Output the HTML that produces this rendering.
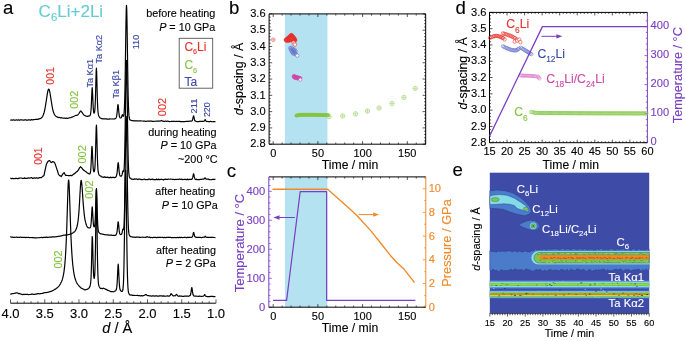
<!DOCTYPE html>
<html><head><meta charset="utf-8"><title>Figure</title>
<style>
html,body{margin:0;padding:0;background:#fff;}
svg{display:block;font-family:"Liberation Sans", sans-serif;will-change:transform;}
</style></head>
<body>
<svg width="685" height="341" viewBox="0 0 685 341">
<rect width="685" height="341" fill="#fff"/>
<text x="3" y="14" font-size="18.6" fill="#000" stroke="#000" stroke-width="0.12" text-anchor="start" style="" >a</text>
<text x="38.6" y="17.4" font-size="17" fill="#66ccd4" stroke="#66ccd4" stroke-width="0.12" text-anchor="start" style="" >C<tspan font-size="11.5" dy="4">6</tspan><tspan dy="-4">Li+2Li</tspan></text>
<path d="M10.2,120.05 L10.45,120.05 L10.7,120.05 L10.95,120.05 L11.2,119.98 L11.45,119.98 L11.7,119.97 L11.95,119.97 L12.2,120.17 L12.45,120.17 L12.7,120.17 L12.95,120.17 L13.2,119.94 L13.45,119.94 L13.7,119.93 L13.95,119.93 L14.2,120.12 L14.45,120.12 L14.7,120.11 L14.95,120.11 L15.2,120.04 L15.45,120.04 L15.7,120.04 L15.95,120.04 L16.2,119.91 L16.45,119.91 L16.7,119.91 L16.95,119.91 L17.2,120.09 L17.45,120.09 L17.7,120.08 L17.95,120.08 L18.2,119.89 L18.45,119.89 L18.7,119.89 L18.95,119.89 L19.2,120.04 L19.45,120.04 L19.7,120.04 L19.95,120.04 L20.2,119.89 L20.45,119.89 L20.7,119.88 L20.95,119.88 L21.2,119.89 L21.45,119.88 L21.7,119.88 L21.95,119.88 L22.2,120.01 L22.45,120.01 L22.7,120 L22.95,120 L23.2,120.16 L23.45,120.15 L23.7,120.15 L23.95,120.15 L24.2,119.86 L24.45,119.86 L24.7,119.86 L24.95,119.85 L25.2,119.89 L25.45,119.88 L25.7,119.88 L25.95,119.87 L26.2,120.03 L26.45,120.03 L26.7,120.02 L26.95,120.02 L27.2,120.14 L27.45,120.13 L27.7,120.13 L27.95,120.12 L28.2,119.97 L28.45,119.96 L28.7,119.96 L28.95,119.95 L29.2,119.87 L29.45,119.86 L29.7,119.86 L29.95,119.85 L30.2,120.07 L30.45,120.06 L30.7,120.05 L30.95,120.05 L31.2,119.66 L31.45,119.65 L31.7,119.64 L31.95,119.63 L32.2,119.95 L32.45,119.94 L32.7,119.92 L32.95,119.91 L33.2,119.67 L33.45,119.66 L33.7,119.64 L33.95,119.63 L34.2,119.55 L34.45,119.54 L34.7,119.52 L34.95,119.5 L35.2,119.46 L35.45,119.43 L35.7,119.4 L35.95,119.36 L36.2,119.4 L36.45,119.37 L36.7,119.33 L36.95,119.29 L37.2,119.45 L37.45,119.41 L37.7,119.36 L37.95,119.31 L38.2,119.01 L38.45,118.95 L38.7,118.89 L38.95,118.83 L39.2,118.92 L39.45,118.85 L39.7,118.77 L39.95,118.68 L40.2,118.61 L40.45,118.5 L40.7,118.38 L40.95,118.23 L41.2,117.96 L41.45,117.78 L41.7,117.56 L41.95,117.3 L42.2,117.08 L42.45,116.73 L42.7,116.33 L42.95,115.87 L43.2,115.14 L43.45,114.52 L43.7,113.82 L43.95,113.02 L44.2,112.1 L44.45,111.08 L44.7,109.95 L44.95,108.71 L45.2,107.42 L45.45,105.98 L45.7,104.45 L45.95,102.84 L46.2,101.37 L46.45,99.68 L46.7,97.98 L46.95,96.31 L47.2,94.61 L47.45,93.13 L47.7,91.82 L47.95,90.72 L48.2,89.85 L48.45,89.32 L48.7,89.11 L48.95,89.25 L49.2,89.83 L49.45,90.6 L49.7,91.63 L49.95,92.88 L50.2,94.24 L50.45,95.78 L50.7,97.38 L50.95,99.02 L51.2,100.59 L51.45,102.19 L51.7,103.73 L51.95,105.2 L52.2,106.77 L52.45,108.06 L52.7,109.23 L52.95,110.3 L53.2,111.22 L53.45,112.08 L53.7,112.83 L53.95,113.5 L54.2,113.89 L54.45,114.38 L54.7,114.8 L54.95,115.16 L55.2,115.59 L55.45,115.85 L55.7,116.06 L55.95,116.23 L56.2,116.39 L56.45,116.56 L56.7,116.7 L56.95,116.82 L57.2,117.08 L57.45,117.17 L57.7,117.26 L57.95,117.34 L58.2,117.36 L58.45,117.42 L58.7,117.49 L58.95,117.55 L59.2,117.42 L59.45,117.48 L59.7,117.52 L59.95,117.57 L60.2,117.89 L60.45,117.93 L60.7,117.97 L60.95,118.01 L61.2,117.71 L61.45,117.74 L61.7,117.78 L61.95,117.81 L62.2,117.96 L62.45,117.99 L62.7,118.01 L62.95,118.04 L63.2,118.2 L63.45,118.23 L63.7,118.25 L63.95,118.27 L64.2,118.05 L64.45,118.08 L64.7,118.1 L64.95,118.12 L65.2,118.27 L65.45,118.29 L65.7,118.31 L65.95,118.33 L66.2,118.17 L66.45,118.18 L66.7,118.2 L66.95,118.22 L67.2,118.43 L67.45,118.37 L67.7,118.31 L67.95,118.25 L68.2,118.22 L68.45,118.16 L68.7,118.1 L68.95,118.04 L69.2,117.9 L69.45,117.84 L69.7,117.78 L69.95,117.71 L70.2,117.77 L70.45,117.71 L70.7,117.64 L70.95,117.58 L71.2,117.29 L71.45,117.22 L71.7,117.15 L71.95,117.09 L72.2,117.14 L72.45,117.03 L72.7,116.92 L72.95,116.81 L73.2,116.65 L73.45,116.54 L73.7,116.43 L73.95,116.31 L74.2,116.19 L74.45,116.07 L74.7,115.95 L74.95,115.83 L75.2,115.65 L75.45,115.52 L75.7,115.39 L75.95,115.25 L76.2,115.36 L76.45,115.34 L76.7,115.31 L76.95,115.26 L77.2,115.22 L77.45,115.11 L77.7,114.97 L77.95,114.78 L78.2,114.36 L78.45,114.09 L78.7,113.76 L78.95,113.39 L79.2,113.06 L79.45,112.64 L79.7,112.22 L79.95,111.84 L80.2,111.28 L80.45,111.09 L80.7,111.04 L80.95,111.11 L81.2,111.51 L81.45,111.72 L81.7,111.99 L81.95,112.29 L82.2,112.6 L82.45,112.94 L82.7,113.29 L82.95,113.63 L83.2,114.09 L83.45,114.41 L83.7,114.7 L83.95,114.97 L84.2,115.14 L84.45,115.36 L84.7,115.56 L84.95,115.74 L85.2,115.68 L85.45,115.81 L85.7,115.92 L85.95,116.02 L86.2,116.14 L86.45,116.2 L86.7,116.24 L86.95,116.28 L87.2,116.41 L87.45,116.43 L87.7,116.43 L87.95,116.42 L88.2,116.14 L88.45,116.1 L88.7,116.05 L88.95,115.97 L89.2,116.05 L89.45,115.91 L89.7,115.72 L89.95,115.46 L90.2,114.94 L90.45,114.26 L90.7,113.05 L90.95,110.91 L91.2,107.39 L91.45,102.32 L91.7,96.11 L91.95,90.29 L92.2,87.7 L92.45,90.16 L92.7,95.85 L92.95,101.93 L93.2,107.12 L93.45,110.41 L93.7,112.29 L93.95,113.14 L94.2,113.01 L94.45,112.51 L94.7,111.21 L94.95,108.68 L95.2,104.37 L95.45,97.7 L95.7,88.76 L95.95,78.68 L96.2,70.44 L96.45,68.17 L96.7,73.5 L96.95,83.18 L97.2,93.44 L97.45,101.76 L97.7,107.7 L97.95,111.53 L98.2,113.52 L98.45,114.88 L98.7,115.72 L98.95,116.3 L99.2,116.87 L99.45,117.2 L99.7,117.47 L99.95,117.7 L100.2,117.91 L100.45,118.05 L100.7,118.16 L100.95,118.26 L101.2,118.48 L101.45,118.55 L101.7,118.62 L101.95,118.68 L102.2,118.7 L102.45,118.75 L102.7,118.79 L102.95,118.83 L103.2,118.88 L103.45,118.91 L103.7,118.94 L103.95,118.96 L104.2,118.75 L104.45,118.78 L104.7,118.8 L104.95,118.81 L105.2,118.89 L105.45,118.9 L105.7,118.92 L105.95,118.93 L106.2,118.93 L106.45,118.94 L106.7,118.95 L106.95,118.96 L107.2,119.18 L107.45,119.19 L107.7,119.2 L107.95,119.21 L108.2,119.25 L108.45,119.25 L108.7,119.26 L108.95,119.27 L109.2,118.95 L109.45,118.95 L109.7,118.96 L109.95,118.96 L110.2,118.97 L110.45,118.98 L110.7,118.98 L110.95,118.98 L111.2,119 L111.45,119 L111.7,118.99 L111.95,118.99 L112.2,118.98 L112.45,118.98 L112.7,118.97 L112.95,118.96 L113.2,119.04 L113.45,119.02 L113.7,119 L113.95,118.97 L114.2,118.98 L114.45,118.94 L114.7,118.89 L114.95,118.83 L115.2,118.6 L115.45,118.48 L115.7,118.31 L115.95,118.06 L116.2,117.56 L116.45,116.89 L116.7,115.78 L116.95,114.05 L117.2,111.8 L117.45,108.88 L117.7,106.07 L117.95,104.52 L118.2,105.16 L118.45,107.56 L118.7,110.48 L118.95,113.08 L119.2,115.1 L119.45,116.37 L119.7,117.12 L119.95,117.53 L120.2,117.89 L120.45,117.98 L120.7,117.98 L120.95,117.88 L121.2,117.56 L121.45,117.16 L121.7,116.52 L121.95,115.71 L122.2,114.89 L122.45,114.62 L122.7,115 L122.95,115.65 L123.2,116.19 L123.45,116.29 L123.7,115.78 L123.95,114.39 L124.2,111.74 L124.45,107.14 L124.7,99.89 L124.95,89.38 L125.2,75.21 L125.45,58.47 L125.7,40.43 L125.95,23.54 L126.2,11.15 L126.45,5.36 L126.7,8 L126.95,18.41 L127.2,34.12 L127.45,52.2 L127.7,69.87 L127.95,85.21 L128.2,97.32 L128.45,106 L128.7,111.78 L128.95,115.38 L129.2,117.47 L129.45,118.69 L129.7,119.39 L129.95,119.83 L130.2,119.91 L130.45,120.07 L130.7,120.19 L130.95,120.28 L131.2,120.37 L131.45,120.44 L131.7,120.5 L131.95,120.55 L132.2,120.48 L132.45,120.53 L132.7,120.56 L132.95,120.6 L133.2,120.84 L133.45,120.87 L133.7,120.89 L133.95,120.92 L134.2,120.71 L134.45,120.73 L134.7,120.74 L134.95,120.76 L135.2,120.78 L135.45,120.79 L135.7,120.8 L135.95,120.82 L136.2,120.88 L136.45,120.89 L136.7,120.9 L136.95,120.91 L137.2,120.9 L137.45,120.91 L137.7,120.92 L137.95,120.93 L138.2,121.01 L138.45,121.01 L138.7,121.02 L138.95,121.03 L139.2,120.92 L139.45,120.92 L139.7,120.93 L139.95,120.93 L140.2,120.92 L140.45,120.92 L140.7,120.93 L140.95,120.93 L141.2,121 L141.45,121 L141.7,121 L141.95,121.01 L142.2,120.99 L142.45,120.99 L142.7,121 L142.95,121 L143.2,121.11 L143.45,121.11 L143.7,121.12 L143.95,121.12 L144.2,120.99 L144.45,120.99 L144.7,120.99 L144.95,121 L145.2,121.34 L145.45,121.34 L145.7,121.34 L145.95,121.35 L146.2,121.24 L146.45,121.25 L146.7,121.25 L146.95,121.25 L147.2,121.07 L147.45,121.07 L147.7,121.07 L147.95,121.07 L148.2,121.12 L148.45,121.12 L148.7,121.12 L148.95,121.12 L149.2,121.16 L149.45,121.17 L149.7,121.17 L149.95,121.17 L150.2,121.18 L150.45,121.18 L150.7,121.18 L150.95,121.19 L151.2,121.09 L151.45,121.09 L151.7,121.09 L151.95,121.1 L152.2,121.39 L152.45,121.39 L152.7,121.39 L152.95,121.39 L153.2,121.45 L153.45,121.45 L153.7,121.45 L153.95,121.46 L154.2,121.25 L154.45,121.25 L154.7,121.25 L154.95,121.25 L155.2,121.26 L155.45,121.26 L155.7,121.26 L155.95,121.26 L156.2,121.1 L156.45,121.1 L156.7,121.1 L156.95,121.1 L157.2,121.11 L157.45,121.11 L157.7,121.1 L157.95,121.1 L158.2,121.19 L158.45,121.19 L158.7,121.18 L158.95,121.16 L159.2,121.1 L159.45,121.06 L159.7,121 L159.95,120.93 L160.2,121.06 L160.45,120.96 L160.7,120.88 L160.95,120.84 L161.2,120.6 L161.45,120.67 L161.7,120.76 L161.95,120.86 L162.2,120.89 L162.45,120.96 L162.7,121.01 L162.95,121.05 L163.2,121.44 L163.45,121.46 L163.7,121.47 L163.95,121.48 L164.2,121.31 L164.45,121.32 L164.7,121.32 L164.95,121.33 L165.2,121.18 L165.45,121.18 L165.7,121.18 L165.95,121.18 L166.2,121.35 L166.45,121.35 L166.7,121.35 L166.95,121.35 L167.2,121.15 L167.45,121.15 L167.7,121.15 L167.95,121.15 L168.2,121.36 L168.45,121.36 L168.7,121.36 L168.95,121.36 L169.2,121.54 L169.45,121.54 L169.7,121.55 L169.95,121.55 L170.2,121.5 L170.45,121.5 L170.7,121.51 L170.95,121.51 L171.2,121.44 L171.45,121.44 L171.7,121.44 L171.95,121.45 L172.2,121.27 L172.45,121.27 L172.7,121.28 L172.95,121.28 L173.2,121.32 L173.45,121.32 L173.7,121.32 L173.95,121.32 L174.2,121.25 L174.45,121.25 L174.7,121.25 L174.95,121.25 L175.2,121.49 L175.45,121.49 L175.7,121.5 L175.95,121.5 L176.2,121.4 L176.45,121.4 L176.7,121.4 L176.95,121.41 L177.2,121.51 L177.45,121.51 L177.7,121.51 L177.95,121.51 L178.2,121.33 L178.45,121.33 L178.7,121.33 L178.95,121.33 L179.2,121.29 L179.45,121.29 L179.7,121.29 L179.95,121.29 L180.2,121.53 L180.45,121.53 L180.7,121.53 L180.95,121.53 L181.2,121.6 L181.45,121.61 L181.7,121.61 L181.95,121.61 L182.2,121.56 L182.45,121.56 L182.7,121.56 L182.95,121.56 L183.2,121.54 L183.45,121.54 L183.7,121.54 L183.95,121.54 L184.2,121.55 L184.45,121.55 L184.7,121.55 L184.95,121.55 L185.2,121.52 L185.45,121.52 L185.7,121.52 L185.95,121.52 L186.2,121.31 L186.45,121.31 L186.7,121.31 L186.95,121.31 L187.2,121.42 L187.45,121.42 L187.7,121.42 L187.95,121.42 L188.2,121.35 L188.45,121.35 L188.7,121.34 L188.95,121.34 L189.2,121.2 L189.45,121.19 L189.7,121.18 L189.95,121.17 L190.2,121.16 L190.45,121.14 L190.7,121.12 L190.95,121.09 L191.2,121.15 L191.45,121.1 L191.7,121.02 L191.95,120.88 L192.2,120.62 L192.45,120.15 L192.7,119.36 L192.95,118.23 L193.2,117.06 L193.45,115.98 L193.7,115.86 L193.95,116.8 L194.2,118.25 L194.45,119.45 L194.7,120.31 L194.95,120.83 L195.2,120.92 L195.45,121.08 L195.7,121.17 L195.95,121.23 L196.2,121.47 L196.45,121.5 L196.7,121.53 L196.95,121.55 L197.2,121.59 L197.45,121.6 L197.7,121.61 L197.95,121.62 L198.2,121.62 L198.45,121.62 L198.7,121.63 L198.95,121.63 L199.2,121.4 L199.45,121.41 L199.7,121.41 L199.95,121.41 L200.2,121.36 L200.45,121.36 L200.7,121.36 L200.95,121.36 L201.2,121.37 L201.45,121.36 L201.7,121.36 L201.95,121.36 L202.2,121.35 L202.45,121.34 L202.7,121.34 L202.95,121.33 L203.2,121.31 L203.45,121.29 L203.7,121.25 L203.95,121.17 L204.2,121.16 L204.45,120.85 L204.7,120.37 L204.95,119.84 L205.2,119.69 L205.45,119.95 L205.7,120.49 L205.95,120.97 L206.2,121.26 L206.45,121.44 L206.7,121.52 L206.95,121.57 L207.2,121.45 L207.45,121.47 L207.7,121.48 L207.95,121.49 L208.2,121.57 L208.45,121.58 L208.7,121.58 L208.95,121.59 L209.2,121.65 L209.45,121.66 L209.7,121.66 L209.95,121.66 L210.2,121.38 L210.45,121.38 L210.7,121.38 L210.95,121.39 L211.2,121.62 L211.45,121.62 L211.7,121.62 L211.95,121.63 L212.2,121.73 L212.45,121.73 L212.7,121.73 L212.95,121.73 L213.2,121.68 L213.45,121.68 L213.7,121.69 L213.95,121.69 L214.2,121.68 L214.45,121.68 L214.7,121.68 L214.95,121.68 L215.2,121.57 L215.45,121.57" stroke="#000" stroke-width="1.2" fill="none" stroke-linejoin="round" />
<path d="M10.2,178.27 L10.45,178.26 L10.7,178.26 L10.95,178.25 L11.2,178.67 L11.45,178.67 L11.7,178.66 L11.95,178.66 L12.2,178.33 L12.45,178.33 L12.7,178.32 L12.95,178.32 L13.2,178.64 L13.45,178.63 L13.7,178.63 L13.95,178.62 L14.2,178.73 L14.45,178.73 L14.7,178.72 L14.95,178.72 L15.2,178.31 L15.45,178.3 L15.7,178.3 L15.95,178.29 L16.2,178.29 L16.45,178.28 L16.7,178.28 L16.95,178.27 L17.2,178.65 L17.45,178.64 L17.7,178.64 L17.95,178.63 L18.2,178.47 L18.45,178.47 L18.7,178.46 L18.95,178.45 L19.2,178.06 L19.45,178.05 L19.7,178.05 L19.95,178.04 L20.2,178.01 L20.45,178 L20.7,178 L20.95,177.99 L21.2,178 L21.45,178 L21.7,177.99 L21.95,177.98 L22.2,178.51 L22.45,178.5 L22.7,178.5 L22.95,178.49 L23.2,178.41 L23.45,178.41 L23.7,178.4 L23.95,178.4 L24.2,177.93 L24.45,177.92 L24.7,177.92 L24.95,177.91 L25.2,178.38 L25.45,178.38 L25.7,178.37 L25.95,178.37 L26.2,178.47 L26.45,178.46 L26.7,178.46 L26.95,178.45 L27.2,178.22 L27.45,178.21 L27.7,178.21 L27.95,178.2 L28.2,177.98 L28.45,177.98 L28.7,177.97 L28.95,177.96 L29.2,178.1 L29.45,178.09 L29.7,178.09 L29.95,178.08 L30.2,177.78 L30.45,177.78 L30.7,177.77 L30.95,177.77 L31.2,177.68 L31.45,177.67 L31.7,177.67 L31.95,177.66 L32.2,178.33 L32.45,178.32 L32.7,178.31 L32.95,178.31 L33.2,178.08 L33.45,178.07 L33.7,178.07 L33.95,178.06 L34.2,177.97 L34.45,177.96 L34.7,177.96 L34.95,177.95 L35.2,178.23 L35.45,178.23 L35.7,178.22 L35.95,178.21 L36.2,177.86 L36.45,177.85 L36.7,177.85 L36.95,177.84 L37.2,178.14 L37.45,178.14 L37.7,178.13 L37.95,178.12 L38.2,178.09 L38.45,178.08 L38.7,178.08 L38.95,178.07 L39.2,177.63 L39.45,177.63 L39.7,177.62 L39.95,177.62 L40.2,177.64 L40.45,177.63 L40.7,177.63 L40.95,177.62 L41.2,177.65 L41.45,177.52 L41.7,177.3 L41.95,177.09 L42.2,176.84 L42.45,176.63 L42.7,176.41 L42.95,176.2 L43.2,176.23 L43.45,176.02 L43.7,175.8 L43.95,175.59 L44.2,174.37 L44.45,173.18 L44.7,171.99 L44.95,170.81 L45.2,169.73 L45.45,168.54 L45.7,167.35 L45.95,166.17 L46.2,165.14 L46.45,164.41 L46.7,163.67 L46.95,162.94 L47.2,162.75 L47.45,162.02 L47.7,161.78 L47.95,161.66 L48.2,161.15 L48.45,161.03 L48.7,160.91 L48.95,160.79 L49.2,160.75 L49.45,160.63 L49.7,160.68 L49.95,161 L50.2,161.41 L50.45,161.73 L50.7,162.06 L50.95,162.38 L51.2,162.59 L51.45,162.49 L51.7,162.4 L51.95,162.3 L52.2,161.86 L52.45,161.77 L52.7,161.67 L52.95,161.58 L53.2,161.83 L53.45,161.73 L53.7,161.82 L53.95,162.2 L54.2,162.28 L54.45,162.66 L54.7,163.03 L54.95,163.41 L55.2,164.1 L55.45,164.85 L55.7,165.6 L55.95,166.35 L56.2,167.09 L56.45,167.84 L56.7,168.64 L56.95,169.46 L57.2,169.92 L57.45,170.73 L57.7,171.54 L57.95,172.35 L58.2,173.46 L58.45,174.27 L58.7,174.66 L58.95,174.95 L59.2,175.06 L59.45,175.35 L59.7,175.64 L59.95,175.8 L60.2,175.74 L60.45,175.81 L60.7,175.88 L60.95,175.95 L61.2,176.58 L61.45,176.25 L61.7,175.91 L61.95,175.58 L62.2,174.81 L62.45,174.47 L62.7,174.14 L62.95,173.81 L63.2,173.7 L63.45,173.39 L63.7,173.07 L63.95,172.76 L64.2,172.62 L64.45,173.16 L64.7,173.7 L64.95,174.23 L65.2,174.65 L65.45,175.18 L65.7,175.51 L65.95,175.51 L66.2,175.35 L66.45,175.35 L66.7,175.36 L66.95,175.36 L67.2,175.5 L67.45,175.5 L67.7,175.5 L67.95,175.51 L68.2,175.54 L68.45,175.54 L68.7,175.54 L68.95,175.55 L69.2,175.71 L69.45,175.71 L69.7,175.71 L69.95,175.72 L70.2,175.25 L70.45,175.25 L70.7,175.25 L70.95,175.25 L71.2,175.58 L71.45,175.58 L71.7,175.58 L71.95,175.58 L72.2,175.28 L72.45,175.07 L72.7,174.87 L72.95,174.66 L73.2,174.47 L73.45,174.26 L73.7,174.05 L73.95,173.84 L74.2,173.98 L74.45,173.77 L74.7,173.56 L74.95,173.35 L75.2,172.96 L75.45,172.75 L75.7,172.54 L75.95,172.33 L76.2,172.16 L76.45,171.95 L76.7,171.74 L76.95,171.53 L77.2,171.46 L77.45,171.21 L77.7,170.85 L77.95,170.48 L78.2,170.22 L78.45,169.86 L78.7,169.49 L78.95,169.13 L79.2,168.43 L79.45,168.06 L79.7,167.7 L79.95,167.33 L80.2,167.08 L80.45,166.71 L80.7,166.87 L80.95,167.16 L81.2,167.37 L81.45,167.65 L81.7,167.94 L81.95,168.22 L82.2,168.51 L82.45,168.8 L82.7,169.08 L82.95,169.36 L83.2,169.77 L83.45,170.05 L83.7,170.26 L83.95,170.45 L84.2,170.47 L84.45,170.65 L84.7,170.84 L84.95,171.02 L85.2,171.26 L85.45,171.44 L85.7,171.61 L85.95,171.79 L86.2,171.92 L86.45,172.09 L86.7,172.26 L86.95,172.42 L87.2,172.9 L87.45,173.05 L87.7,173.19 L87.95,173.33 L88.2,173.34 L88.45,173.5 L88.7,173.64 L88.95,173.75 L89.2,173.96 L89.45,174 L89.7,173.97 L89.95,173.7 L90.2,173.23 L90.45,172.24 L90.7,170.41 L90.95,167.3 L91.2,162.03 L91.45,155.91 L91.7,149.77 L91.95,146.26 L92.2,147.91 L92.45,153.16 L92.7,159.29 L92.95,164.45 L93.2,168.31 L93.45,170.43 L93.7,171.47 L93.95,171.8 L94.2,171.58 L94.45,170.97 L94.7,169.61 L94.95,167.01 L95.2,162.08 L95.45,155.28 L95.7,146.17 L95.95,135.91 L96.2,127.46 L96.45,125.17 L96.7,130.62 L96.95,140.53 L97.2,151.04 L97.45,159.55 L97.7,165.65 L97.95,169.58 L98.2,171.7 L98.45,173.12 L98.7,173.95 L98.95,174.5 L99.2,175.02 L99.45,175.32 L99.7,175.56 L99.95,175.76 L100.2,175.81 L100.45,175.95 L100.7,176.06 L100.95,176.16 L101.2,176.67 L101.45,176.75 L101.7,176.81 L101.95,176.87 L102.2,177.01 L102.45,177.05 L102.7,177.1 L102.95,177.14 L103.2,177.25 L103.45,177.28 L103.7,177.31 L103.95,177.34 L104.2,176.85 L104.45,176.87 L104.7,176.89 L104.95,176.92 L105.2,177.33 L105.45,177.35 L105.7,177.36 L105.95,177.38 L106.2,177.36 L106.45,177.37 L106.7,177.38 L106.95,177.4 L107.2,177.05 L107.45,177.06 L107.7,177.07 L107.95,177.08 L108.2,177.61 L108.45,177.62 L108.7,177.63 L108.95,177.63 L109.2,177.7 L109.45,177.71 L109.7,177.71 L109.95,177.72 L110.2,177.2 L110.45,177.2 L110.7,177.21 L110.95,177.21 L111.2,177.72 L111.45,177.73 L111.7,177.72 L111.95,177.72 L112.2,177.33 L112.45,177.33 L112.7,177.32 L112.95,177.31 L113.2,177.36 L113.45,177.35 L113.7,177.33 L113.95,177.31 L114.2,177.63 L114.45,177.6 L114.7,177.55 L114.95,177.5 L115.2,177.32 L115.45,177.23 L115.7,177.11 L115.95,176.94 L116.2,176.21 L116.45,175.77 L116.7,175.02 L116.95,173.77 L117.2,172.04 L117.45,169.43 L117.7,166.38 L117.95,163.64 L118.2,162.53 L118.45,163.67 L118.7,166.38 L118.95,169.4 L119.2,171.85 L119.45,173.73 L119.7,174.94 L119.95,175.64 L120.2,175.92 L120.45,176.12 L120.7,176.21 L120.95,176.21 L121.2,176.22 L121.45,176.03 L121.7,175.62 L121.95,174.91 L122.2,174.13 L122.45,172.79 L122.7,171.53 L122.95,171 L123.2,170.89 L123.45,171.52 L123.7,171.55 L123.95,170.35 L124.2,167.73 L124.45,162.26 L124.7,153.66 L124.95,141.53 L125.2,125.92 L125.45,107.97 L125.7,89.6 L125.95,73.6 L126.2,62.8 L126.45,60.25 L126.7,66.35 L126.95,79.58 L127.2,97.29 L127.45,115.97 L127.7,133.32 L127.95,147.77 L128.2,158.93 L128.45,166.57 L128.7,171.5 L128.95,174.5 L129.2,176.16 L129.45,177.15 L129.7,177.73 L129.95,178.1 L130.2,178 L130.45,178.14 L130.7,178.25 L130.95,178.34 L131.2,179.07 L131.45,179.13 L131.7,179.19 L131.95,179.24 L132.2,179.15 L132.45,179.19 L132.7,179.23 L132.95,179.26 L133.2,179.42 L133.45,179.44 L133.7,179.47 L133.95,179.49 L134.2,178.9 L134.45,178.92 L134.7,178.94 L134.95,178.95 L135.2,179.08 L135.45,179.09 L135.7,179.1 L135.95,179.11 L136.2,178.96 L136.45,178.97 L136.7,178.98 L136.95,178.99 L137.2,179.52 L137.45,179.52 L137.7,179.53 L137.95,179.54 L138.2,179.19 L138.45,179.19 L138.7,179.2 L138.95,179.2 L139.2,179.11 L139.45,179.11 L139.7,179.12 L139.95,179.12 L140.2,179.33 L140.45,179.33 L140.7,179.34 L140.95,179.34 L141.2,179.69 L141.45,179.69 L141.7,179.69 L141.95,179.69 L142.2,179.63 L142.45,179.63 L142.7,179.64 L142.95,179.64 L143.2,179.25 L143.45,179.25 L143.7,179.25 L143.95,179.25 L144.2,179.18 L144.45,179.18 L144.7,179.18 L144.95,179.18 L145.2,179.73 L145.45,179.73 L145.7,179.73 L145.95,179.73 L146.2,179.49 L146.45,179.49 L146.7,179.49 L146.95,179.49 L147.2,179.58 L147.45,179.58 L147.7,179.59 L147.95,179.59 L148.2,179.16 L148.45,179.16 L148.7,179.16 L148.95,179.16 L149.2,179.14 L149.45,179.14 L149.7,179.14 L149.95,179.14 L150.2,179.59 L150.45,179.59 L150.7,179.59 L150.95,179.59 L151.2,179.41 L151.45,179.41 L151.7,179.41 L151.95,179.41 L152.2,179.16 L152.45,179.16 L152.7,179.16 L152.95,179.16 L153.2,179.77 L153.45,179.77 L153.7,179.77 L153.95,179.77 L154.2,179.56 L154.45,179.56 L154.7,179.56 L154.95,179.56 L155.2,179.68 L155.45,179.68 L155.7,179.68 L155.95,179.68 L156.2,179.18 L156.45,179.18 L156.7,179.18 L156.95,179.18 L157.2,179.72 L157.45,179.72 L157.7,179.72 L157.95,179.72 L158.2,179.17 L158.45,179.17 L158.7,179.17 L158.95,179.17 L159.2,179.73 L159.45,179.73 L159.7,179.73 L159.95,179.73 L160.2,179.44 L160.45,179.44 L160.7,179.44 L160.95,179.44 L161.2,179.36 L161.45,179.36 L161.7,179.36 L161.95,179.36 L162.2,179.51 L162.45,179.51 L162.7,179.51 L162.95,179.51 L163.2,179.78 L163.45,179.78 L163.7,179.78 L163.95,179.78 L164.2,179.32 L164.45,179.32 L164.7,179.32 L164.95,179.32 L165.2,179.22 L165.45,179.22 L165.7,179.22 L165.95,179.22 L166.2,179.5 L166.45,179.5 L166.7,179.5 L166.95,179.5 L167.2,179.3 L167.45,179.3 L167.7,179.3 L167.95,179.3 L168.2,179.21 L168.45,179.21 L168.7,179.21 L168.95,179.21 L169.2,179.24 L169.45,179.24 L169.7,179.24 L169.95,179.24 L170.2,179.17 L170.45,179.17 L170.7,179.17 L170.95,179.17 L171.2,179.27 L171.45,179.27 L171.7,179.27 L171.95,179.27 L172.2,179.35 L172.45,179.35 L172.7,179.35 L172.95,179.35 L173.2,179.35 L173.45,179.35 L173.7,179.35 L173.95,179.35 L174.2,179.66 L174.45,179.66 L174.7,179.66 L174.95,179.66 L175.2,179.34 L175.45,179.34 L175.7,179.34 L175.95,179.34 L176.2,179.48 L176.45,179.48 L176.7,179.48 L176.95,179.48 L177.2,179.26 L177.45,179.26 L177.7,179.26 L177.95,179.26 L178.2,179.37 L178.45,179.37 L178.7,179.37 L178.95,179.37 L179.2,179.14 L179.45,179.14 L179.7,179.14 L179.95,179.14 L180.2,179.31 L180.45,179.31 L180.7,179.31 L180.95,179.31 L181.2,179.14 L181.45,179.14 L181.7,179.14 L181.95,179.14 L182.2,179.64 L182.45,179.64 L182.7,179.64 L182.95,179.64 L183.2,179.51 L183.45,179.51 L183.7,179.51 L183.95,179.51 L184.2,179.26 L184.45,179.26 L184.7,179.25 L184.95,179.25 L185.2,179.45 L185.45,179.45 L185.7,179.45 L185.95,179.45 L186.2,179.77 L186.45,179.77 L186.7,179.76 L186.95,179.76 L187.2,179.18 L187.45,179.18 L187.7,179.17 L187.95,179.17 L188.2,179.67 L188.45,179.66 L188.7,179.66 L188.95,179.65 L189.2,179.37 L189.45,179.36 L189.7,179.35 L189.95,179.34 L190.2,179.37 L190.45,179.35 L190.7,179.33 L190.95,179.3 L191.2,179.5 L191.45,179.44 L191.7,179.36 L191.95,179.22 L192.2,178.65 L192.45,178.18 L192.7,177.4 L192.95,176.26 L193.2,175 L193.45,173.91 L193.7,173.79 L193.95,174.74 L194.2,176.21 L194.45,177.41 L194.7,178.26 L194.95,178.79 L195.2,179.28 L195.45,179.44 L195.7,179.53 L195.95,179.59 L196.2,179.18 L196.45,179.21 L196.7,179.24 L196.95,179.26 L197.2,179.62 L197.45,179.63 L197.7,179.64 L197.95,179.65 L198.2,179.57 L198.45,179.57 L198.7,179.58 L198.95,179.58 L199.2,179.54 L199.45,179.54 L199.7,179.54 L199.95,179.54 L200.2,179.38 L200.45,179.38 L200.7,179.38 L200.95,179.38 L201.2,179.34 L201.45,179.34 L201.7,179.34 L201.95,179.34 L202.2,179.13 L202.45,179.13 L202.7,179.12 L202.95,179.11 L203.2,179.15 L203.45,179.13 L203.7,179.09 L203.95,179.02 L204.2,178.83 L204.45,178.56 L204.7,178.16 L204.95,177.7 L205.2,177.95 L205.45,178.18 L205.7,178.63 L205.95,179.03 L206.2,178.97 L206.45,179.11 L206.7,179.19 L206.95,179.22 L207.2,179.18 L207.45,179.2 L207.7,179.21 L207.95,179.21 L208.2,179.16 L208.45,179.17 L208.7,179.17 L208.95,179.18 L209.2,179.71 L209.45,179.71 L209.7,179.71 L209.95,179.72 L210.2,179.74 L210.45,179.74 L210.7,179.74 L210.95,179.74 L211.2,179.6 L211.45,179.6 L211.7,179.6 L211.95,179.6 L212.2,179.33 L212.45,179.33 L212.7,179.33 L212.95,179.33 L213.2,179.31 L213.45,179.31 L213.7,179.31 L213.95,179.31 L214.2,179.34 L214.45,179.34 L214.7,179.34 L214.95,179.34 L215.2,179.46 L215.45,179.46" stroke="#000" stroke-width="1.2" fill="none" stroke-linejoin="round" />
<path d="M10.2,236.93 L10.45,236.93 L10.7,236.94 L10.95,236.95 L11.2,237.07 L11.45,237.08 L11.7,237.09 L11.95,237.1 L12.2,237.03 L12.45,237.04 L12.7,237.05 L12.95,237.05 L13.2,237.34 L13.45,237.35 L13.7,237.36 L13.95,237.36 L14.2,237.38 L14.45,237.38 L14.7,237.39 L14.95,237.4 L15.2,237.24 L15.45,237.24 L15.7,237.25 L15.95,237.26 L16.2,237.15 L16.45,237.15 L16.7,237.16 L16.95,237.17 L17.2,237.47 L17.45,237.47 L17.7,237.48 L17.95,237.49 L18.2,237.23 L18.45,237.24 L18.7,237.25 L18.95,237.26 L19.2,237.28 L19.45,237.29 L19.7,237.3 L19.95,237.31 L20.2,237.17 L20.45,237.18 L20.7,237.19 L20.95,237.2 L21.2,237.36 L21.45,237.36 L21.7,237.37 L21.95,237.38 L22.2,237.42 L22.45,237.43 L22.7,237.44 L22.95,237.45 L23.2,237.46 L23.45,237.47 L23.7,237.48 L23.95,237.49 L24.2,237.37 L24.45,237.38 L24.7,237.39 L24.95,237.4 L25.2,237.53 L25.45,237.53 L25.7,237.54 L25.95,237.55 L26.2,237.36 L26.45,237.36 L26.7,237.37 L26.95,237.38 L27.2,237.49 L27.45,237.5 L27.7,237.51 L27.95,237.51 L28.2,237.45 L28.45,237.46 L28.7,237.47 L28.95,237.47 L29.2,237.6 L29.45,237.61 L29.7,237.62 L29.95,237.63 L30.2,237.49 L30.45,237.5 L30.7,237.51 L30.95,237.51 L31.2,237.51 L31.45,237.52 L31.7,237.53 L31.95,237.53 L32.2,237.65 L32.45,237.66 L32.7,237.67 L32.95,237.68 L33.2,237.65 L33.45,237.66 L33.7,237.67 L33.95,237.68 L34.2,237.82 L34.45,237.83 L34.7,237.84 L34.95,237.85 L35.2,237.82 L35.45,237.8 L35.7,237.79 L35.95,237.78 L36.2,237.86 L36.45,237.84 L36.7,237.83 L36.95,237.82 L37.2,237.77 L37.45,237.76 L37.7,237.74 L37.95,237.73 L38.2,237.74 L38.45,237.73 L38.7,237.72 L38.95,237.71 L39.2,237.76 L39.45,237.75 L39.7,237.73 L39.95,237.72 L40.2,237.51 L40.45,237.5 L40.7,237.49 L40.95,237.48 L41.2,237.44 L41.45,237.42 L41.7,237.41 L41.95,237.4 L42.2,237.65 L42.45,237.64 L42.7,237.62 L42.95,237.61 L43.2,237.26 L43.45,237.25 L43.7,237.24 L43.95,237.23 L44.2,237.44 L44.45,237.43 L44.7,237.42 L44.95,237.4 L45.2,237.36 L45.45,237.34 L45.7,237.33 L45.95,237.32 L46.2,237.07 L46.45,237.05 L46.7,237.04 L46.95,237.03 L47.2,237.33 L47.45,237.31 L47.7,237.3 L47.95,237.29 L48.2,237.3 L48.45,237.28 L48.7,237.27 L48.95,237.26 L49.2,237.14 L49.45,237.12 L49.7,237.11 L49.95,237.09 L50.2,237.12 L50.45,237.11 L50.7,237.09 L50.95,237.08 L51.2,237.1 L51.45,237.08 L51.7,237.07 L51.95,237.05 L52.2,236.77 L52.45,236.75 L52.7,236.74 L52.95,236.72 L53.2,236.86 L53.45,236.85 L53.7,236.83 L53.95,236.82 L54.2,236.79 L54.45,236.78 L54.7,236.76 L54.95,236.75 L55.2,236.85 L55.45,236.81 L55.7,236.78 L55.95,236.74 L56.2,236.69 L56.45,236.66 L56.7,236.62 L56.95,236.59 L57.2,236.56 L57.45,236.52 L57.7,236.48 L57.95,236.45 L58.2,236.31 L58.45,236.28 L58.7,236.24 L58.95,236.2 L59.2,236.29 L59.45,236.25 L59.7,236.21 L59.95,236.17 L60.2,236.05 L60.45,236.01 L60.7,235.97 L60.95,235.93 L61.2,235.89 L61.45,235.85 L61.7,235.81 L61.95,235.77 L62.2,235.54 L62.45,235.5 L62.7,235.45 L62.95,235.41 L63.2,235.29 L63.45,235.25 L63.7,235.21 L63.95,235.18 L64.2,235.18 L64.45,235.15 L64.7,235.11 L64.95,235.07 L65.2,235.13 L65.45,235.09 L65.7,235.05 L65.95,235 L66.2,234.86 L66.45,234.82 L66.7,234.77 L66.95,234.72 L67.2,234.97 L67.45,234.92 L67.7,234.87 L67.95,234.81 L68.2,234.65 L68.45,234.59 L68.7,234.53 L68.95,234.47 L69.2,234.43 L69.45,234.36 L69.7,234.29 L69.95,234.22 L70.2,234.14 L70.45,234.06 L70.7,233.98 L70.95,233.89 L71.2,233.82 L71.45,233.72 L71.7,233.62 L71.95,233.51 L72.2,233.31 L72.45,233.18 L72.7,233.04 L72.95,232.89 L73.2,232.54 L73.45,232.36 L73.7,232.18 L73.95,231.97 L74.2,232.06 L74.45,231.82 L74.7,231.54 L74.95,231.24 L75.2,230.89 L75.45,230.51 L75.7,230.09 L75.95,229.61 L76.2,228.96 L76.45,228.33 L76.7,227.6 L76.95,226.74 L77.2,225.75 L77.45,224.56 L77.7,223.15 L77.95,221.48 L78.2,219.55 L78.45,217.21 L78.7,214.49 L78.95,211.35 L79.2,207.53 L79.45,203.52 L79.7,199.13 L79.95,194.52 L80.2,190.2 L80.45,186.01 L80.7,182.72 L80.95,180.8 L81.2,180.33 L81.45,181.27 L81.7,183.19 L81.95,185.89 L82.2,189.05 L82.45,192.56 L82.7,196.16 L82.95,199.68 L83.2,203.1 L83.45,206.22 L83.7,209.06 L83.95,211.62 L84.2,214.08 L84.45,216.09 L84.7,217.86 L84.95,219.41 L85.2,220.54 L85.45,221.71 L85.7,222.72 L85.95,223.59 L86.2,224.55 L86.45,225.2 L86.7,225.75 L86.95,226.22 L87.2,226.72 L87.45,227.07 L87.7,227.37 L87.95,227.61 L88.2,227.62 L88.45,227.79 L88.7,227.91 L88.95,228 L89.2,228 L89.45,228.01 L89.7,227.95 L89.95,227.87 L90.2,227.7 L90.45,227.26 L90.7,226.38 L90.95,224.76 L91.2,222.13 L91.45,218.17 L91.7,213.29 L91.95,208.72 L92.2,206.75 L92.45,208.73 L92.7,213.27 L92.95,218.1 L93.2,221.94 L93.45,224.55 L93.7,226.03 L93.95,226.68 L94.2,226.82 L94.45,226.53 L94.7,225.55 L94.95,223.48 L95.2,219.59 L95.45,213.88 L95.7,206.18 L95.95,197.47 L96.2,190.37 L96.45,188.53 L96.7,193.38 L96.95,202.07 L97.2,211.13 L97.45,218.61 L97.7,224 L97.95,227.53 L98.2,229.91 L98.45,231.26 L98.7,232.03 L98.95,232.51 L99.2,232.69 L99.45,232.97 L99.7,233.19 L99.95,233.38 L100.2,233.64 L100.45,233.77 L100.7,233.88 L100.95,233.98 L101.2,233.84 L101.45,233.91 L101.7,233.98 L101.95,234.04 L102.2,234.11 L102.45,234.16 L102.7,234.2 L102.95,234.24 L103.2,234.36 L103.45,234.4 L103.7,234.43 L103.95,234.45 L104.2,234.64 L104.45,234.67 L104.7,234.69 L104.95,234.71 L105.2,234.74 L105.45,234.76 L105.7,234.79 L105.95,234.82 L106.2,234.85 L106.45,234.88 L106.7,234.91 L106.95,234.94 L107.2,234.82 L107.45,234.85 L107.7,234.87 L107.95,234.9 L108.2,235.02 L108.45,235.04 L108.7,235.07 L108.95,235.09 L109.2,235.1 L109.45,235.12 L109.7,235.14 L109.95,235.16 L110.2,235.18 L110.45,235.2 L110.7,235.22 L110.95,235.24 L111.2,235.12 L111.45,235.13 L111.7,235.15 L111.95,235.16 L112.2,235.49 L112.45,235.5 L112.7,235.5 L112.95,235.51 L113.2,235.24 L113.45,235.24 L113.7,235.24 L113.95,235.23 L114.2,235.53 L114.45,235.51 L114.7,235.48 L114.95,235.45 L115.2,235.37 L115.45,235.29 L115.7,235.18 L115.95,235.03 L116.2,234.42 L116.45,234.01 L116.7,233.31 L116.95,232.14 L117.2,230.54 L117.45,228.1 L117.7,225.25 L117.95,222.69 L118.2,221.75 L118.45,222.81 L118.7,225.34 L118.95,228.16 L119.2,230.63 L119.45,232.38 L119.7,233.5 L119.95,234.16 L120.2,234.31 L120.45,234.49 L120.7,234.56 L120.95,234.56 L121.2,234.42 L121.45,234.22 L121.7,233.85 L121.95,233.18 L122.2,232.17 L122.45,230.91 L122.7,229.7 L122.95,229.08 L123.2,229.48 L123.45,229.58 L123.7,228.78 L123.95,226.29 L124.2,221.12 L124.45,213.13 L124.7,201.56 L124.95,186.41 L125.2,168.67 L125.45,149.86 L125.7,132.84 L125.95,120.79 L126.2,116.27 L126.45,120.76 L126.7,132.96 L126.95,150.12 L127.2,169.24 L127.45,187.31 L127.7,202.66 L127.95,214.51 L128.2,223.07 L128.45,228.56 L128.7,231.93 L128.95,233.89 L129.2,234.68 L129.45,235.32 L129.7,235.71 L129.95,235.98 L130.2,236.42 L130.45,236.54 L130.7,236.64 L130.95,236.72 L131.2,236.67 L131.45,236.73 L131.7,236.79 L131.95,236.84 L132.2,237.03 L132.45,237.07 L132.7,237.1 L132.95,237.14 L133.2,237.09 L133.45,237.11 L133.7,237.14 L133.95,237.16 L134.2,236.99 L134.45,237.01 L134.7,237.02 L134.95,237.04 L135.2,237.32 L135.45,237.33 L135.7,237.34 L135.95,237.35 L136.2,237.2 L136.45,237.21 L136.7,237.22 L136.95,237.23 L137.2,237.05 L137.45,237.06 L137.7,237.06 L137.95,237.07 L138.2,237.07 L138.45,237.07 L138.7,237.08 L138.95,237.09 L139.2,237.29 L139.45,237.29 L139.7,237.3 L139.95,237.3 L140.2,237.29 L140.45,237.29 L140.7,237.29 L140.95,237.3 L141.2,237.24 L141.45,237.24 L141.7,237.25 L141.95,237.25 L142.2,237.19 L142.45,237.19 L142.7,237.19 L142.95,237.19 L143.2,237.27 L143.45,237.27 L143.7,237.28 L143.95,237.27 L144.2,237.26 L144.45,237.26 L144.7,237.26 L144.95,237.25 L145.2,237.45 L145.45,237.43 L145.7,237.41 L145.95,237.37 L146.2,236.97 L146.45,236.9 L146.7,236.81 L146.95,236.71 L147.2,236.93 L147.45,236.89 L147.7,236.91 L147.95,236.98 L148.2,237.11 L148.45,237.21 L148.7,237.3 L148.95,237.36 L149.2,237.13 L149.45,237.16 L149.7,237.18 L149.95,237.2 L150.2,237.53 L150.45,237.54 L150.7,237.55 L150.95,237.55 L151.2,237.47 L151.45,237.47 L151.7,237.48 L151.95,237.48 L152.2,237.56 L152.45,237.56 L152.7,237.56 L152.95,237.56 L153.2,237.32 L153.45,237.32 L153.7,237.32 L153.95,237.32 L154.2,237.36 L154.45,237.36 L154.7,237.36 L154.95,237.36 L155.2,237.37 L155.45,237.37 L155.7,237.37 L155.95,237.38 L156.2,237.62 L156.45,237.62 L156.7,237.62 L156.95,237.62 L157.2,237.46 L157.45,237.46 L157.7,237.46 L157.95,237.46 L158.2,237.37 L158.45,237.37 L158.7,237.37 L158.95,237.37 L159.2,237.4 L159.45,237.4 L159.7,237.4 L159.95,237.4 L160.2,237.34 L160.45,237.34 L160.7,237.34 L160.95,237.34 L161.2,237.25 L161.45,237.25 L161.7,237.25 L161.95,237.25 L162.2,237.28 L162.45,237.28 L162.7,237.28 L162.95,237.28 L163.2,237.57 L163.45,237.57 L163.7,237.57 L163.95,237.57 L164.2,237.35 L164.45,237.35 L164.7,237.36 L164.95,237.36 L165.2,237.62 L165.45,237.62 L165.7,237.62 L165.95,237.62 L166.2,237.34 L166.45,237.34 L166.7,237.34 L166.95,237.34 L167.2,237.35 L167.45,237.35 L167.7,237.35 L167.95,237.35 L168.2,237.45 L168.45,237.45 L168.7,237.45 L168.95,237.45 L169.2,237.32 L169.45,237.32 L169.7,237.32 L169.95,237.32 L170.2,237.4 L170.45,237.4 L170.7,237.4 L170.95,237.4 L171.2,237.63 L171.45,237.63 L171.7,237.63 L171.95,237.63 L172.2,237.6 L172.45,237.6 L172.7,237.61 L172.95,237.61 L173.2,237.58 L173.45,237.58 L173.7,237.58 L173.95,237.58 L174.2,237.51 L174.45,237.51 L174.7,237.51 L174.95,237.51 L175.2,237.62 L175.45,237.62 L175.7,237.62 L175.95,237.62 L176.2,237.63 L176.45,237.63 L176.7,237.63 L176.95,237.63 L177.2,237.47 L177.45,237.47 L177.7,237.47 L177.95,237.47 L178.2,237.54 L178.45,237.54 L178.7,237.54 L178.95,237.54 L179.2,237.28 L179.45,237.28 L179.7,237.28 L179.95,237.28 L180.2,237.55 L180.45,237.55 L180.7,237.55 L180.95,237.55 L181.2,237.44 L181.45,237.44 L181.7,237.44 L181.95,237.43 L182.2,237.56 L182.45,237.56 L182.7,237.55 L182.95,237.55 L183.2,237.51 L183.45,237.51 L183.7,237.51 L183.95,237.51 L184.2,237.37 L184.45,237.37 L184.7,237.36 L184.95,237.36 L185.2,237.27 L185.45,237.27 L185.7,237.27 L185.95,237.27 L186.2,237.62 L186.45,237.61 L186.7,237.61 L186.95,237.61 L187.2,237.29 L187.45,237.29 L187.7,237.28 L187.95,237.28 L188.2,237.42 L188.45,237.41 L188.7,237.41 L188.95,237.4 L189.2,237.34 L189.45,237.34 L189.7,237.33 L189.95,237.32 L190.2,237.29 L190.45,237.27 L190.7,237.25 L190.95,237.23 L191.2,237.37 L191.45,237.32 L191.7,237.25 L191.95,237.13 L192.2,237 L192.45,236.6 L192.7,235.92 L192.95,234.94 L193.2,233.5 L193.45,232.56 L193.7,232.46 L193.95,233.27 L194.2,234.59 L194.45,235.62 L194.7,236.36 L194.95,236.81 L195.2,236.92 L195.45,237.06 L195.7,237.14 L195.95,237.19 L196.2,237.32 L196.45,237.35 L196.7,237.37 L196.95,237.39 L197.2,237.34 L197.45,237.35 L197.7,237.36 L197.95,237.36 L198.2,237.28 L198.45,237.28 L198.7,237.29 L198.95,237.29 L199.2,237.29 L199.45,237.3 L199.7,237.3 L199.95,237.3 L200.2,237.32 L200.45,237.32 L200.7,237.32 L200.95,237.32 L201.2,237.6 L201.45,237.6 L201.7,237.6 L201.95,237.6 L202.2,237.43 L202.45,237.43 L202.7,237.42 L202.95,237.41 L203.2,237.29 L203.45,237.27 L203.7,237.24 L203.95,237.18 L204.2,237.32 L204.45,237.08 L204.7,236.72 L204.95,236.33 L205.2,236.17 L205.45,236.36 L205.7,236.76 L205.95,237.12 L206.2,237.14 L206.45,237.27 L206.7,237.34 L206.95,237.37 L207.2,237.27 L207.45,237.28 L207.7,237.29 L207.95,237.29 L208.2,237.32 L208.45,237.33 L208.7,237.33 L208.95,237.33 L209.2,237.29 L209.45,237.3 L209.7,237.3 L209.95,237.3 L210.2,237.4 L210.45,237.4 L210.7,237.4 L210.95,237.4 L211.2,237.3 L211.45,237.31 L211.7,237.31 L211.95,237.31 L212.2,237.37 L212.45,237.37 L212.7,237.37 L212.95,237.37 L213.2,237.38 L213.45,237.38 L213.7,237.38 L213.95,237.38 L214.2,237.5 L214.45,237.5 L214.7,237.5 L214.95,237.5 L215.2,237.63 L215.45,237.63" stroke="#000" stroke-width="1.2" fill="none" stroke-linejoin="round" />
<path d="M10.2,294.25 L10.45,294.21 L10.7,294.16 L10.95,294.11 L11.2,293.93 L11.45,293.88 L11.7,293.83 L11.95,293.79 L12.2,293.74 L12.45,293.69 L12.7,293.64 L12.95,293.6 L13.2,293.59 L13.45,293.55 L13.7,293.5 L13.95,293.45 L14.2,293.34 L14.45,293.3 L14.7,293.25 L14.95,293.2 L15.2,293.14 L15.45,293.09 L15.7,293.04 L15.95,292.99 L16.2,292.84 L16.45,292.79 L16.7,292.74 L16.95,292.81 L17.2,292.96 L17.45,293.03 L17.7,293.09 L17.95,293.16 L18.2,293.5 L18.45,293.57 L18.7,293.64 L18.95,293.7 L19.2,293.43 L19.45,293.5 L19.7,293.57 L19.95,293.63 L20.2,293.85 L20.45,293.92 L20.7,293.98 L20.95,294.05 L21.2,294.17 L21.45,294.23 L21.7,294.3 L21.95,294.36 L22.2,294.52 L22.45,294.59 L22.7,294.66 L22.95,294.71 L23.2,294.44 L23.45,294.44 L23.7,294.43 L23.95,294.42 L24.2,294.44 L24.45,294.43 L24.7,294.42 L24.95,294.42 L25.2,294.4 L25.45,294.39 L25.7,294.39 L25.95,294.38 L26.2,294.43 L26.45,294.43 L26.7,294.42 L26.95,294.41 L27.2,294.42 L27.45,294.41 L27.7,294.41 L27.95,294.4 L28.2,294.59 L28.45,294.59 L28.7,294.58 L28.95,294.57 L29.2,294.52 L29.45,294.51 L29.7,294.5 L29.95,294.5 L30.2,294.5 L30.45,294.49 L30.7,294.48 L30.95,294.47 L31.2,294.12 L31.45,294.11 L31.7,294.11 L31.95,294.1 L32.2,294.09 L32.45,294.08 L32.7,294.07 L32.95,294.06 L33.2,294.33 L33.45,294.32 L33.7,294.31 L33.95,294.3 L34.2,294.36 L34.45,294.35 L34.7,294.34 L34.95,294.33 L35.2,294.15 L35.45,294.12 L35.7,294.09 L35.95,294.06 L36.2,294.08 L36.45,294.05 L36.7,294.01 L36.95,293.98 L37.2,293.72 L37.45,293.69 L37.7,293.65 L37.95,293.62 L38.2,293.75 L38.45,293.71 L38.7,293.68 L38.95,293.65 L39.2,293.83 L39.45,293.8 L39.7,293.76 L39.95,293.73 L40.2,293.65 L40.45,293.62 L40.7,293.59 L40.95,293.55 L41.2,293.53 L41.45,293.49 L41.7,293.46 L41.95,293.42 L42.2,293.43 L42.45,293.39 L42.7,293.36 L42.95,293.32 L43.2,292.99 L43.45,292.95 L43.7,292.91 L43.95,292.87 L44.2,292.78 L44.45,292.74 L44.7,292.7 L44.95,292.66 L45.2,292.63 L45.45,292.59 L45.7,292.55 L45.95,292.49 L46.2,292.58 L46.45,292.52 L46.7,292.46 L46.95,292.4 L47.2,292.4 L47.45,292.33 L47.7,292.27 L47.95,292.21 L48.2,292.24 L48.45,292.18 L48.7,292.11 L48.95,292.04 L49.2,291.88 L49.45,291.81 L49.7,291.74 L49.95,291.67 L50.2,291.56 L50.45,291.48 L50.7,291.41 L50.95,291.33 L51.2,291.29 L51.45,291.21 L51.7,291.12 L51.95,291.04 L52.2,290.82 L52.45,290.73 L52.7,290.64 L52.95,290.52 L53.2,290.42 L53.45,290.29 L53.7,290.15 L53.95,290.01 L54.2,289.66 L54.45,289.51 L54.7,289.35 L54.95,289.19 L55.2,289.33 L55.45,289.16 L55.7,288.99 L55.95,288.81 L56.2,288.4 L56.45,288.21 L56.7,288.01 L56.95,287.8 L57.2,287.86 L57.45,287.63 L57.7,287.4 L57.95,287.15 L58.2,286.8 L58.45,286.56 L58.7,286.31 L58.95,286.03 L59.2,285.61 L59.45,285.3 L59.7,284.97 L59.95,284.61 L60.2,284.16 L60.45,283.75 L60.7,283.31 L60.95,282.83 L61.2,282.37 L61.45,281.8 L61.7,281.19 L61.95,280.51 L62.2,279.93 L62.45,279.11 L62.7,278.21 L62.95,277.2 L63.2,276.11 L63.45,274.85 L63.7,273.44 L63.95,271.85 L64.2,269.83 L64.45,267.81 L64.7,265.5 L64.95,262.84 L65.2,259.77 L65.45,256.24 L65.7,252.18 L65.95,247.51 L66.2,242.34 L66.45,236.25 L66.7,229.4 L66.95,221.82 L67.2,213.67 L67.45,205.2 L67.7,196.91 L67.95,189.5 L68.2,183.7 L68.45,180.43 L68.7,180.08 L68.95,182.34 L69.2,186.76 L69.45,192.93 L69.7,200.15 L69.95,207.85 L70.2,215.69 L70.45,223.06 L70.7,229.91 L70.95,236.15 L71.2,241.51 L71.45,246.49 L71.7,250.89 L71.95,254.76 L72.2,258.29 L72.45,261.28 L72.7,263.91 L72.95,266.22 L73.2,268.36 L73.45,270.21 L73.7,271.86 L73.95,273.32 L74.2,274.83 L74.45,276.01 L74.7,277.07 L74.95,278.02 L75.2,278.77 L75.45,279.56 L75.7,280.28 L75.95,280.94 L76.2,281.65 L76.45,282.21 L76.7,282.72 L76.95,283.2 L77.2,283.48 L77.45,283.9 L77.7,284.28 L77.95,284.64 L78.2,284.88 L78.45,285.2 L78.7,285.5 L78.95,285.78 L79.2,286.05 L79.45,286.3 L79.7,286.53 L79.95,286.75 L80.2,287.27 L80.45,287.49 L80.7,287.7 L80.95,287.91 L81.2,288 L81.45,288.18 L81.7,288.36 L81.95,288.53 L82.2,288.54 L82.45,288.7 L82.7,288.85 L82.95,289 L83.2,289.02 L83.45,289.16 L83.7,289.29 L83.95,289.41 L84.2,289.72 L84.45,289.81 L84.7,289.8 L84.95,289.78 L85.2,289.82 L85.45,289.79 L85.7,289.75 L85.95,289.71 L86.2,289.56 L86.45,289.5 L86.7,289.44 L86.95,289.37 L87.2,289.22 L87.45,289.13 L87.7,289.02 L87.95,288.88 L88.2,288.83 L88.45,288.58 L88.7,288.31 L88.95,288.01 L89.2,287.77 L89.45,287.37 L89.7,286.89 L89.95,286.31 L90.2,285.28 L90.45,284.17 L90.7,282.32 L90.95,279.13 L91.2,273.76 L91.45,265.78 L91.7,255.29 L91.95,244.11 L92.2,236.6 L92.45,237.23 L92.7,245.43 L92.95,256.11 L93.2,265.55 L93.45,272.23 L93.7,276.17 L93.95,277.97 L94.2,278.4 L94.45,277.54 L94.7,275.04 L94.95,270.06 L95.2,261.23 L95.45,247.96 L95.7,230.14 L95.95,210.06 L96.2,193.78 L96.45,189.32 L96.7,200.05 L96.95,219.49 L97.2,239.68 L97.45,256.39 L97.7,268.36 L97.95,276.09 L98.2,280.68 L98.45,283.48 L98.7,285.04 L98.95,286.01 L99.2,286.55 L99.45,287.04 L99.7,287.4 L99.95,287.68 L100.2,288.2 L100.45,288.36 L100.7,288.48 L100.95,288.56 L101.2,288.36 L101.45,288.4 L101.7,288.42 L101.95,288.42 L102.2,288.62 L102.45,288.6 L102.7,288.57 L102.95,288.53 L103.2,288.25 L103.45,288.21 L103.7,288.15 L103.95,288.29 L104.2,288.42 L104.45,288.55 L104.7,288.67 L104.95,288.8 L105.2,289.13 L105.45,289.25 L105.7,289.37 L105.95,289.48 L106.2,289.41 L106.45,289.52 L106.7,289.63 L106.95,289.73 L107.2,290.1 L107.45,290.22 L107.7,290.36 L107.95,290.49 L108.2,290.44 L108.45,290.57 L108.7,290.7 L108.95,290.83 L109.2,290.83 L109.45,290.96 L109.7,291.08 L109.95,291.21 L110.2,291.34 L110.45,291.47 L110.7,291.58 L110.95,291.63 L111.2,291.7 L111.45,291.69 L111.7,291.69 L111.95,291.67 L112.2,291.76 L112.45,291.74 L112.7,291.72 L112.95,291.7 L113.2,291.78 L113.45,291.75 L113.7,291.71 L113.95,291.66 L114.2,291.28 L114.45,291.21 L114.7,291.12 L114.95,291.02 L115.2,291 L115.45,290.86 L115.7,290.66 L115.95,290.37 L116.2,289.83 L116.45,289.04 L116.7,287.66 L116.95,285.35 L117.2,282.12 L117.45,277.27 L117.7,271.6 L117.95,266.52 L118.2,264.03 L118.45,266.2 L118.7,271.3 L118.95,276.98 L119.2,281.8 L119.45,285.35 L119.7,287.67 L119.95,289.05 L120.2,289.88 L120.45,290.39 L120.7,290.71 L120.95,290.93 L121.2,291.22 L121.45,291.32 L121.7,291.36 L121.95,291.35 L122.2,291.43 L122.45,291.13 L122.7,290.48 L122.95,289.2 L123.2,286.82 L123.45,282.68 L123.7,276.01 L123.95,266.04 L124.2,252.3 L124.45,235.18 L124.7,215.86 L124.95,196.63 L125.2,180.68 L125.45,171.06 L125.7,170.22 L125.95,178.39 L126.2,193.54 L126.45,212.58 L126.7,232.27 L126.95,250.14 L127.2,264.49 L127.45,275.37 L127.7,282.83 L127.95,287.59 L128.2,290.39 L128.45,292.04 L128.7,292.99 L128.95,293.56 L129.2,294.22 L129.45,294.49 L129.7,294.71 L129.95,294.9 L130.2,294.94 L130.45,295.02 L130.7,295.09 L130.95,295.16 L131.2,294.93 L131.45,294.98 L131.7,295.02 L131.95,295.06 L132.2,295.35 L132.45,295.39 L132.7,295.42 L132.95,295.45 L133.2,295.36 L133.45,295.38 L133.7,295.4 L133.95,295.42 L134.2,295.44 L134.45,295.46 L134.7,295.47 L134.95,295.49 L135.2,295.49 L135.45,295.5 L135.7,295.51 L135.95,295.52 L136.2,295.47 L136.45,295.48 L136.7,295.49 L136.95,295.5 L137.2,295.44 L137.45,295.45 L137.7,295.46 L137.95,295.47 L138.2,295.59 L138.45,295.59 L138.7,295.6 L138.95,295.61 L139.2,295.64 L139.45,295.65 L139.7,295.65 L139.95,295.66 L140.2,295.9 L140.45,295.91 L140.7,295.91 L140.95,295.91 L141.2,295.58 L141.45,295.59 L141.7,295.59 L141.95,295.59 L142.2,295.92 L142.45,295.92 L142.7,295.92 L142.95,295.91 L143.2,295.59 L143.45,295.57 L143.7,295.53 L143.95,295.47 L144.2,295.43 L144.45,295.3 L144.7,295.12 L144.95,294.9 L145.2,294.84 L145.45,294.62 L145.7,294.5 L145.95,294.52 L146.2,294.67 L146.45,294.91 L146.7,295.16 L146.95,295.38 L147.2,295.41 L147.45,295.54 L147.7,295.64 L147.95,295.7 L148.2,295.59 L148.45,295.62 L148.7,295.64 L148.95,295.66 L149.2,295.84 L149.45,295.85 L149.7,295.86 L149.95,295.87 L150.2,295.83 L150.45,295.84 L150.7,295.85 L150.95,295.85 L151.2,296.08 L151.45,296.08 L151.7,296.09 L151.95,296.09 L152.2,295.81 L152.45,295.81 L152.7,295.82 L152.95,295.82 L153.2,295.89 L153.45,295.9 L153.7,295.9 L153.95,295.9 L154.2,296.12 L154.45,296.12 L154.7,296.13 L154.95,296.13 L155.2,295.79 L155.45,295.79 L155.7,295.79 L155.95,295.8 L156.2,295.95 L156.45,295.96 L156.7,295.96 L156.95,295.96 L157.2,296.13 L157.45,296.13 L157.7,296.13 L157.95,296.13 L158.2,296.12 L158.45,296.12 L158.7,296.12 L158.95,296.13 L159.2,295.84 L159.45,295.84 L159.7,295.84 L159.95,295.85 L160.2,295.85 L160.45,295.85 L160.7,295.85 L160.95,295.85 L161.2,295.87 L161.45,295.87 L161.7,295.87 L161.95,295.87 L162.2,296.22 L162.45,296.22 L162.7,296.22 L162.95,296.23 L163.2,295.96 L163.45,295.96 L163.7,295.97 L163.95,295.97 L164.2,296.17 L164.45,296.17 L164.7,296.17 L164.95,296.17 L165.2,296.23 L165.45,296.23 L165.7,296.23 L165.95,296.23 L166.2,296.01 L166.45,296.01 L166.7,296 L166.95,296 L167.2,295.97 L167.45,295.97 L167.7,295.96 L167.95,295.96 L168.2,296.22 L168.45,296.21 L168.7,296.2 L168.95,296.17 L169.2,296 L169.45,295.95 L169.7,295.85 L169.95,295.68 L170.2,295.27 L170.45,294.88 L170.7,294.39 L170.95,293.89 L171.2,293.75 L171.45,293.79 L171.7,294.17 L171.95,294.68 L172.2,294.99 L172.45,295.35 L172.7,295.6 L172.95,295.75 L173.2,295.82 L173.45,295.86 L173.7,295.89 L173.95,295.9 L174.2,295.79 L174.45,295.77 L174.7,295.73 L174.95,295.65 L175.2,295.81 L175.45,295.58 L175.7,295.26 L175.95,294.87 L176.2,294.55 L176.45,294.35 L176.7,294.45 L176.95,294.79 L177.2,295.09 L177.45,295.45 L177.7,295.73 L177.95,295.91 L178.2,296.15 L178.45,296.22 L178.7,296.26 L178.95,296.29 L179.2,295.94 L179.45,295.95 L179.7,295.97 L179.95,295.98 L180.2,296.07 L180.45,296.08 L180.7,296.08 L180.95,296.09 L181.2,296.19 L181.45,296.19 L181.7,296.2 L181.95,296.2 L182.2,296.4 L182.45,296.4 L182.7,296.4 L182.95,296.4 L183.2,296.41 L183.45,296.41 L183.7,296.41 L183.95,296.41 L184.2,296.18 L184.45,296.18 L184.7,296.18 L184.95,296.18 L185.2,296.13 L185.45,296.12 L185.7,296.12 L185.95,296.12 L186.2,296.19 L186.45,296.18 L186.7,296.18 L186.95,296.17 L187.2,296.19 L187.45,296.18 L187.7,296.16 L187.95,296.15 L188.2,296.3 L188.45,296.27 L188.7,296.24 L188.95,296.2 L189.2,295.85 L189.45,295.78 L189.7,295.68 L189.95,295.5 L190.2,295.45 L190.45,294.92 L190.7,294.02 L190.95,292.65 L191.2,290.81 L191.45,288.88 L191.7,287.58 L191.95,287.74 L192.2,289.29 L192.45,291.24 L192.7,292.98 L192.95,294.27 L193.2,295.07 L193.45,295.55 L193.7,295.82 L193.95,295.98 L194.2,296.01 L194.45,296.08 L194.7,296.14 L194.95,296.18 L195.2,296.1 L195.45,296.13 L195.7,296.16 L195.95,296.18 L196.2,296.19 L196.45,296.21 L196.7,296.22 L196.95,296.23 L197.2,296.26 L197.45,296.27 L197.7,296.27 L197.95,296.28 L198.2,296.46 L198.45,296.46 L198.7,296.47 L198.95,296.47 L199.2,296.2 L199.45,296.2 L199.7,296.21 L199.95,296.21 L200.2,296.26 L200.45,296.26 L200.7,296.26 L200.95,296.26 L201.2,296.49 L201.45,296.49 L201.7,296.49 L201.95,296.48 L202.2,296.28 L202.45,296.27 L202.7,296.26 L202.95,296.24 L203.2,296.14 L203.45,296.07 L203.7,295.92 L203.95,295.65 L204.2,295.24 L204.45,294.79 L204.7,294.57 L204.95,294.79 L205.2,295.46 L205.45,295.87 L205.7,296.14 L205.95,296.29 L206.2,296.27 L206.45,296.31 L206.7,296.34 L206.95,296.35 L207.2,296.63 L207.45,296.64 L207.7,296.65 L207.95,296.65 L208.2,296.62 L208.45,296.63 L208.7,296.63 L208.95,296.64 L209.2,296.68 L209.45,296.69 L209.7,296.69 L209.95,296.69 L210.2,296.41 L210.45,296.41 L210.7,296.41 L210.95,296.42 L211.2,296.35 L211.45,296.35 L211.7,296.35 L211.95,296.36 L212.2,296.36 L212.45,296.37 L212.7,296.37 L212.95,296.37 L213.2,296.54 L213.45,296.54 L213.7,296.54 L213.95,296.54 L214.2,296.63 L214.45,296.63 L214.7,296.63 L214.95,296.64 L215.2,296.53 L215.45,296.54" stroke="#000" stroke-width="1.2" fill="none" stroke-linejoin="round" />
<line x1="10.5" y1="303.2" x2="215.9" y2="303.2" stroke="#000" stroke-width="1" />
<line x1="10.5" y1="303.2" x2="10.5" y2="299.3" stroke="#333" stroke-width="0.8" />
<line x1="17.35" y1="303.2" x2="17.35" y2="301.2" stroke="#333" stroke-width="0.8" />
<line x1="24.2" y1="303.2" x2="24.2" y2="301.2" stroke="#333" stroke-width="0.8" />
<line x1="31.05" y1="303.2" x2="31.05" y2="301.2" stroke="#333" stroke-width="0.8" />
<line x1="37.9" y1="303.2" x2="37.9" y2="301.2" stroke="#333" stroke-width="0.8" />
<line x1="44.75" y1="303.2" x2="44.75" y2="299.3" stroke="#333" stroke-width="0.8" />
<line x1="51.6" y1="303.2" x2="51.6" y2="301.2" stroke="#333" stroke-width="0.8" />
<line x1="58.45" y1="303.2" x2="58.45" y2="301.2" stroke="#333" stroke-width="0.8" />
<line x1="65.3" y1="303.2" x2="65.3" y2="301.2" stroke="#333" stroke-width="0.8" />
<line x1="72.15" y1="303.2" x2="72.15" y2="301.2" stroke="#333" stroke-width="0.8" />
<line x1="79" y1="303.2" x2="79" y2="299.3" stroke="#333" stroke-width="0.8" />
<line x1="85.85" y1="303.2" x2="85.85" y2="301.2" stroke="#333" stroke-width="0.8" />
<line x1="92.7" y1="303.2" x2="92.7" y2="301.2" stroke="#333" stroke-width="0.8" />
<line x1="99.55" y1="303.2" x2="99.55" y2="301.2" stroke="#333" stroke-width="0.8" />
<line x1="106.4" y1="303.2" x2="106.4" y2="301.2" stroke="#333" stroke-width="0.8" />
<line x1="113.25" y1="303.2" x2="113.25" y2="299.3" stroke="#333" stroke-width="0.8" />
<line x1="120.1" y1="303.2" x2="120.1" y2="301.2" stroke="#333" stroke-width="0.8" />
<line x1="126.95" y1="303.2" x2="126.95" y2="301.2" stroke="#333" stroke-width="0.8" />
<line x1="133.8" y1="303.2" x2="133.8" y2="301.2" stroke="#333" stroke-width="0.8" />
<line x1="140.65" y1="303.2" x2="140.65" y2="301.2" stroke="#333" stroke-width="0.8" />
<line x1="147.5" y1="303.2" x2="147.5" y2="299.3" stroke="#333" stroke-width="0.8" />
<line x1="154.35" y1="303.2" x2="154.35" y2="301.2" stroke="#333" stroke-width="0.8" />
<line x1="161.2" y1="303.2" x2="161.2" y2="301.2" stroke="#333" stroke-width="0.8" />
<line x1="168.05" y1="303.2" x2="168.05" y2="301.2" stroke="#333" stroke-width="0.8" />
<line x1="174.9" y1="303.2" x2="174.9" y2="301.2" stroke="#333" stroke-width="0.8" />
<line x1="181.75" y1="303.2" x2="181.75" y2="299.3" stroke="#333" stroke-width="0.8" />
<line x1="188.6" y1="303.2" x2="188.6" y2="301.2" stroke="#333" stroke-width="0.8" />
<line x1="195.45" y1="303.2" x2="195.45" y2="301.2" stroke="#333" stroke-width="0.8" />
<line x1="202.3" y1="303.2" x2="202.3" y2="301.2" stroke="#333" stroke-width="0.8" />
<line x1="209.15" y1="303.2" x2="209.15" y2="301.2" stroke="#333" stroke-width="0.8" />
<line x1="216" y1="303.2" x2="216" y2="299.3" stroke="#333" stroke-width="0.8" />
<text x="10.5" y="317.8" font-size="13" fill="#000" stroke="#000" stroke-width="0.12" text-anchor="middle" style="" >4.0</text>
<text x="44.75" y="317.8" font-size="13" fill="#000" stroke="#000" stroke-width="0.12" text-anchor="middle" style="" >3.5</text>
<text x="79" y="317.8" font-size="13" fill="#000" stroke="#000" stroke-width="0.12" text-anchor="middle" style="" >3.0</text>
<text x="113.25" y="317.8" font-size="13" fill="#000" stroke="#000" stroke-width="0.12" text-anchor="middle" style="" >2.5</text>
<text x="147.5" y="317.8" font-size="13" fill="#000" stroke="#000" stroke-width="0.12" text-anchor="middle" style="" >2.0</text>
<text x="181.75" y="317.8" font-size="13" fill="#000" stroke="#000" stroke-width="0.12" text-anchor="middle" style="" >1.5</text>
<text x="216" y="317.8" font-size="13" fill="#000" stroke="#000" stroke-width="0.12" text-anchor="middle" style="" >1.0</text>
<text x="117.3" y="333" font-size="14.6" fill="#000" stroke="#000" stroke-width="0.12" text-anchor="middle" style="" ><tspan style="font-style:italic">d</tspan> / &#197;</text>
<text transform="translate(54.2,75.9) rotate(-90)" font-size="10.5" fill="#e5322d" stroke="#e5322d" stroke-width="0.12" text-anchor="middle" style="" >001</text>
<text transform="translate(78.3,99.7) rotate(-90)" font-size="10.9" fill="#84c441" stroke="#84c441" stroke-width="0.12" text-anchor="middle" style="" >002</text>
<text transform="translate(92.6,73.3) rotate(-90)" font-size="9.1" fill="#3a48a6" stroke="#3a48a6" stroke-width="0.12" text-anchor="middle" style="" >Ta K&#945;1</text>
<text transform="translate(101.9,49.2) rotate(-90)" font-size="9.1" fill="#3a48a6" stroke="#3a48a6" stroke-width="0.12" text-anchor="middle" style="" >Ta K&#945;2</text>
<text transform="translate(119.3,84.3) rotate(-90)" font-size="9.1" fill="#3a48a6" stroke="#3a48a6" stroke-width="0.12" text-anchor="middle" style="" >Ta K&#946;1</text>
<text transform="translate(138.6,42) rotate(-90)" font-size="9.2" fill="#3a48a6" stroke="#3a48a6" stroke-width="0.12" text-anchor="middle" style="" >110</text>
<text transform="translate(165.8,107) rotate(-90)" font-size="11" fill="#e5322d" stroke="#e5322d" stroke-width="0.12" text-anchor="middle" style="" >002</text>
<text transform="translate(197.1,106) rotate(-90)" font-size="9.3" fill="#3a48a6" stroke="#3a48a6" stroke-width="0.12" text-anchor="middle" style="" >211</text>
<text transform="translate(209.8,109.7) rotate(-90)" font-size="8.9" fill="#3a48a6" stroke="#3a48a6" stroke-width="0.12" text-anchor="middle" style="" >220</text>
<text transform="translate(42,156.1) rotate(-90)" font-size="10.5" fill="#e5322d" stroke="#e5322d" stroke-width="0.12" text-anchor="middle" style="" >001</text>
<text transform="translate(86,154.4) rotate(-90)" font-size="10.9" fill="#84c441" stroke="#84c441" stroke-width="0.12" text-anchor="middle" style="" >002</text>
<text transform="translate(93,189.6) rotate(-90)" font-size="10.9" fill="#84c441" stroke="#84c441" stroke-width="0.12" text-anchor="middle" style="" >002</text>
<text transform="translate(62.2,259.5) rotate(-90)" font-size="10.9" fill="#84c441" stroke="#84c441" stroke-width="0.12" text-anchor="middle" style="" >002</text>
<text x="215.3" y="17" font-size="10.8" fill="#000" stroke="#000" stroke-width="0.12" text-anchor="end" style="" >before heating</text>
<text x="215.3" y="30.8" font-size="10.8" fill="#000" stroke="#000" stroke-width="0.12" text-anchor="end" style="" ><tspan style="font-style:italic">P</tspan> = 10 GPa</text>
<text x="216.6" y="135.8" font-size="10.8" fill="#000" stroke="#000" stroke-width="0.12" text-anchor="end" style="" >during heating</text>
<text x="216.6" y="149.3" font-size="10.8" fill="#000" stroke="#000" stroke-width="0.12" text-anchor="end" style="" ><tspan style="font-style:italic">P</tspan> = 10 GPa</text>
<text x="217.5" y="162.6" font-size="10.8" fill="#000" stroke="#000" stroke-width="0.12" text-anchor="end" style="" >~200 &#176;C</text>
<text x="215.2" y="195.3" font-size="10.8" fill="#000" stroke="#000" stroke-width="0.12" text-anchor="end" style="" >after heating</text>
<text x="217.8" y="208.6" font-size="10.8" fill="#000" stroke="#000" stroke-width="0.12" text-anchor="end" style="" ><tspan style="font-style:italic">P</tspan> = 10 GPa</text>
<text x="216.1" y="254" font-size="10.8" fill="#000" stroke="#000" stroke-width="0.12" text-anchor="end" style="" >after heating</text>
<text x="215.8" y="266.8" font-size="10.8" fill="#000" stroke="#000" stroke-width="0.12" text-anchor="end" style="" ><tspan style="font-style:italic">P</tspan> = 2 GPa</text>
<rect x="179.2" y="38.3" width="33.5" height="49.9" fill="#fff" stroke="#555" stroke-width="0.9"/>
<text x="184.4" y="50.6" font-size="12" fill="#e5322d" stroke="#e5322d" stroke-width="0.12" text-anchor="start" style="" >C<tspan font-size="7.2" dy="3.6">6</tspan><tspan dy="-3.6">Li</tspan></text>
<text x="184.4" y="69.2" font-size="12" fill="#84c441" stroke="#84c441" stroke-width="0.12" text-anchor="start" style="" >C<tspan font-size="7.2" dy="3.6">6</tspan></text>
<text x="184.6" y="86.4" font-size="12" fill="#3a48a6" stroke="#3a48a6" stroke-width="0.12" text-anchor="start" style="" >Ta</text>
<text x="229" y="14" font-size="18.6" fill="#000" stroke="#000" stroke-width="0.12" text-anchor="start" style="" >b</text>
<text x="226.7" y="176.8" font-size="18.6" fill="#000" stroke="#000" stroke-width="0.12" text-anchor="start" style="" >c</text>
<text x="455.4" y="14" font-size="18.6" fill="#000" stroke="#000" stroke-width="0.12" text-anchor="start" style="" >d</text>
<text x="452.4" y="175.7" font-size="18.6" fill="#000" stroke="#000" stroke-width="0.12" text-anchor="start" style="" >e</text>
<rect x="284.9" y="13.9" width="42.5" height="130.3" fill="#b5e2f0"/>
<line x1="273.2" y1="144.2" x2="273.2" y2="141.1" stroke="#222" stroke-width="0.75" />
<line x1="273.2" y1="13.9" x2="273.2" y2="17" stroke="#222" stroke-width="0.75" />
<line x1="282.14" y1="144.2" x2="282.14" y2="142.5" stroke="#222" stroke-width="0.75" />
<line x1="282.14" y1="13.9" x2="282.14" y2="15.6" stroke="#222" stroke-width="0.75" />
<line x1="291.08" y1="144.2" x2="291.08" y2="142.5" stroke="#222" stroke-width="0.75" />
<line x1="291.08" y1="13.9" x2="291.08" y2="15.6" stroke="#222" stroke-width="0.75" />
<line x1="300.02" y1="144.2" x2="300.02" y2="142.5" stroke="#222" stroke-width="0.75" />
<line x1="300.02" y1="13.9" x2="300.02" y2="15.6" stroke="#222" stroke-width="0.75" />
<line x1="308.96" y1="144.2" x2="308.96" y2="142.5" stroke="#222" stroke-width="0.75" />
<line x1="308.96" y1="13.9" x2="308.96" y2="15.6" stroke="#222" stroke-width="0.75" />
<line x1="317.9" y1="144.2" x2="317.9" y2="141.1" stroke="#222" stroke-width="0.75" />
<line x1="317.9" y1="13.9" x2="317.9" y2="17" stroke="#222" stroke-width="0.75" />
<line x1="326.84" y1="144.2" x2="326.84" y2="142.5" stroke="#222" stroke-width="0.75" />
<line x1="326.84" y1="13.9" x2="326.84" y2="15.6" stroke="#222" stroke-width="0.75" />
<line x1="335.78" y1="144.2" x2="335.78" y2="142.5" stroke="#222" stroke-width="0.75" />
<line x1="335.78" y1="13.9" x2="335.78" y2="15.6" stroke="#222" stroke-width="0.75" />
<line x1="344.72" y1="144.2" x2="344.72" y2="142.5" stroke="#222" stroke-width="0.75" />
<line x1="344.72" y1="13.9" x2="344.72" y2="15.6" stroke="#222" stroke-width="0.75" />
<line x1="353.66" y1="144.2" x2="353.66" y2="142.5" stroke="#222" stroke-width="0.75" />
<line x1="353.66" y1="13.9" x2="353.66" y2="15.6" stroke="#222" stroke-width="0.75" />
<line x1="362.6" y1="144.2" x2="362.6" y2="141.1" stroke="#222" stroke-width="0.75" />
<line x1="362.6" y1="13.9" x2="362.6" y2="17" stroke="#222" stroke-width="0.75" />
<line x1="371.54" y1="144.2" x2="371.54" y2="142.5" stroke="#222" stroke-width="0.75" />
<line x1="371.54" y1="13.9" x2="371.54" y2="15.6" stroke="#222" stroke-width="0.75" />
<line x1="380.48" y1="144.2" x2="380.48" y2="142.5" stroke="#222" stroke-width="0.75" />
<line x1="380.48" y1="13.9" x2="380.48" y2="15.6" stroke="#222" stroke-width="0.75" />
<line x1="389.42" y1="144.2" x2="389.42" y2="142.5" stroke="#222" stroke-width="0.75" />
<line x1="389.42" y1="13.9" x2="389.42" y2="15.6" stroke="#222" stroke-width="0.75" />
<line x1="398.36" y1="144.2" x2="398.36" y2="142.5" stroke="#222" stroke-width="0.75" />
<line x1="398.36" y1="13.9" x2="398.36" y2="15.6" stroke="#222" stroke-width="0.75" />
<line x1="407.3" y1="144.2" x2="407.3" y2="141.1" stroke="#222" stroke-width="0.75" />
<line x1="407.3" y1="13.9" x2="407.3" y2="17" stroke="#222" stroke-width="0.75" />
<line x1="416.24" y1="144.2" x2="416.24" y2="142.5" stroke="#222" stroke-width="0.75" />
<line x1="416.24" y1="13.9" x2="416.24" y2="15.6" stroke="#222" stroke-width="0.75" />
<line x1="425.18" y1="144.2" x2="425.18" y2="142.5" stroke="#222" stroke-width="0.75" />
<line x1="425.18" y1="13.9" x2="425.18" y2="15.6" stroke="#222" stroke-width="0.75" />
<line x1="269.1" y1="144.2" x2="272.2" y2="144.2" stroke="#222" stroke-width="0.75" />
<line x1="425.7" y1="144.2" x2="422.6" y2="144.2" stroke="#222" stroke-width="0.75" />
<line x1="269.1" y1="140.94" x2="270.7" y2="140.94" stroke="#222" stroke-width="0.75" />
<line x1="425.7" y1="140.94" x2="424.1" y2="140.94" stroke="#222" stroke-width="0.75" />
<line x1="269.1" y1="137.69" x2="270.7" y2="137.69" stroke="#222" stroke-width="0.75" />
<line x1="425.7" y1="137.69" x2="424.1" y2="137.69" stroke="#222" stroke-width="0.75" />
<line x1="269.1" y1="134.43" x2="270.7" y2="134.43" stroke="#222" stroke-width="0.75" />
<line x1="425.7" y1="134.43" x2="424.1" y2="134.43" stroke="#222" stroke-width="0.75" />
<line x1="269.1" y1="131.17" x2="270.7" y2="131.17" stroke="#222" stroke-width="0.75" />
<line x1="425.7" y1="131.17" x2="424.1" y2="131.17" stroke="#222" stroke-width="0.75" />
<line x1="269.1" y1="127.91" x2="272.2" y2="127.91" stroke="#222" stroke-width="0.75" />
<line x1="425.7" y1="127.91" x2="422.6" y2="127.91" stroke="#222" stroke-width="0.75" />
<line x1="269.1" y1="124.66" x2="270.7" y2="124.66" stroke="#222" stroke-width="0.75" />
<line x1="425.7" y1="124.66" x2="424.1" y2="124.66" stroke="#222" stroke-width="0.75" />
<line x1="269.1" y1="121.4" x2="270.7" y2="121.4" stroke="#222" stroke-width="0.75" />
<line x1="425.7" y1="121.4" x2="424.1" y2="121.4" stroke="#222" stroke-width="0.75" />
<line x1="269.1" y1="118.14" x2="270.7" y2="118.14" stroke="#222" stroke-width="0.75" />
<line x1="425.7" y1="118.14" x2="424.1" y2="118.14" stroke="#222" stroke-width="0.75" />
<line x1="269.1" y1="114.88" x2="270.7" y2="114.88" stroke="#222" stroke-width="0.75" />
<line x1="425.7" y1="114.88" x2="424.1" y2="114.88" stroke="#222" stroke-width="0.75" />
<line x1="269.1" y1="111.63" x2="272.2" y2="111.63" stroke="#222" stroke-width="0.75" />
<line x1="425.7" y1="111.63" x2="422.6" y2="111.63" stroke="#222" stroke-width="0.75" />
<line x1="269.1" y1="108.37" x2="270.7" y2="108.37" stroke="#222" stroke-width="0.75" />
<line x1="425.7" y1="108.37" x2="424.1" y2="108.37" stroke="#222" stroke-width="0.75" />
<line x1="269.1" y1="105.11" x2="270.7" y2="105.11" stroke="#222" stroke-width="0.75" />
<line x1="425.7" y1="105.11" x2="424.1" y2="105.11" stroke="#222" stroke-width="0.75" />
<line x1="269.1" y1="101.85" x2="270.7" y2="101.85" stroke="#222" stroke-width="0.75" />
<line x1="425.7" y1="101.85" x2="424.1" y2="101.85" stroke="#222" stroke-width="0.75" />
<line x1="269.1" y1="98.59" x2="270.7" y2="98.59" stroke="#222" stroke-width="0.75" />
<line x1="425.7" y1="98.59" x2="424.1" y2="98.59" stroke="#222" stroke-width="0.75" />
<line x1="269.1" y1="95.34" x2="272.2" y2="95.34" stroke="#222" stroke-width="0.75" />
<line x1="425.7" y1="95.34" x2="422.6" y2="95.34" stroke="#222" stroke-width="0.75" />
<line x1="269.1" y1="92.08" x2="270.7" y2="92.08" stroke="#222" stroke-width="0.75" />
<line x1="425.7" y1="92.08" x2="424.1" y2="92.08" stroke="#222" stroke-width="0.75" />
<line x1="269.1" y1="88.82" x2="270.7" y2="88.82" stroke="#222" stroke-width="0.75" />
<line x1="425.7" y1="88.82" x2="424.1" y2="88.82" stroke="#222" stroke-width="0.75" />
<line x1="269.1" y1="85.57" x2="270.7" y2="85.57" stroke="#222" stroke-width="0.75" />
<line x1="425.7" y1="85.57" x2="424.1" y2="85.57" stroke="#222" stroke-width="0.75" />
<line x1="269.1" y1="82.31" x2="270.7" y2="82.31" stroke="#222" stroke-width="0.75" />
<line x1="425.7" y1="82.31" x2="424.1" y2="82.31" stroke="#222" stroke-width="0.75" />
<line x1="269.1" y1="79.05" x2="272.2" y2="79.05" stroke="#222" stroke-width="0.75" />
<line x1="425.7" y1="79.05" x2="422.6" y2="79.05" stroke="#222" stroke-width="0.75" />
<line x1="269.1" y1="75.79" x2="270.7" y2="75.79" stroke="#222" stroke-width="0.75" />
<line x1="425.7" y1="75.79" x2="424.1" y2="75.79" stroke="#222" stroke-width="0.75" />
<line x1="269.1" y1="72.54" x2="270.7" y2="72.54" stroke="#222" stroke-width="0.75" />
<line x1="425.7" y1="72.54" x2="424.1" y2="72.54" stroke="#222" stroke-width="0.75" />
<line x1="269.1" y1="69.28" x2="270.7" y2="69.28" stroke="#222" stroke-width="0.75" />
<line x1="425.7" y1="69.28" x2="424.1" y2="69.28" stroke="#222" stroke-width="0.75" />
<line x1="269.1" y1="66.02" x2="270.7" y2="66.02" stroke="#222" stroke-width="0.75" />
<line x1="425.7" y1="66.02" x2="424.1" y2="66.02" stroke="#222" stroke-width="0.75" />
<line x1="269.1" y1="62.76" x2="272.2" y2="62.76" stroke="#222" stroke-width="0.75" />
<line x1="425.7" y1="62.76" x2="422.6" y2="62.76" stroke="#222" stroke-width="0.75" />
<line x1="269.1" y1="59.51" x2="270.7" y2="59.51" stroke="#222" stroke-width="0.75" />
<line x1="425.7" y1="59.51" x2="424.1" y2="59.51" stroke="#222" stroke-width="0.75" />
<line x1="269.1" y1="56.25" x2="270.7" y2="56.25" stroke="#222" stroke-width="0.75" />
<line x1="425.7" y1="56.25" x2="424.1" y2="56.25" stroke="#222" stroke-width="0.75" />
<line x1="269.1" y1="52.99" x2="270.7" y2="52.99" stroke="#222" stroke-width="0.75" />
<line x1="425.7" y1="52.99" x2="424.1" y2="52.99" stroke="#222" stroke-width="0.75" />
<line x1="269.1" y1="49.73" x2="270.7" y2="49.73" stroke="#222" stroke-width="0.75" />
<line x1="425.7" y1="49.73" x2="424.1" y2="49.73" stroke="#222" stroke-width="0.75" />
<line x1="269.1" y1="46.48" x2="272.2" y2="46.48" stroke="#222" stroke-width="0.75" />
<line x1="425.7" y1="46.48" x2="422.6" y2="46.48" stroke="#222" stroke-width="0.75" />
<line x1="269.1" y1="43.22" x2="270.7" y2="43.22" stroke="#222" stroke-width="0.75" />
<line x1="425.7" y1="43.22" x2="424.1" y2="43.22" stroke="#222" stroke-width="0.75" />
<line x1="269.1" y1="39.96" x2="270.7" y2="39.96" stroke="#222" stroke-width="0.75" />
<line x1="425.7" y1="39.96" x2="424.1" y2="39.96" stroke="#222" stroke-width="0.75" />
<line x1="269.1" y1="36.7" x2="270.7" y2="36.7" stroke="#222" stroke-width="0.75" />
<line x1="425.7" y1="36.7" x2="424.1" y2="36.7" stroke="#222" stroke-width="0.75" />
<line x1="269.1" y1="33.45" x2="270.7" y2="33.45" stroke="#222" stroke-width="0.75" />
<line x1="425.7" y1="33.45" x2="424.1" y2="33.45" stroke="#222" stroke-width="0.75" />
<line x1="269.1" y1="30.19" x2="272.2" y2="30.19" stroke="#222" stroke-width="0.75" />
<line x1="425.7" y1="30.19" x2="422.6" y2="30.19" stroke="#222" stroke-width="0.75" />
<line x1="269.1" y1="26.93" x2="270.7" y2="26.93" stroke="#222" stroke-width="0.75" />
<line x1="425.7" y1="26.93" x2="424.1" y2="26.93" stroke="#222" stroke-width="0.75" />
<line x1="269.1" y1="23.67" x2="270.7" y2="23.67" stroke="#222" stroke-width="0.75" />
<line x1="425.7" y1="23.67" x2="424.1" y2="23.67" stroke="#222" stroke-width="0.75" />
<line x1="269.1" y1="20.42" x2="270.7" y2="20.42" stroke="#222" stroke-width="0.75" />
<line x1="425.7" y1="20.42" x2="424.1" y2="20.42" stroke="#222" stroke-width="0.75" />
<line x1="269.1" y1="17.16" x2="270.7" y2="17.16" stroke="#222" stroke-width="0.75" />
<line x1="425.7" y1="17.16" x2="424.1" y2="17.16" stroke="#222" stroke-width="0.75" />
<line x1="269.1" y1="13.9" x2="272.2" y2="13.9" stroke="#222" stroke-width="0.75" />
<line x1="425.7" y1="13.9" x2="422.6" y2="13.9" stroke="#222" stroke-width="0.75" />
<line x1="269.1" y1="144.2" x2="425.7" y2="144.2" stroke="#000" stroke-width="1" />
<line x1="269.1" y1="13.9" x2="425.7" y2="13.9" stroke="#000" stroke-width="1" />
<line x1="269.1" y1="13.9" x2="269.1" y2="144.2" stroke="#000" stroke-width="1" />
<line x1="425.7" y1="13.9" x2="425.7" y2="144.2" stroke="#000" stroke-width="1" />
<text x="265.6" y="147.4" font-size="11.1" fill="#000" stroke="#000" stroke-width="0.12" text-anchor="end" style="" >2.8</text>
<text x="265.6" y="131.11" font-size="11.1" fill="#000" stroke="#000" stroke-width="0.12" text-anchor="end" style="" >2.9</text>
<text x="265.6" y="114.83" font-size="11.1" fill="#000" stroke="#000" stroke-width="0.12" text-anchor="end" style="" >3.0</text>
<text x="265.6" y="98.54" font-size="11.1" fill="#000" stroke="#000" stroke-width="0.12" text-anchor="end" style="" >3.1</text>
<text x="265.6" y="82.25" font-size="11.1" fill="#000" stroke="#000" stroke-width="0.12" text-anchor="end" style="" >3.2</text>
<text x="265.6" y="65.96" font-size="11.1" fill="#000" stroke="#000" stroke-width="0.12" text-anchor="end" style="" >3.3</text>
<text x="265.6" y="49.68" font-size="11.1" fill="#000" stroke="#000" stroke-width="0.12" text-anchor="end" style="" >3.4</text>
<text x="265.6" y="33.39" font-size="11.1" fill="#000" stroke="#000" stroke-width="0.12" text-anchor="end" style="" >3.5</text>
<text x="265.6" y="17.1" font-size="11.1" fill="#000" stroke="#000" stroke-width="0.12" text-anchor="end" style="" >3.6</text>
<text x="273.2" y="156.6" font-size="11" fill="#000" stroke="#000" stroke-width="0.12" text-anchor="middle" style="" >0</text>
<text x="317.9" y="156.6" font-size="11" fill="#000" stroke="#000" stroke-width="0.12" text-anchor="middle" style="" >50</text>
<text x="362.6" y="156.6" font-size="11" fill="#000" stroke="#000" stroke-width="0.12" text-anchor="middle" style="" >100</text>
<text x="407.3" y="156.6" font-size="11" fill="#000" stroke="#000" stroke-width="0.12" text-anchor="middle" style="" >150</text>
<text x="350" y="169.2" font-size="12.2" fill="#000" stroke="#000" stroke-width="0.12" text-anchor="middle" style="" >Time / min</text>
<text transform="translate(243,79) rotate(-90)" font-size="12.4" fill="#000" stroke="#000" stroke-width="0.12" text-anchor="middle" style="" ><tspan style="font-style:italic">d</tspan>-spacing / &#197;</text>
<circle cx="273.2" cy="39.7" r="1.9" stroke="#e8605a" fill="none" stroke-width="0.55"/>
<line x1="271.3" y1="39.7" x2="275.1" y2="39.7" stroke="#e8605a" stroke-width="0.5" />
<line x1="273.2" y1="37.8" x2="273.2" y2="41.6" stroke="#e8605a" stroke-width="0.5" />
<circle cx="285.8" cy="39.9" r="1.7" stroke="#e5322d" fill="#e5322d" stroke-width="0.6"/>
<circle cx="286.6" cy="39.3" r="1.7" stroke="#e5322d" fill="#e5322d" stroke-width="0.6"/>
<circle cx="287.4" cy="38.6" r="1.7" stroke="#e5322d" fill="#e5322d" stroke-width="0.6"/>
<circle cx="288.2" cy="37.9" r="1.7" stroke="#e5322d" fill="#e5322d" stroke-width="0.6"/>
<circle cx="289" cy="37.2" r="1.7" stroke="#e5322d" fill="#e5322d" stroke-width="0.6"/>
<circle cx="289.8" cy="36.4" r="1.7" stroke="#e5322d" fill="#e5322d" stroke-width="0.6"/>
<circle cx="290.6" cy="35.6" r="1.7" stroke="#e5322d" fill="#e5322d" stroke-width="0.6"/>
<circle cx="291.3" cy="35" r="1.7" stroke="#e5322d" fill="#e5322d" stroke-width="0.6"/>
<circle cx="292" cy="35.6" r="1.7" stroke="#e5322d" fill="#e5322d" stroke-width="0.6"/>
<circle cx="292.8" cy="36.5" r="1.7" stroke="#e5322d" fill="#e5322d" stroke-width="0.6"/>
<circle cx="293.5" cy="37.3" r="1.7" stroke="#e5322d" fill="#e5322d" stroke-width="0.6"/>
<circle cx="294.2" cy="38.2" r="1.7" stroke="#e5322d" fill="#e5322d" stroke-width="0.6"/>
<circle cx="294.8" cy="39.2" r="1.7" stroke="#e5322d" fill="#e5322d" stroke-width="0.6"/>
<circle cx="295.2" cy="40.2" r="1.7" stroke="#e5322d" fill="#e5322d" stroke-width="0.6"/>
<circle cx="286.5" cy="40.7" r="1.7" stroke="#e5322d" fill="#e5322d" stroke-width="0.6"/>
<circle cx="288" cy="40.8" r="1.7" stroke="#e5322d" fill="#e5322d" stroke-width="0.6"/>
<circle cx="289.5" cy="40.5" r="1.7" stroke="#e5322d" fill="#e5322d" stroke-width="0.6"/>
<circle cx="291" cy="40" r="1.7" stroke="#e5322d" fill="#e5322d" stroke-width="0.6"/>
<circle cx="292.5" cy="40.4" r="1.7" stroke="#e5322d" fill="#e5322d" stroke-width="0.6"/>
<circle cx="293.5" cy="41.2" r="1.7" stroke="#e5322d" fill="#e5322d" stroke-width="0.6"/>
<circle cx="293.6" cy="42.4" r="1.7" stroke="#e5322d" fill="#fff" stroke-width="0.6"/>
<circle cx="294.4" cy="43.5" r="1.7" stroke="#e5322d" fill="#fff" stroke-width="0.6"/>
<circle cx="295" cy="44.6" r="1.7" stroke="#e5322d" fill="#fff" stroke-width="0.6"/>
<circle cx="290.3" cy="48" r="1.7" stroke="#6470c8" fill="none" stroke-width="0.6"/>
<circle cx="290.8" cy="49.4" r="1.7" stroke="#6470c8" fill="none" stroke-width="0.6"/>
<circle cx="291.4" cy="50.7" r="1.7" stroke="#6470c8" fill="none" stroke-width="0.6"/>
<circle cx="292.1" cy="51.9" r="1.7" stroke="#6470c8" fill="none" stroke-width="0.6"/>
<circle cx="292.9" cy="53" r="1.7" stroke="#6470c8" fill="none" stroke-width="0.6"/>
<circle cx="293.6" cy="53.9" r="1.7" stroke="#6470c8" fill="none" stroke-width="0.6"/>
<circle cx="292.6" cy="48.9" r="1.7" stroke="#6470c8" fill="none" stroke-width="0.6"/>
<circle cx="293.3" cy="50.1" r="1.7" stroke="#6470c8" fill="none" stroke-width="0.6"/>
<circle cx="294" cy="51.3" r="1.7" stroke="#6470c8" fill="none" stroke-width="0.6"/>
<circle cx="294.7" cy="52.4" r="1.7" stroke="#6470c8" fill="none" stroke-width="0.6"/>
<circle cx="295.4" cy="53.5" r="1.7" stroke="#6470c8" fill="none" stroke-width="0.6"/>
<circle cx="296.1" cy="54.6" r="1.7" stroke="#6470c8" fill="none" stroke-width="0.6"/>
<circle cx="291.6" cy="47.6" r="1.7" stroke="#6470c8" fill="none" stroke-width="0.6"/>
<circle cx="294.6" cy="49.6" r="1.7" stroke="#6470c8" fill="none" stroke-width="0.6"/>
<circle cx="295.6" cy="51.2" r="1.7" stroke="#6470c8" fill="none" stroke-width="0.6"/>
<circle cx="297.3" cy="55.6" r="1.7" stroke="#6470c8" fill="#fff" stroke-width="0.6"/>
<circle cx="293.8" cy="76.2" r="1.7" stroke="#cc4aa8" fill="#cc4aa8" stroke-width="0.6"/>
<circle cx="294.6" cy="76.5" r="1.7" stroke="#cc4aa8" fill="#cc4aa8" stroke-width="0.6"/>
<circle cx="295.4" cy="76.8" r="1.7" stroke="#cc4aa8" fill="#cc4aa8" stroke-width="0.6"/>
<circle cx="296.2" cy="77.1" r="1.7" stroke="#cc4aa8" fill="#cc4aa8" stroke-width="0.6"/>
<circle cx="297" cy="77.4" r="1.7" stroke="#cc4aa8" fill="#cc4aa8" stroke-width="0.6"/>
<circle cx="297.8" cy="77.6" r="1.7" stroke="#cc4aa8" fill="#cc4aa8" stroke-width="0.6"/>
<circle cx="298.6" cy="77.8" r="1.7" stroke="#cc4aa8" fill="#cc4aa8" stroke-width="0.6"/>
<circle cx="299.4" cy="78" r="1.7" stroke="#cc4aa8" fill="#cc4aa8" stroke-width="0.6"/>
<circle cx="300.2" cy="78.3" r="1.7" stroke="#cc4aa8" fill="#cc4aa8" stroke-width="0.6"/>
<circle cx="294.5" cy="77.6" r="1.7" stroke="#cc4aa8" fill="#cc4aa8" stroke-width="0.6"/>
<circle cx="296" cy="78.1" r="1.7" stroke="#cc4aa8" fill="#cc4aa8" stroke-width="0.6"/>
<circle cx="297.5" cy="78.4" r="1.7" stroke="#cc4aa8" fill="#cc4aa8" stroke-width="0.6"/>
<circle cx="300.3" cy="79.6" r="1.6" stroke="#cc4aa8" fill="#fff" stroke-width="0.6"/>
<circle cx="296.3" cy="115.6" r="1.6" stroke="#84c441" fill="#84c441" stroke-width="0.5"/>
<circle cx="297.12" cy="115.37" r="1.6" stroke="#84c441" fill="#84c441" stroke-width="0.5"/>
<circle cx="297.94" cy="115.2" r="1.6" stroke="#84c441" fill="#84c441" stroke-width="0.5"/>
<circle cx="298.76" cy="115.08" r="1.6" stroke="#84c441" fill="#84c441" stroke-width="0.5"/>
<circle cx="299.58" cy="114.99" r="1.6" stroke="#84c441" fill="#84c441" stroke-width="0.5"/>
<circle cx="300.4" cy="114.92" r="1.6" stroke="#84c441" fill="#84c441" stroke-width="0.5"/>
<circle cx="301.22" cy="114.87" r="1.6" stroke="#84c441" fill="#84c441" stroke-width="0.5"/>
<circle cx="302.04" cy="114.84" r="1.6" stroke="#84c441" fill="#84c441" stroke-width="0.5"/>
<circle cx="302.86" cy="114.81" r="1.6" stroke="#84c441" fill="#84c441" stroke-width="0.5"/>
<circle cx="303.68" cy="114.8" r="1.6" stroke="#84c441" fill="#84c441" stroke-width="0.5"/>
<circle cx="304.5" cy="114.79" r="1.6" stroke="#84c441" fill="#84c441" stroke-width="0.5"/>
<circle cx="305.32" cy="114.79" r="1.6" stroke="#84c441" fill="#84c441" stroke-width="0.5"/>
<circle cx="306.14" cy="114.79" r="1.6" stroke="#84c441" fill="#84c441" stroke-width="0.5"/>
<circle cx="306.96" cy="114.79" r="1.6" stroke="#84c441" fill="#84c441" stroke-width="0.5"/>
<circle cx="307.78" cy="114.8" r="1.6" stroke="#84c441" fill="#84c441" stroke-width="0.5"/>
<circle cx="308.6" cy="114.8" r="1.6" stroke="#84c441" fill="#84c441" stroke-width="0.5"/>
<circle cx="309.42" cy="114.81" r="1.6" stroke="#84c441" fill="#84c441" stroke-width="0.5"/>
<circle cx="310.24" cy="114.82" r="1.6" stroke="#84c441" fill="#84c441" stroke-width="0.5"/>
<circle cx="311.06" cy="114.83" r="1.6" stroke="#84c441" fill="#84c441" stroke-width="0.5"/>
<circle cx="311.88" cy="114.84" r="1.6" stroke="#84c441" fill="#84c441" stroke-width="0.5"/>
<circle cx="312.7" cy="114.85" r="1.6" stroke="#84c441" fill="#84c441" stroke-width="0.5"/>
<circle cx="313.52" cy="114.87" r="1.6" stroke="#84c441" fill="#84c441" stroke-width="0.5"/>
<circle cx="314.34" cy="114.88" r="1.6" stroke="#84c441" fill="#84c441" stroke-width="0.5"/>
<circle cx="315.16" cy="114.89" r="1.6" stroke="#84c441" fill="#84c441" stroke-width="0.5"/>
<circle cx="315.98" cy="114.9" r="1.6" stroke="#84c441" fill="#84c441" stroke-width="0.5"/>
<circle cx="316.8" cy="114.91" r="1.6" stroke="#84c441" fill="#84c441" stroke-width="0.5"/>
<circle cx="317.62" cy="114.93" r="1.6" stroke="#84c441" fill="#84c441" stroke-width="0.5"/>
<circle cx="318.44" cy="114.94" r="1.6" stroke="#84c441" fill="#84c441" stroke-width="0.5"/>
<circle cx="319.26" cy="114.95" r="1.6" stroke="#84c441" fill="#84c441" stroke-width="0.5"/>
<circle cx="320.08" cy="114.96" r="1.6" stroke="#84c441" fill="#84c441" stroke-width="0.5"/>
<circle cx="320.9" cy="114.98" r="1.6" stroke="#84c441" fill="#84c441" stroke-width="0.5"/>
<circle cx="321.72" cy="114.99" r="1.6" stroke="#84c441" fill="#84c441" stroke-width="0.5"/>
<circle cx="322.54" cy="115" r="1.6" stroke="#84c441" fill="#84c441" stroke-width="0.5"/>
<circle cx="323.36" cy="115.01" r="1.6" stroke="#84c441" fill="#84c441" stroke-width="0.5"/>
<circle cx="324.18" cy="115.03" r="1.6" stroke="#84c441" fill="#84c441" stroke-width="0.5"/>
<circle cx="325" cy="115.04" r="1.6" stroke="#84c441" fill="#84c441" stroke-width="0.5"/>
<circle cx="325.82" cy="115.05" r="1.6" stroke="#84c441" fill="#84c441" stroke-width="0.5"/>
<circle cx="326.64" cy="115.06" r="1.6" stroke="#84c441" fill="#84c441" stroke-width="0.5"/>
<circle cx="327.46" cy="115.08" r="1.6" stroke="#84c441" fill="#84c441" stroke-width="0.5"/>
<circle cx="328.28" cy="115.09" r="1.6" stroke="#84c441" fill="#84c441" stroke-width="0.5"/>
<circle cx="329" cy="116.6" r="2.2" stroke="#9ad06a" fill="none" stroke-width="0.6"/>
<line x1="326.8" y1="116.6" x2="331.2" y2="116.6" stroke="#9ad06a" stroke-width="0.54" />
<line x1="329" y1="114.4" x2="329" y2="118.8" stroke="#9ad06a" stroke-width="0.54" />
<circle cx="342.7" cy="115.9" r="2.2" stroke="#9ad06a" fill="none" stroke-width="0.6"/>
<line x1="340.5" y1="115.9" x2="344.9" y2="115.9" stroke="#9ad06a" stroke-width="0.54" />
<line x1="342.7" y1="113.7" x2="342.7" y2="118.1" stroke="#9ad06a" stroke-width="0.54" />
<circle cx="355.6" cy="113.8" r="2.2" stroke="#9ad06a" fill="none" stroke-width="0.6"/>
<line x1="353.4" y1="113.8" x2="357.8" y2="113.8" stroke="#9ad06a" stroke-width="0.54" />
<line x1="355.6" y1="111.6" x2="355.6" y2="116" stroke="#9ad06a" stroke-width="0.54" />
<circle cx="367.5" cy="111.1" r="2.2" stroke="#9ad06a" fill="none" stroke-width="0.6"/>
<line x1="365.3" y1="111.1" x2="369.7" y2="111.1" stroke="#9ad06a" stroke-width="0.54" />
<line x1="367.5" y1="108.9" x2="367.5" y2="113.3" stroke="#9ad06a" stroke-width="0.54" />
<circle cx="379.1" cy="108" r="2.2" stroke="#9ad06a" fill="none" stroke-width="0.6"/>
<line x1="376.9" y1="108" x2="381.3" y2="108" stroke="#9ad06a" stroke-width="0.54" />
<line x1="379.1" y1="105.8" x2="379.1" y2="110.2" stroke="#9ad06a" stroke-width="0.54" />
<circle cx="392" cy="103.5" r="2.2" stroke="#9ad06a" fill="none" stroke-width="0.6"/>
<line x1="389.8" y1="103.5" x2="394.2" y2="103.5" stroke="#9ad06a" stroke-width="0.54" />
<line x1="392" y1="101.3" x2="392" y2="105.7" stroke="#9ad06a" stroke-width="0.54" />
<circle cx="403.9" cy="97.4" r="2.2" stroke="#9ad06a" fill="none" stroke-width="0.6"/>
<line x1="401.7" y1="97.4" x2="406.1" y2="97.4" stroke="#9ad06a" stroke-width="0.54" />
<line x1="403.9" y1="95.2" x2="403.9" y2="99.6" stroke="#9ad06a" stroke-width="0.54" />
<circle cx="415.2" cy="88.4" r="2.2" stroke="#9ad06a" fill="none" stroke-width="0.6"/>
<line x1="413" y1="88.4" x2="417.4" y2="88.4" stroke="#9ad06a" stroke-width="0.54" />
<line x1="415.2" y1="86.2" x2="415.2" y2="90.6" stroke="#9ad06a" stroke-width="0.54" />
<rect x="284.9" y="176.9" width="42.5" height="130.3" fill="#b5e2f0"/>
<line x1="273.2" y1="307.2" x2="273.2" y2="304.1" stroke="#222" stroke-width="0.75" />
<line x1="273.2" y1="176.9" x2="273.2" y2="180" stroke="#222" stroke-width="0.75" />
<line x1="282.14" y1="307.2" x2="282.14" y2="305.5" stroke="#222" stroke-width="0.75" />
<line x1="282.14" y1="176.9" x2="282.14" y2="178.6" stroke="#222" stroke-width="0.75" />
<line x1="291.08" y1="307.2" x2="291.08" y2="305.5" stroke="#222" stroke-width="0.75" />
<line x1="291.08" y1="176.9" x2="291.08" y2="178.6" stroke="#222" stroke-width="0.75" />
<line x1="300.02" y1="307.2" x2="300.02" y2="305.5" stroke="#222" stroke-width="0.75" />
<line x1="300.02" y1="176.9" x2="300.02" y2="178.6" stroke="#222" stroke-width="0.75" />
<line x1="308.96" y1="307.2" x2="308.96" y2="305.5" stroke="#222" stroke-width="0.75" />
<line x1="308.96" y1="176.9" x2="308.96" y2="178.6" stroke="#222" stroke-width="0.75" />
<line x1="317.9" y1="307.2" x2="317.9" y2="304.1" stroke="#222" stroke-width="0.75" />
<line x1="317.9" y1="176.9" x2="317.9" y2="180" stroke="#222" stroke-width="0.75" />
<line x1="326.84" y1="307.2" x2="326.84" y2="305.5" stroke="#222" stroke-width="0.75" />
<line x1="326.84" y1="176.9" x2="326.84" y2="178.6" stroke="#222" stroke-width="0.75" />
<line x1="335.78" y1="307.2" x2="335.78" y2="305.5" stroke="#222" stroke-width="0.75" />
<line x1="335.78" y1="176.9" x2="335.78" y2="178.6" stroke="#222" stroke-width="0.75" />
<line x1="344.72" y1="307.2" x2="344.72" y2="305.5" stroke="#222" stroke-width="0.75" />
<line x1="344.72" y1="176.9" x2="344.72" y2="178.6" stroke="#222" stroke-width="0.75" />
<line x1="353.66" y1="307.2" x2="353.66" y2="305.5" stroke="#222" stroke-width="0.75" />
<line x1="353.66" y1="176.9" x2="353.66" y2="178.6" stroke="#222" stroke-width="0.75" />
<line x1="362.6" y1="307.2" x2="362.6" y2="304.1" stroke="#222" stroke-width="0.75" />
<line x1="362.6" y1="176.9" x2="362.6" y2="180" stroke="#222" stroke-width="0.75" />
<line x1="371.54" y1="307.2" x2="371.54" y2="305.5" stroke="#222" stroke-width="0.75" />
<line x1="371.54" y1="176.9" x2="371.54" y2="178.6" stroke="#222" stroke-width="0.75" />
<line x1="380.48" y1="307.2" x2="380.48" y2="305.5" stroke="#222" stroke-width="0.75" />
<line x1="380.48" y1="176.9" x2="380.48" y2="178.6" stroke="#222" stroke-width="0.75" />
<line x1="389.42" y1="307.2" x2="389.42" y2="305.5" stroke="#222" stroke-width="0.75" />
<line x1="389.42" y1="176.9" x2="389.42" y2="178.6" stroke="#222" stroke-width="0.75" />
<line x1="398.36" y1="307.2" x2="398.36" y2="305.5" stroke="#222" stroke-width="0.75" />
<line x1="398.36" y1="176.9" x2="398.36" y2="178.6" stroke="#222" stroke-width="0.75" />
<line x1="407.3" y1="307.2" x2="407.3" y2="304.1" stroke="#222" stroke-width="0.75" />
<line x1="407.3" y1="176.9" x2="407.3" y2="180" stroke="#222" stroke-width="0.75" />
<line x1="416.24" y1="307.2" x2="416.24" y2="305.5" stroke="#222" stroke-width="0.75" />
<line x1="416.24" y1="176.9" x2="416.24" y2="178.6" stroke="#222" stroke-width="0.75" />
<line x1="425.18" y1="307.2" x2="425.18" y2="305.5" stroke="#222" stroke-width="0.75" />
<line x1="425.18" y1="176.9" x2="425.18" y2="178.6" stroke="#222" stroke-width="0.75" />
<line x1="268.8" y1="307.2" x2="271.9" y2="307.2" stroke="#7a3fc2" stroke-width="0.75" />
<line x1="268.8" y1="301.4" x2="270.5" y2="301.4" stroke="#7a3fc2" stroke-width="0.75" />
<line x1="268.8" y1="295.61" x2="270.5" y2="295.61" stroke="#7a3fc2" stroke-width="0.75" />
<line x1="268.8" y1="289.81" x2="270.5" y2="289.81" stroke="#7a3fc2" stroke-width="0.75" />
<line x1="268.8" y1="284.02" x2="270.5" y2="284.02" stroke="#7a3fc2" stroke-width="0.75" />
<line x1="268.8" y1="278.22" x2="271.9" y2="278.22" stroke="#7a3fc2" stroke-width="0.75" />
<line x1="268.8" y1="272.43" x2="270.5" y2="272.43" stroke="#7a3fc2" stroke-width="0.75" />
<line x1="268.8" y1="266.63" x2="270.5" y2="266.63" stroke="#7a3fc2" stroke-width="0.75" />
<line x1="268.8" y1="260.84" x2="270.5" y2="260.84" stroke="#7a3fc2" stroke-width="0.75" />
<line x1="268.8" y1="255.04" x2="270.5" y2="255.04" stroke="#7a3fc2" stroke-width="0.75" />
<line x1="268.8" y1="249.25" x2="271.9" y2="249.25" stroke="#7a3fc2" stroke-width="0.75" />
<line x1="268.8" y1="243.45" x2="270.5" y2="243.45" stroke="#7a3fc2" stroke-width="0.75" />
<line x1="268.8" y1="237.66" x2="270.5" y2="237.66" stroke="#7a3fc2" stroke-width="0.75" />
<line x1="268.8" y1="231.86" x2="270.5" y2="231.86" stroke="#7a3fc2" stroke-width="0.75" />
<line x1="268.8" y1="226.07" x2="270.5" y2="226.07" stroke="#7a3fc2" stroke-width="0.75" />
<line x1="268.8" y1="220.27" x2="271.9" y2="220.27" stroke="#7a3fc2" stroke-width="0.75" />
<line x1="268.8" y1="214.48" x2="270.5" y2="214.48" stroke="#7a3fc2" stroke-width="0.75" />
<line x1="268.8" y1="208.69" x2="270.5" y2="208.69" stroke="#7a3fc2" stroke-width="0.75" />
<line x1="268.8" y1="202.89" x2="270.5" y2="202.89" stroke="#7a3fc2" stroke-width="0.75" />
<line x1="268.8" y1="197.09" x2="270.5" y2="197.09" stroke="#7a3fc2" stroke-width="0.75" />
<line x1="268.8" y1="191.3" x2="271.9" y2="191.3" stroke="#7a3fc2" stroke-width="0.75" />
<line x1="268.8" y1="185.5" x2="270.5" y2="185.5" stroke="#7a3fc2" stroke-width="0.75" />
<line x1="268.8" y1="179.71" x2="270.5" y2="179.71" stroke="#7a3fc2" stroke-width="0.75" />
<line x1="425.8" y1="307.2" x2="422.7" y2="307.2" stroke="#f0892a" stroke-width="0.75" />
<line x1="425.8" y1="295.35" x2="424.1" y2="295.35" stroke="#f0892a" stroke-width="0.75" />
<line x1="425.8" y1="283.5" x2="422.7" y2="283.5" stroke="#f0892a" stroke-width="0.75" />
<line x1="425.8" y1="271.65" x2="424.1" y2="271.65" stroke="#f0892a" stroke-width="0.75" />
<line x1="425.8" y1="259.8" x2="422.7" y2="259.8" stroke="#f0892a" stroke-width="0.75" />
<line x1="425.8" y1="247.95" x2="424.1" y2="247.95" stroke="#f0892a" stroke-width="0.75" />
<line x1="425.8" y1="236.1" x2="422.7" y2="236.1" stroke="#f0892a" stroke-width="0.75" />
<line x1="425.8" y1="224.25" x2="424.1" y2="224.25" stroke="#f0892a" stroke-width="0.75" />
<line x1="425.8" y1="212.4" x2="422.7" y2="212.4" stroke="#f0892a" stroke-width="0.75" />
<line x1="425.8" y1="200.55" x2="424.1" y2="200.55" stroke="#f0892a" stroke-width="0.75" />
<line x1="425.8" y1="188.7" x2="422.7" y2="188.7" stroke="#f0892a" stroke-width="0.75" />
<line x1="268.8" y1="176.9" x2="425.8" y2="176.9" stroke="#000" stroke-width="1" />
<line x1="268.8" y1="307.2" x2="425.8" y2="307.2" stroke="#000" stroke-width="1" />
<line x1="268.8" y1="176.9" x2="268.8" y2="307.2" stroke="#7a3fc2" stroke-width="1" />
<line x1="425.8" y1="176.9" x2="425.8" y2="307.2" stroke="#f0892a" stroke-width="1" />
<path d="M272.6,189.2 L327.6,189.2 L340.4,200.4 L355.7,214.2 L371.1,231.1 L381,243.5 L391.1,256.3 L396,261.8 L403.4,268.4 L408.5,274.8 L414.5,282.6" stroke="#f0892a" stroke-width="1.35" fill="none" stroke-linejoin="round" />
<path d="M273,300.4 L286.6,300.4 L300.2,191.6 L326.6,191.6 L326.6,300.4 L415.4,300.4" stroke="#7a3fc2" stroke-width="1.2" fill="none" stroke-linejoin="round" />
<line x1="277" y1="217.5" x2="294.9" y2="217.5" stroke="#7a3fc2" stroke-width="1" />
<path d="M273.3,217.5 L279.5,215.3 L279.5,219.7 Z" fill="#7a3fc2"/>
<line x1="358.6" y1="214.6" x2="375.5" y2="214.6" stroke="#f0892a" stroke-width="1" />
<path d="M379.2,214.6 L373.2,212.5 L373.2,216.7 Z" fill="#f0892a"/>
<text x="265.2" y="310.5" font-size="11.2" fill="#7a3fc2" stroke="#7a3fc2" stroke-width="0.12" text-anchor="end" style="" >0</text>
<text x="265.2" y="281.52" font-size="11.2" fill="#7a3fc2" stroke="#7a3fc2" stroke-width="0.12" text-anchor="end" style="" >100</text>
<text x="265.2" y="252.55" font-size="11.2" fill="#7a3fc2" stroke="#7a3fc2" stroke-width="0.12" text-anchor="end" style="" >200</text>
<text x="265.2" y="223.57" font-size="11.2" fill="#7a3fc2" stroke="#7a3fc2" stroke-width="0.12" text-anchor="end" style="" >300</text>
<text x="265.2" y="194.6" font-size="11.2" fill="#7a3fc2" stroke="#7a3fc2" stroke-width="0.12" text-anchor="end" style="" >400</text>
<text x="428.7" y="310.6" font-size="11.1" fill="#f0892a" stroke="#f0892a" stroke-width="0.12" text-anchor="start" style="" >0</text>
<text x="428.7" y="286.9" font-size="11.1" fill="#f0892a" stroke="#f0892a" stroke-width="0.12" text-anchor="start" style="" >2</text>
<text x="428.7" y="263.2" font-size="11.1" fill="#f0892a" stroke="#f0892a" stroke-width="0.12" text-anchor="start" style="" >4</text>
<text x="428.7" y="239.5" font-size="11.1" fill="#f0892a" stroke="#f0892a" stroke-width="0.12" text-anchor="start" style="" >6</text>
<text x="428.7" y="215.8" font-size="11.1" fill="#f0892a" stroke="#f0892a" stroke-width="0.12" text-anchor="start" style="" >8</text>
<text x="428.7" y="192.1" font-size="11.1" fill="#f0892a" stroke="#f0892a" stroke-width="0.12" text-anchor="start" style="" >10</text>
<text x="273.2" y="319.6" font-size="11" fill="#000" stroke="#000" stroke-width="0.12" text-anchor="middle" style="" >0</text>
<text x="317.9" y="319.6" font-size="11" fill="#000" stroke="#000" stroke-width="0.12" text-anchor="middle" style="" >50</text>
<text x="362.6" y="319.6" font-size="11" fill="#000" stroke="#000" stroke-width="0.12" text-anchor="middle" style="" >100</text>
<text x="407.3" y="319.6" font-size="11" fill="#000" stroke="#000" stroke-width="0.12" text-anchor="middle" style="" >150</text>
<text x="350" y="331.6" font-size="12.2" fill="#000" stroke="#000" stroke-width="0.12" text-anchor="middle" style="" >Time / min</text>
<text transform="translate(243.8,243) rotate(-90)" font-size="13" fill="#7a3fc2" stroke="#7a3fc2" stroke-width="0.12" text-anchor="middle" style="" >Temperature / &#176;C</text>
<text transform="translate(451,243) rotate(-90)" font-size="12.8" fill="#f0892a" stroke="#f0892a" stroke-width="0.12" text-anchor="middle" style="" >Pressure / GPa</text>
<line x1="489.5" y1="142.7" x2="489.5" y2="139.7" stroke="#222" stroke-width="0.75" />
<line x1="489.5" y1="12.4" x2="489.5" y2="15.4" stroke="#222" stroke-width="0.75" />
<line x1="493.01" y1="142.7" x2="493.01" y2="141.2" stroke="#222" stroke-width="0.75" />
<line x1="493.01" y1="12.4" x2="493.01" y2="13.9" stroke="#222" stroke-width="0.75" />
<line x1="496.52" y1="142.7" x2="496.52" y2="141.2" stroke="#222" stroke-width="0.75" />
<line x1="496.52" y1="12.4" x2="496.52" y2="13.9" stroke="#222" stroke-width="0.75" />
<line x1="500.03" y1="142.7" x2="500.03" y2="141.2" stroke="#222" stroke-width="0.75" />
<line x1="500.03" y1="12.4" x2="500.03" y2="13.9" stroke="#222" stroke-width="0.75" />
<line x1="503.54" y1="142.7" x2="503.54" y2="141.2" stroke="#222" stroke-width="0.75" />
<line x1="503.54" y1="12.4" x2="503.54" y2="13.9" stroke="#222" stroke-width="0.75" />
<line x1="507.04" y1="142.7" x2="507.04" y2="139.7" stroke="#222" stroke-width="0.75" />
<line x1="507.04" y1="12.4" x2="507.04" y2="15.4" stroke="#222" stroke-width="0.75" />
<line x1="510.55" y1="142.7" x2="510.55" y2="141.2" stroke="#222" stroke-width="0.75" />
<line x1="510.55" y1="12.4" x2="510.55" y2="13.9" stroke="#222" stroke-width="0.75" />
<line x1="514.06" y1="142.7" x2="514.06" y2="141.2" stroke="#222" stroke-width="0.75" />
<line x1="514.06" y1="12.4" x2="514.06" y2="13.9" stroke="#222" stroke-width="0.75" />
<line x1="517.57" y1="142.7" x2="517.57" y2="141.2" stroke="#222" stroke-width="0.75" />
<line x1="517.57" y1="12.4" x2="517.57" y2="13.9" stroke="#222" stroke-width="0.75" />
<line x1="521.08" y1="142.7" x2="521.08" y2="141.2" stroke="#222" stroke-width="0.75" />
<line x1="521.08" y1="12.4" x2="521.08" y2="13.9" stroke="#222" stroke-width="0.75" />
<line x1="524.59" y1="142.7" x2="524.59" y2="139.7" stroke="#222" stroke-width="0.75" />
<line x1="524.59" y1="12.4" x2="524.59" y2="15.4" stroke="#222" stroke-width="0.75" />
<line x1="528.1" y1="142.7" x2="528.1" y2="141.2" stroke="#222" stroke-width="0.75" />
<line x1="528.1" y1="12.4" x2="528.1" y2="13.9" stroke="#222" stroke-width="0.75" />
<line x1="531.61" y1="142.7" x2="531.61" y2="141.2" stroke="#222" stroke-width="0.75" />
<line x1="531.61" y1="12.4" x2="531.61" y2="13.9" stroke="#222" stroke-width="0.75" />
<line x1="535.12" y1="142.7" x2="535.12" y2="141.2" stroke="#222" stroke-width="0.75" />
<line x1="535.12" y1="12.4" x2="535.12" y2="13.9" stroke="#222" stroke-width="0.75" />
<line x1="538.62" y1="142.7" x2="538.62" y2="141.2" stroke="#222" stroke-width="0.75" />
<line x1="538.62" y1="12.4" x2="538.62" y2="13.9" stroke="#222" stroke-width="0.75" />
<line x1="542.13" y1="142.7" x2="542.13" y2="139.7" stroke="#222" stroke-width="0.75" />
<line x1="542.13" y1="12.4" x2="542.13" y2="15.4" stroke="#222" stroke-width="0.75" />
<line x1="545.64" y1="142.7" x2="545.64" y2="141.2" stroke="#222" stroke-width="0.75" />
<line x1="545.64" y1="12.4" x2="545.64" y2="13.9" stroke="#222" stroke-width="0.75" />
<line x1="549.15" y1="142.7" x2="549.15" y2="141.2" stroke="#222" stroke-width="0.75" />
<line x1="549.15" y1="12.4" x2="549.15" y2="13.9" stroke="#222" stroke-width="0.75" />
<line x1="552.66" y1="142.7" x2="552.66" y2="141.2" stroke="#222" stroke-width="0.75" />
<line x1="552.66" y1="12.4" x2="552.66" y2="13.9" stroke="#222" stroke-width="0.75" />
<line x1="556.17" y1="142.7" x2="556.17" y2="141.2" stroke="#222" stroke-width="0.75" />
<line x1="556.17" y1="12.4" x2="556.17" y2="13.9" stroke="#222" stroke-width="0.75" />
<line x1="559.68" y1="142.7" x2="559.68" y2="139.7" stroke="#222" stroke-width="0.75" />
<line x1="559.68" y1="12.4" x2="559.68" y2="15.4" stroke="#222" stroke-width="0.75" />
<line x1="563.19" y1="142.7" x2="563.19" y2="141.2" stroke="#222" stroke-width="0.75" />
<line x1="563.19" y1="12.4" x2="563.19" y2="13.9" stroke="#222" stroke-width="0.75" />
<line x1="566.7" y1="142.7" x2="566.7" y2="141.2" stroke="#222" stroke-width="0.75" />
<line x1="566.7" y1="12.4" x2="566.7" y2="13.9" stroke="#222" stroke-width="0.75" />
<line x1="570.2" y1="142.7" x2="570.2" y2="141.2" stroke="#222" stroke-width="0.75" />
<line x1="570.2" y1="12.4" x2="570.2" y2="13.9" stroke="#222" stroke-width="0.75" />
<line x1="573.71" y1="142.7" x2="573.71" y2="141.2" stroke="#222" stroke-width="0.75" />
<line x1="573.71" y1="12.4" x2="573.71" y2="13.9" stroke="#222" stroke-width="0.75" />
<line x1="577.22" y1="142.7" x2="577.22" y2="139.7" stroke="#222" stroke-width="0.75" />
<line x1="577.22" y1="12.4" x2="577.22" y2="15.4" stroke="#222" stroke-width="0.75" />
<line x1="580.73" y1="142.7" x2="580.73" y2="141.2" stroke="#222" stroke-width="0.75" />
<line x1="580.73" y1="12.4" x2="580.73" y2="13.9" stroke="#222" stroke-width="0.75" />
<line x1="584.24" y1="142.7" x2="584.24" y2="141.2" stroke="#222" stroke-width="0.75" />
<line x1="584.24" y1="12.4" x2="584.24" y2="13.9" stroke="#222" stroke-width="0.75" />
<line x1="587.75" y1="142.7" x2="587.75" y2="141.2" stroke="#222" stroke-width="0.75" />
<line x1="587.75" y1="12.4" x2="587.75" y2="13.9" stroke="#222" stroke-width="0.75" />
<line x1="591.26" y1="142.7" x2="591.26" y2="141.2" stroke="#222" stroke-width="0.75" />
<line x1="591.26" y1="12.4" x2="591.26" y2="13.9" stroke="#222" stroke-width="0.75" />
<line x1="594.77" y1="142.7" x2="594.77" y2="139.7" stroke="#222" stroke-width="0.75" />
<line x1="594.77" y1="12.4" x2="594.77" y2="15.4" stroke="#222" stroke-width="0.75" />
<line x1="598.28" y1="142.7" x2="598.28" y2="141.2" stroke="#222" stroke-width="0.75" />
<line x1="598.28" y1="12.4" x2="598.28" y2="13.9" stroke="#222" stroke-width="0.75" />
<line x1="601.78" y1="142.7" x2="601.78" y2="141.2" stroke="#222" stroke-width="0.75" />
<line x1="601.78" y1="12.4" x2="601.78" y2="13.9" stroke="#222" stroke-width="0.75" />
<line x1="605.29" y1="142.7" x2="605.29" y2="141.2" stroke="#222" stroke-width="0.75" />
<line x1="605.29" y1="12.4" x2="605.29" y2="13.9" stroke="#222" stroke-width="0.75" />
<line x1="608.8" y1="142.7" x2="608.8" y2="141.2" stroke="#222" stroke-width="0.75" />
<line x1="608.8" y1="12.4" x2="608.8" y2="13.9" stroke="#222" stroke-width="0.75" />
<line x1="612.31" y1="142.7" x2="612.31" y2="139.7" stroke="#222" stroke-width="0.75" />
<line x1="612.31" y1="12.4" x2="612.31" y2="15.4" stroke="#222" stroke-width="0.75" />
<line x1="615.82" y1="142.7" x2="615.82" y2="141.2" stroke="#222" stroke-width="0.75" />
<line x1="615.82" y1="12.4" x2="615.82" y2="13.9" stroke="#222" stroke-width="0.75" />
<line x1="619.33" y1="142.7" x2="619.33" y2="141.2" stroke="#222" stroke-width="0.75" />
<line x1="619.33" y1="12.4" x2="619.33" y2="13.9" stroke="#222" stroke-width="0.75" />
<line x1="622.84" y1="142.7" x2="622.84" y2="141.2" stroke="#222" stroke-width="0.75" />
<line x1="622.84" y1="12.4" x2="622.84" y2="13.9" stroke="#222" stroke-width="0.75" />
<line x1="626.35" y1="142.7" x2="626.35" y2="141.2" stroke="#222" stroke-width="0.75" />
<line x1="626.35" y1="12.4" x2="626.35" y2="13.9" stroke="#222" stroke-width="0.75" />
<line x1="629.86" y1="142.7" x2="629.86" y2="139.7" stroke="#222" stroke-width="0.75" />
<line x1="629.86" y1="12.4" x2="629.86" y2="15.4" stroke="#222" stroke-width="0.75" />
<line x1="633.36" y1="142.7" x2="633.36" y2="141.2" stroke="#222" stroke-width="0.75" />
<line x1="633.36" y1="12.4" x2="633.36" y2="13.9" stroke="#222" stroke-width="0.75" />
<line x1="636.87" y1="142.7" x2="636.87" y2="141.2" stroke="#222" stroke-width="0.75" />
<line x1="636.87" y1="12.4" x2="636.87" y2="13.9" stroke="#222" stroke-width="0.75" />
<line x1="640.38" y1="142.7" x2="640.38" y2="141.2" stroke="#222" stroke-width="0.75" />
<line x1="640.38" y1="12.4" x2="640.38" y2="13.9" stroke="#222" stroke-width="0.75" />
<line x1="643.89" y1="142.7" x2="643.89" y2="141.2" stroke="#222" stroke-width="0.75" />
<line x1="643.89" y1="12.4" x2="643.89" y2="13.9" stroke="#222" stroke-width="0.75" />
<line x1="647.4" y1="142.7" x2="647.4" y2="139.7" stroke="#222" stroke-width="0.75" />
<line x1="647.4" y1="12.4" x2="647.4" y2="15.4" stroke="#222" stroke-width="0.75" />
<line x1="489.5" y1="142.7" x2="492.5" y2="142.7" stroke="#222" stroke-width="0.75" />
<line x1="489.5" y1="139.44" x2="491" y2="139.44" stroke="#222" stroke-width="0.75" />
<line x1="489.5" y1="136.19" x2="491" y2="136.19" stroke="#222" stroke-width="0.75" />
<line x1="489.5" y1="132.93" x2="491" y2="132.93" stroke="#222" stroke-width="0.75" />
<line x1="489.5" y1="129.67" x2="491" y2="129.67" stroke="#222" stroke-width="0.75" />
<line x1="489.5" y1="126.41" x2="492.5" y2="126.41" stroke="#222" stroke-width="0.75" />
<line x1="489.5" y1="123.16" x2="491" y2="123.16" stroke="#222" stroke-width="0.75" />
<line x1="489.5" y1="119.9" x2="491" y2="119.9" stroke="#222" stroke-width="0.75" />
<line x1="489.5" y1="116.64" x2="491" y2="116.64" stroke="#222" stroke-width="0.75" />
<line x1="489.5" y1="113.38" x2="491" y2="113.38" stroke="#222" stroke-width="0.75" />
<line x1="489.5" y1="110.13" x2="492.5" y2="110.13" stroke="#222" stroke-width="0.75" />
<line x1="489.5" y1="106.87" x2="491" y2="106.87" stroke="#222" stroke-width="0.75" />
<line x1="489.5" y1="103.61" x2="491" y2="103.61" stroke="#222" stroke-width="0.75" />
<line x1="489.5" y1="100.35" x2="491" y2="100.35" stroke="#222" stroke-width="0.75" />
<line x1="489.5" y1="97.09" x2="491" y2="97.09" stroke="#222" stroke-width="0.75" />
<line x1="489.5" y1="93.84" x2="492.5" y2="93.84" stroke="#222" stroke-width="0.75" />
<line x1="489.5" y1="90.58" x2="491" y2="90.58" stroke="#222" stroke-width="0.75" />
<line x1="489.5" y1="87.32" x2="491" y2="87.32" stroke="#222" stroke-width="0.75" />
<line x1="489.5" y1="84.07" x2="491" y2="84.07" stroke="#222" stroke-width="0.75" />
<line x1="489.5" y1="80.81" x2="491" y2="80.81" stroke="#222" stroke-width="0.75" />
<line x1="489.5" y1="77.55" x2="492.5" y2="77.55" stroke="#222" stroke-width="0.75" />
<line x1="489.5" y1="74.29" x2="491" y2="74.29" stroke="#222" stroke-width="0.75" />
<line x1="489.5" y1="71.04" x2="491" y2="71.04" stroke="#222" stroke-width="0.75" />
<line x1="489.5" y1="67.78" x2="491" y2="67.78" stroke="#222" stroke-width="0.75" />
<line x1="489.5" y1="64.52" x2="491" y2="64.52" stroke="#222" stroke-width="0.75" />
<line x1="489.5" y1="61.26" x2="492.5" y2="61.26" stroke="#222" stroke-width="0.75" />
<line x1="489.5" y1="58.01" x2="491" y2="58.01" stroke="#222" stroke-width="0.75" />
<line x1="489.5" y1="54.75" x2="491" y2="54.75" stroke="#222" stroke-width="0.75" />
<line x1="489.5" y1="51.49" x2="491" y2="51.49" stroke="#222" stroke-width="0.75" />
<line x1="489.5" y1="48.23" x2="491" y2="48.23" stroke="#222" stroke-width="0.75" />
<line x1="489.5" y1="44.98" x2="492.5" y2="44.98" stroke="#222" stroke-width="0.75" />
<line x1="489.5" y1="41.72" x2="491" y2="41.72" stroke="#222" stroke-width="0.75" />
<line x1="489.5" y1="38.46" x2="491" y2="38.46" stroke="#222" stroke-width="0.75" />
<line x1="489.5" y1="35.2" x2="491" y2="35.2" stroke="#222" stroke-width="0.75" />
<line x1="489.5" y1="31.95" x2="491" y2="31.95" stroke="#222" stroke-width="0.75" />
<line x1="489.5" y1="28.69" x2="492.5" y2="28.69" stroke="#222" stroke-width="0.75" />
<line x1="489.5" y1="25.43" x2="491" y2="25.43" stroke="#222" stroke-width="0.75" />
<line x1="489.5" y1="22.17" x2="491" y2="22.17" stroke="#222" stroke-width="0.75" />
<line x1="489.5" y1="18.92" x2="491" y2="18.92" stroke="#222" stroke-width="0.75" />
<line x1="489.5" y1="15.66" x2="491" y2="15.66" stroke="#222" stroke-width="0.75" />
<line x1="489.5" y1="12.4" x2="492.5" y2="12.4" stroke="#222" stroke-width="0.75" />
<line x1="647.4" y1="142.7" x2="644.4" y2="142.7" stroke="#7a3fc2" stroke-width="0.75" />
<line x1="647.4" y1="136.89" x2="645.8" y2="136.89" stroke="#7a3fc2" stroke-width="0.75" />
<line x1="647.4" y1="131.09" x2="645.8" y2="131.09" stroke="#7a3fc2" stroke-width="0.75" />
<line x1="647.4" y1="125.28" x2="645.8" y2="125.28" stroke="#7a3fc2" stroke-width="0.75" />
<line x1="647.4" y1="119.48" x2="645.8" y2="119.48" stroke="#7a3fc2" stroke-width="0.75" />
<line x1="647.4" y1="113.67" x2="644.4" y2="113.67" stroke="#7a3fc2" stroke-width="0.75" />
<line x1="647.4" y1="107.87" x2="645.8" y2="107.87" stroke="#7a3fc2" stroke-width="0.75" />
<line x1="647.4" y1="102.06" x2="645.8" y2="102.06" stroke="#7a3fc2" stroke-width="0.75" />
<line x1="647.4" y1="96.26" x2="645.8" y2="96.26" stroke="#7a3fc2" stroke-width="0.75" />
<line x1="647.4" y1="90.45" x2="645.8" y2="90.45" stroke="#7a3fc2" stroke-width="0.75" />
<line x1="647.4" y1="84.65" x2="644.4" y2="84.65" stroke="#7a3fc2" stroke-width="0.75" />
<line x1="647.4" y1="78.84" x2="645.8" y2="78.84" stroke="#7a3fc2" stroke-width="0.75" />
<line x1="647.4" y1="73.04" x2="645.8" y2="73.04" stroke="#7a3fc2" stroke-width="0.75" />
<line x1="647.4" y1="67.23" x2="645.8" y2="67.23" stroke="#7a3fc2" stroke-width="0.75" />
<line x1="647.4" y1="61.43" x2="645.8" y2="61.43" stroke="#7a3fc2" stroke-width="0.75" />
<line x1="647.4" y1="55.62" x2="644.4" y2="55.62" stroke="#7a3fc2" stroke-width="0.75" />
<line x1="647.4" y1="49.82" x2="645.8" y2="49.82" stroke="#7a3fc2" stroke-width="0.75" />
<line x1="647.4" y1="44.02" x2="645.8" y2="44.02" stroke="#7a3fc2" stroke-width="0.75" />
<line x1="647.4" y1="38.21" x2="645.8" y2="38.21" stroke="#7a3fc2" stroke-width="0.75" />
<line x1="647.4" y1="32.41" x2="645.8" y2="32.41" stroke="#7a3fc2" stroke-width="0.75" />
<line x1="647.4" y1="26.6" x2="644.4" y2="26.6" stroke="#7a3fc2" stroke-width="0.75" />
<line x1="647.4" y1="20.79" x2="645.8" y2="20.79" stroke="#7a3fc2" stroke-width="0.75" />
<line x1="489.5" y1="12.4" x2="647.4" y2="12.4" stroke="#000" stroke-width="1" />
<line x1="489.5" y1="142.7" x2="647.4" y2="142.7" stroke="#000" stroke-width="1" />
<line x1="489.5" y1="12.4" x2="489.5" y2="142.7" stroke="#000" stroke-width="1" />
<line x1="647.4" y1="12.4" x2="647.4" y2="142.7" stroke="#7a3fc2" stroke-width="1" />
<text x="486.4" y="145.8" font-size="11.1" fill="#000" stroke="#000" stroke-width="0.12" text-anchor="end" style="" >2.8</text>
<text x="486.4" y="129.51" font-size="11.1" fill="#000" stroke="#000" stroke-width="0.12" text-anchor="end" style="" >2.9</text>
<text x="486.4" y="113.23" font-size="11.1" fill="#000" stroke="#000" stroke-width="0.12" text-anchor="end" style="" >3.0</text>
<text x="486.4" y="96.94" font-size="11.1" fill="#000" stroke="#000" stroke-width="0.12" text-anchor="end" style="" >3.1</text>
<text x="486.4" y="80.65" font-size="11.1" fill="#000" stroke="#000" stroke-width="0.12" text-anchor="end" style="" >3.2</text>
<text x="486.4" y="64.36" font-size="11.1" fill="#000" stroke="#000" stroke-width="0.12" text-anchor="end" style="" >3.3</text>
<text x="486.4" y="48.08" font-size="11.1" fill="#000" stroke="#000" stroke-width="0.12" text-anchor="end" style="" >3.4</text>
<text x="486.4" y="31.79" font-size="11.1" fill="#000" stroke="#000" stroke-width="0.12" text-anchor="end" style="" >3.5</text>
<text x="486.4" y="15.5" font-size="11.1" fill="#000" stroke="#000" stroke-width="0.12" text-anchor="end" style="" >3.6</text>
<text x="650.6" y="145.4" font-size="11.1" fill="#7a3fc2" stroke="#7a3fc2" stroke-width="0.12" text-anchor="start" style="" >0</text>
<text x="650.6" y="116.37" font-size="11.1" fill="#7a3fc2" stroke="#7a3fc2" stroke-width="0.12" text-anchor="start" style="" >100</text>
<text x="650.6" y="87.35" font-size="11.1" fill="#7a3fc2" stroke="#7a3fc2" stroke-width="0.12" text-anchor="start" style="" >200</text>
<text x="650.6" y="58.33" font-size="11.1" fill="#7a3fc2" stroke="#7a3fc2" stroke-width="0.12" text-anchor="start" style="" >300</text>
<text x="650.6" y="29.3" font-size="11.1" fill="#7a3fc2" stroke="#7a3fc2" stroke-width="0.12" text-anchor="start" style="" >400</text>
<text x="489.5" y="155" font-size="11" fill="#000" stroke="#000" stroke-width="0.12" text-anchor="middle" style="" >15</text>
<text x="507.04" y="155" font-size="11" fill="#000" stroke="#000" stroke-width="0.12" text-anchor="middle" style="" >20</text>
<text x="524.59" y="155" font-size="11" fill="#000" stroke="#000" stroke-width="0.12" text-anchor="middle" style="" >25</text>
<text x="542.13" y="155" font-size="11" fill="#000" stroke="#000" stroke-width="0.12" text-anchor="middle" style="" >30</text>
<text x="559.68" y="155" font-size="11" fill="#000" stroke="#000" stroke-width="0.12" text-anchor="middle" style="" >35</text>
<text x="577.22" y="155" font-size="11" fill="#000" stroke="#000" stroke-width="0.12" text-anchor="middle" style="" >40</text>
<text x="594.77" y="155" font-size="11" fill="#000" stroke="#000" stroke-width="0.12" text-anchor="middle" style="" >45</text>
<text x="612.31" y="155" font-size="11" fill="#000" stroke="#000" stroke-width="0.12" text-anchor="middle" style="" >50</text>
<text x="629.86" y="155" font-size="11" fill="#000" stroke="#000" stroke-width="0.12" text-anchor="middle" style="" >55</text>
<text x="647.4" y="155" font-size="11" fill="#000" stroke="#000" stroke-width="0.12" text-anchor="middle" style="" >60</text>
<text x="570.8" y="168.8" font-size="12.2" fill="#000" stroke="#000" stroke-width="0.12" text-anchor="middle" style="" >Time / min</text>
<text transform="translate(466.6,73.4) rotate(-90)" font-size="12.4" fill="#000" stroke="#000" stroke-width="0.12" text-anchor="middle" style="" ><tspan style="font-style:italic">d</tspan>-spacing / &#197;</text>
<text transform="translate(681.8,75.2) rotate(-90)" font-size="12.7" fill="#7a3fc2" stroke="#7a3fc2" stroke-width="0.12" text-anchor="middle" style="" >Temperature / &#176;C</text>
<circle cx="490" cy="37.8" r="1.7" stroke="#e5322d" fill="none" stroke-width="0.6"/>
<circle cx="491.5" cy="37.15" r="1.7" stroke="#e5322d" fill="none" stroke-width="0.6"/>
<circle cx="493" cy="36.5" r="1.7" stroke="#e5322d" fill="none" stroke-width="0.6"/>
<circle cx="494.13" cy="36.27" r="1.7" stroke="#e5322d" fill="none" stroke-width="0.6"/>
<circle cx="495.27" cy="36.03" r="1.7" stroke="#e5322d" fill="none" stroke-width="0.6"/>
<circle cx="496.4" cy="35.8" r="1.7" stroke="#e5322d" fill="none" stroke-width="0.6"/>
<circle cx="497.6" cy="36.07" r="1.7" stroke="#e5322d" fill="none" stroke-width="0.6"/>
<circle cx="498.8" cy="36.33" r="1.7" stroke="#e5322d" fill="none" stroke-width="0.6"/>
<circle cx="500" cy="36.6" r="1.7" stroke="#e5322d" fill="none" stroke-width="0.6"/>
<circle cx="501" cy="37.1" r="1.7" stroke="#e5322d" fill="none" stroke-width="0.6"/>
<circle cx="502" cy="37.6" r="1.7" stroke="#e5322d" fill="none" stroke-width="0.6"/>
<circle cx="503" cy="38.1" r="1.7" stroke="#e5322d" fill="none" stroke-width="0.6"/>
<circle cx="504.6" cy="39.4" r="1.7" stroke="#e5322d" fill="none" stroke-width="0.6"/>
<circle cx="503" cy="33.4" r="1.7" stroke="#e5322d" fill="none" stroke-width="0.6"/>
<circle cx="504.33" cy="33.8" r="1.7" stroke="#e5322d" fill="none" stroke-width="0.6"/>
<circle cx="505.67" cy="34.2" r="1.7" stroke="#e5322d" fill="none" stroke-width="0.6"/>
<circle cx="507" cy="34.6" r="1.7" stroke="#e5322d" fill="none" stroke-width="0.6"/>
<circle cx="508.5" cy="35.1" r="1.7" stroke="#e5322d" fill="none" stroke-width="0.6"/>
<circle cx="510" cy="35.6" r="1.7" stroke="#e5322d" fill="none" stroke-width="0.6"/>
<circle cx="511.2" cy="36.15" r="1.7" stroke="#e5322d" fill="none" stroke-width="0.6"/>
<circle cx="512.4" cy="36.7" r="1.7" stroke="#e5322d" fill="none" stroke-width="0.6"/>
<circle cx="513.7" cy="37.4" r="1.7" stroke="#e5322d" fill="none" stroke-width="0.6"/>
<circle cx="515" cy="38.1" r="1.7" stroke="#e5322d" fill="none" stroke-width="0.6"/>
<circle cx="516.8" cy="39.3" r="1.7" stroke="#e5322d" fill="none" stroke-width="0.6"/>
<circle cx="514.7" cy="41.6" r="1.7" stroke="#e5322d" fill="#fff" stroke-width="0.6"/>
<circle cx="517.2" cy="40.6" r="1.7" stroke="#e5322d" fill="#fff" stroke-width="0.6"/>
<circle cx="519.2" cy="39.6" r="1.7" stroke="#e5322d" fill="#fff" stroke-width="0.6"/>
<circle cx="520.4" cy="42.1" r="1.7" stroke="#e5322d" fill="#fff" stroke-width="0.6"/>
<circle cx="503" cy="46.3" r="1.7" stroke="#6470c8" fill="none" stroke-width="0.55"/>
<circle cx="504.27" cy="46.93" r="1.7" stroke="#6470c8" fill="none" stroke-width="0.55"/>
<circle cx="505.53" cy="47.57" r="1.7" stroke="#6470c8" fill="none" stroke-width="0.55"/>
<circle cx="506.8" cy="48.2" r="1.7" stroke="#6470c8" fill="none" stroke-width="0.55"/>
<circle cx="507.98" cy="48.65" r="1.7" stroke="#6470c8" fill="none" stroke-width="0.55"/>
<circle cx="509.15" cy="49.1" r="1.7" stroke="#6470c8" fill="none" stroke-width="0.55"/>
<circle cx="510.32" cy="49.55" r="1.7" stroke="#6470c8" fill="none" stroke-width="0.55"/>
<circle cx="511.5" cy="50" r="1.7" stroke="#6470c8" fill="none" stroke-width="0.55"/>
<circle cx="512.65" cy="50.12" r="1.7" stroke="#6470c8" fill="none" stroke-width="0.55"/>
<circle cx="513.8" cy="50.25" r="1.7" stroke="#6470c8" fill="none" stroke-width="0.55"/>
<circle cx="514.95" cy="50.38" r="1.7" stroke="#6470c8" fill="none" stroke-width="0.55"/>
<circle cx="516.1" cy="50.5" r="1.7" stroke="#6470c8" fill="none" stroke-width="0.55"/>
<circle cx="517.07" cy="49.87" r="1.7" stroke="#6470c8" fill="none" stroke-width="0.55"/>
<circle cx="518.03" cy="49.23" r="1.7" stroke="#6470c8" fill="none" stroke-width="0.55"/>
<circle cx="519" cy="48.6" r="1.7" stroke="#6470c8" fill="none" stroke-width="0.55"/>
<circle cx="520.8" cy="47.7" r="1.7" stroke="#6470c8" fill="none" stroke-width="0.55"/>
<circle cx="521.97" cy="48.4" r="1.7" stroke="#6470c8" fill="none" stroke-width="0.55"/>
<circle cx="523.15" cy="49.1" r="1.7" stroke="#6470c8" fill="none" stroke-width="0.55"/>
<circle cx="524.33" cy="49.8" r="1.7" stroke="#6470c8" fill="none" stroke-width="0.55"/>
<circle cx="525.5" cy="50.5" r="1.7" stroke="#6470c8" fill="none" stroke-width="0.55"/>
<circle cx="526.45" cy="51.1" r="1.7" stroke="#6470c8" fill="none" stroke-width="0.55"/>
<circle cx="527.4" cy="51.7" r="1.7" stroke="#6470c8" fill="none" stroke-width="0.55"/>
<circle cx="528.35" cy="52.3" r="1.7" stroke="#6470c8" fill="none" stroke-width="0.55"/>
<circle cx="529.3" cy="52.9" r="1.7" stroke="#6470c8" fill="none" stroke-width="0.55"/>
<circle cx="530.35" cy="53.55" r="1.7" stroke="#6470c8" fill="none" stroke-width="0.55"/>
<circle cx="531.4" cy="54.2" r="1.7" stroke="#6470c8" fill="none" stroke-width="0.55"/>
<circle cx="520.6" cy="75.5" r="1.6" stroke="#d46cc0" fill="none" stroke-width="0.5"/>
<circle cx="521.7" cy="75.55" r="1.6" stroke="#d46cc0" fill="none" stroke-width="0.5"/>
<circle cx="522.8" cy="75.6" r="1.6" stroke="#d46cc0" fill="none" stroke-width="0.5"/>
<circle cx="523.9" cy="75.65" r="1.6" stroke="#d46cc0" fill="none" stroke-width="0.5"/>
<circle cx="525" cy="75.7" r="1.6" stroke="#d46cc0" fill="none" stroke-width="0.5"/>
<circle cx="526.25" cy="75.75" r="1.6" stroke="#d46cc0" fill="none" stroke-width="0.5"/>
<circle cx="527.5" cy="75.8" r="1.6" stroke="#d46cc0" fill="none" stroke-width="0.5"/>
<circle cx="528.75" cy="75.85" r="1.6" stroke="#d46cc0" fill="none" stroke-width="0.5"/>
<circle cx="530" cy="75.9" r="1.6" stroke="#d46cc0" fill="none" stroke-width="0.5"/>
<circle cx="531.25" cy="75.98" r="1.6" stroke="#d46cc0" fill="none" stroke-width="0.5"/>
<circle cx="532.5" cy="76.05" r="1.6" stroke="#d46cc0" fill="none" stroke-width="0.5"/>
<circle cx="533.75" cy="76.12" r="1.6" stroke="#d46cc0" fill="none" stroke-width="0.5"/>
<circle cx="535" cy="76.2" r="1.6" stroke="#d46cc0" fill="none" stroke-width="0.5"/>
<circle cx="536.5" cy="76.45" r="1.6" stroke="#d46cc0" fill="none" stroke-width="0.5"/>
<circle cx="538" cy="76.7" r="1.6" stroke="#d46cc0" fill="none" stroke-width="0.5"/>
<circle cx="538.75" cy="77.6" r="1.6" stroke="#d46cc0" fill="none" stroke-width="0.5"/>
<circle cx="539.5" cy="78.5" r="1.6" stroke="#d46cc0" fill="none" stroke-width="0.5"/>
<circle cx="531.2" cy="111.9" r="1.7" stroke="#86c84a" fill="none" stroke-width="0.6"/>
<circle cx="532.47" cy="112.2" r="1.7" stroke="#86c84a" fill="none" stroke-width="0.6"/>
<circle cx="533.73" cy="112.5" r="1.7" stroke="#86c84a" fill="none" stroke-width="0.6"/>
<circle cx="535" cy="112.8" r="1.7" stroke="#86c84a" fill="none" stroke-width="0.6"/>
<circle cx="536.25" cy="112.85" r="1.7" stroke="#86c84a" fill="none" stroke-width="0.6"/>
<circle cx="537.5" cy="112.9" r="1.7" stroke="#86c84a" fill="none" stroke-width="0.6"/>
<circle cx="538.75" cy="112.95" r="1.7" stroke="#86c84a" fill="none" stroke-width="0.6"/>
<circle cx="540" cy="113" r="1.7" stroke="#86c84a" fill="none" stroke-width="0.6"/>
<circle cx="541.11" cy="113.01" r="1.7" stroke="#86c84a" fill="none" stroke-width="0.6"/>
<circle cx="542.22" cy="113.01" r="1.7" stroke="#86c84a" fill="none" stroke-width="0.6"/>
<circle cx="543.33" cy="113.02" r="1.7" stroke="#86c84a" fill="none" stroke-width="0.6"/>
<circle cx="544.44" cy="113.02" r="1.7" stroke="#86c84a" fill="none" stroke-width="0.6"/>
<circle cx="545.56" cy="113.03" r="1.7" stroke="#86c84a" fill="none" stroke-width="0.6"/>
<circle cx="546.67" cy="113.03" r="1.7" stroke="#86c84a" fill="none" stroke-width="0.6"/>
<circle cx="547.78" cy="113.04" r="1.7" stroke="#86c84a" fill="none" stroke-width="0.6"/>
<circle cx="548.89" cy="113.04" r="1.7" stroke="#86c84a" fill="none" stroke-width="0.6"/>
<circle cx="550" cy="113.05" r="1.7" stroke="#86c84a" fill="none" stroke-width="0.6"/>
<circle cx="551.11" cy="113.06" r="1.7" stroke="#86c84a" fill="none" stroke-width="0.6"/>
<circle cx="552.22" cy="113.06" r="1.7" stroke="#86c84a" fill="none" stroke-width="0.6"/>
<circle cx="553.33" cy="113.07" r="1.7" stroke="#86c84a" fill="none" stroke-width="0.6"/>
<circle cx="554.44" cy="113.07" r="1.7" stroke="#86c84a" fill="none" stroke-width="0.6"/>
<circle cx="555.56" cy="113.08" r="1.7" stroke="#86c84a" fill="none" stroke-width="0.6"/>
<circle cx="556.67" cy="113.08" r="1.7" stroke="#86c84a" fill="none" stroke-width="0.6"/>
<circle cx="557.78" cy="113.09" r="1.7" stroke="#86c84a" fill="none" stroke-width="0.6"/>
<circle cx="558.89" cy="113.09" r="1.7" stroke="#86c84a" fill="none" stroke-width="0.6"/>
<circle cx="560" cy="113.1" r="1.7" stroke="#86c84a" fill="none" stroke-width="0.6"/>
<circle cx="561.11" cy="113.11" r="1.7" stroke="#86c84a" fill="none" stroke-width="0.6"/>
<circle cx="562.22" cy="113.11" r="1.7" stroke="#86c84a" fill="none" stroke-width="0.6"/>
<circle cx="563.33" cy="113.12" r="1.7" stroke="#86c84a" fill="none" stroke-width="0.6"/>
<circle cx="564.44" cy="113.12" r="1.7" stroke="#86c84a" fill="none" stroke-width="0.6"/>
<circle cx="565.56" cy="113.13" r="1.7" stroke="#86c84a" fill="none" stroke-width="0.6"/>
<circle cx="566.67" cy="113.13" r="1.7" stroke="#86c84a" fill="none" stroke-width="0.6"/>
<circle cx="567.78" cy="113.14" r="1.7" stroke="#86c84a" fill="none" stroke-width="0.6"/>
<circle cx="568.89" cy="113.14" r="1.7" stroke="#86c84a" fill="none" stroke-width="0.6"/>
<circle cx="570" cy="113.15" r="1.7" stroke="#86c84a" fill="none" stroke-width="0.6"/>
<circle cx="571.11" cy="113.16" r="1.7" stroke="#86c84a" fill="none" stroke-width="0.6"/>
<circle cx="572.22" cy="113.16" r="1.7" stroke="#86c84a" fill="none" stroke-width="0.6"/>
<circle cx="573.33" cy="113.17" r="1.7" stroke="#86c84a" fill="none" stroke-width="0.6"/>
<circle cx="574.44" cy="113.17" r="1.7" stroke="#86c84a" fill="none" stroke-width="0.6"/>
<circle cx="575.56" cy="113.18" r="1.7" stroke="#86c84a" fill="none" stroke-width="0.6"/>
<circle cx="576.67" cy="113.18" r="1.7" stroke="#86c84a" fill="none" stroke-width="0.6"/>
<circle cx="577.78" cy="113.19" r="1.7" stroke="#86c84a" fill="none" stroke-width="0.6"/>
<circle cx="578.89" cy="113.19" r="1.7" stroke="#86c84a" fill="none" stroke-width="0.6"/>
<circle cx="580" cy="113.2" r="1.7" stroke="#86c84a" fill="none" stroke-width="0.6"/>
<circle cx="581.11" cy="113.21" r="1.7" stroke="#86c84a" fill="none" stroke-width="0.6"/>
<circle cx="582.22" cy="113.21" r="1.7" stroke="#86c84a" fill="none" stroke-width="0.6"/>
<circle cx="583.33" cy="113.22" r="1.7" stroke="#86c84a" fill="none" stroke-width="0.6"/>
<circle cx="584.44" cy="113.22" r="1.7" stroke="#86c84a" fill="none" stroke-width="0.6"/>
<circle cx="585.56" cy="113.23" r="1.7" stroke="#86c84a" fill="none" stroke-width="0.6"/>
<circle cx="586.67" cy="113.23" r="1.7" stroke="#86c84a" fill="none" stroke-width="0.6"/>
<circle cx="587.78" cy="113.24" r="1.7" stroke="#86c84a" fill="none" stroke-width="0.6"/>
<circle cx="588.89" cy="113.24" r="1.7" stroke="#86c84a" fill="none" stroke-width="0.6"/>
<circle cx="590" cy="113.25" r="1.7" stroke="#86c84a" fill="none" stroke-width="0.6"/>
<circle cx="591.11" cy="113.26" r="1.7" stroke="#86c84a" fill="none" stroke-width="0.6"/>
<circle cx="592.22" cy="113.26" r="1.7" stroke="#86c84a" fill="none" stroke-width="0.6"/>
<circle cx="593.33" cy="113.27" r="1.7" stroke="#86c84a" fill="none" stroke-width="0.6"/>
<circle cx="594.44" cy="113.27" r="1.7" stroke="#86c84a" fill="none" stroke-width="0.6"/>
<circle cx="595.56" cy="113.28" r="1.7" stroke="#86c84a" fill="none" stroke-width="0.6"/>
<circle cx="596.67" cy="113.28" r="1.7" stroke="#86c84a" fill="none" stroke-width="0.6"/>
<circle cx="597.78" cy="113.29" r="1.7" stroke="#86c84a" fill="none" stroke-width="0.6"/>
<circle cx="598.89" cy="113.29" r="1.7" stroke="#86c84a" fill="none" stroke-width="0.6"/>
<circle cx="600" cy="113.3" r="1.7" stroke="#86c84a" fill="none" stroke-width="0.6"/>
<circle cx="601.11" cy="113.3" r="1.7" stroke="#86c84a" fill="none" stroke-width="0.6"/>
<circle cx="602.21" cy="113.3" r="1.7" stroke="#86c84a" fill="none" stroke-width="0.6"/>
<circle cx="603.32" cy="113.31" r="1.7" stroke="#86c84a" fill="none" stroke-width="0.6"/>
<circle cx="604.43" cy="113.31" r="1.7" stroke="#86c84a" fill="none" stroke-width="0.6"/>
<circle cx="605.54" cy="113.31" r="1.7" stroke="#86c84a" fill="none" stroke-width="0.6"/>
<circle cx="606.64" cy="113.31" r="1.7" stroke="#86c84a" fill="none" stroke-width="0.6"/>
<circle cx="607.75" cy="113.32" r="1.7" stroke="#86c84a" fill="none" stroke-width="0.6"/>
<circle cx="608.86" cy="113.32" r="1.7" stroke="#86c84a" fill="none" stroke-width="0.6"/>
<circle cx="609.96" cy="113.32" r="1.7" stroke="#86c84a" fill="none" stroke-width="0.6"/>
<circle cx="611.07" cy="113.32" r="1.7" stroke="#86c84a" fill="none" stroke-width="0.6"/>
<circle cx="612.18" cy="113.33" r="1.7" stroke="#86c84a" fill="none" stroke-width="0.6"/>
<circle cx="613.29" cy="113.33" r="1.7" stroke="#86c84a" fill="none" stroke-width="0.6"/>
<circle cx="614.39" cy="113.33" r="1.7" stroke="#86c84a" fill="none" stroke-width="0.6"/>
<circle cx="615.5" cy="113.33" r="1.7" stroke="#86c84a" fill="none" stroke-width="0.6"/>
<circle cx="616.61" cy="113.34" r="1.7" stroke="#86c84a" fill="none" stroke-width="0.6"/>
<circle cx="617.71" cy="113.34" r="1.7" stroke="#86c84a" fill="none" stroke-width="0.6"/>
<circle cx="618.82" cy="113.34" r="1.7" stroke="#86c84a" fill="none" stroke-width="0.6"/>
<circle cx="619.93" cy="113.34" r="1.7" stroke="#86c84a" fill="none" stroke-width="0.6"/>
<circle cx="621.04" cy="113.35" r="1.7" stroke="#86c84a" fill="none" stroke-width="0.6"/>
<circle cx="622.14" cy="113.35" r="1.7" stroke="#86c84a" fill="none" stroke-width="0.6"/>
<circle cx="623.25" cy="113.35" r="1.7" stroke="#86c84a" fill="none" stroke-width="0.6"/>
<circle cx="624.36" cy="113.35" r="1.7" stroke="#86c84a" fill="none" stroke-width="0.6"/>
<circle cx="625.46" cy="113.35" r="1.7" stroke="#86c84a" fill="none" stroke-width="0.6"/>
<circle cx="626.57" cy="113.36" r="1.7" stroke="#86c84a" fill="none" stroke-width="0.6"/>
<circle cx="627.68" cy="113.36" r="1.7" stroke="#86c84a" fill="none" stroke-width="0.6"/>
<circle cx="628.79" cy="113.36" r="1.7" stroke="#86c84a" fill="none" stroke-width="0.6"/>
<circle cx="629.89" cy="113.36" r="1.7" stroke="#86c84a" fill="none" stroke-width="0.6"/>
<circle cx="631" cy="113.37" r="1.7" stroke="#86c84a" fill="none" stroke-width="0.6"/>
<circle cx="632.11" cy="113.37" r="1.7" stroke="#86c84a" fill="none" stroke-width="0.6"/>
<circle cx="633.21" cy="113.37" r="1.7" stroke="#86c84a" fill="none" stroke-width="0.6"/>
<circle cx="634.32" cy="113.37" r="1.7" stroke="#86c84a" fill="none" stroke-width="0.6"/>
<circle cx="635.43" cy="113.38" r="1.7" stroke="#86c84a" fill="none" stroke-width="0.6"/>
<circle cx="636.54" cy="113.38" r="1.7" stroke="#86c84a" fill="none" stroke-width="0.6"/>
<circle cx="637.64" cy="113.38" r="1.7" stroke="#86c84a" fill="none" stroke-width="0.6"/>
<circle cx="638.75" cy="113.38" r="1.7" stroke="#86c84a" fill="none" stroke-width="0.6"/>
<circle cx="639.86" cy="113.39" r="1.7" stroke="#86c84a" fill="none" stroke-width="0.6"/>
<circle cx="640.96" cy="113.39" r="1.7" stroke="#86c84a" fill="none" stroke-width="0.6"/>
<circle cx="642.07" cy="113.39" r="1.7" stroke="#86c84a" fill="none" stroke-width="0.6"/>
<circle cx="643.18" cy="113.39" r="1.7" stroke="#86c84a" fill="none" stroke-width="0.6"/>
<circle cx="644.29" cy="113.4" r="1.7" stroke="#86c84a" fill="none" stroke-width="0.6"/>
<circle cx="645.39" cy="113.4" r="1.7" stroke="#86c84a" fill="none" stroke-width="0.6"/>
<circle cx="646.5" cy="113.4" r="1.7" stroke="#86c84a" fill="none" stroke-width="0.6"/>
<path d="M489.5,136.2 L542.4,26.6 L647.4,26.6" stroke="#7a3fc2" stroke-width="1.3" fill="none" stroke-linejoin="round" />
<line x1="541.4" y1="36.3" x2="558.5" y2="36.3" stroke="#7a3fc2" stroke-width="1" />
<path d="M562.4,36.3 L556.4,34.2 L556.4,38.4 Z" fill="#7a3fc2"/>
<text x="506.2" y="28.4" font-size="12.2" fill="#e5322d" stroke="#e5322d" stroke-width="0.12" text-anchor="start" style="" >C<tspan font-size="8.3" dy="4.2">6</tspan><tspan dy="-4.2">Li</tspan></text>
<text x="537.4" y="57.6" font-size="12.2" fill="#3a48a6" stroke="#3a48a6" stroke-width="0.12" text-anchor="start" style="" >C<tspan font-size="8.3" dy="4.2">12</tspan><tspan dy="-4.2">Li</tspan></text>
<text x="546.2" y="83.1" font-size="12.2" fill="#cc4aa8" stroke="#cc4aa8" stroke-width="0.12" text-anchor="start" style="" >C<tspan font-size="8.3" dy="4.2">18</tspan><tspan dy="-4.2">Li/C</tspan><tspan font-size="8.3" dy="4.2">24</tspan><tspan dy="-4.2">Li</tspan></text>
<text x="514.2" y="116.3" font-size="12.2" fill="#84c441" stroke="#84c441" stroke-width="0.12" text-anchor="start" style="" >C<tspan font-size="8.3" dy="4.6">6</tspan></text>
<rect x="489.8" y="172.7" width="159.4" height="140.6" fill="#3e4ba7"/>
<path d="M489.8,250.97 L491.1,251.27 L492.4,251.59 L493.7,251.68 L495,251.8 L496.3,251.96 L497.6,251.66 L498.9,250.79 L500.2,251.95 L501.5,251.07 L502.8,251.51 L504.1,251.2 L505.4,251.78 L506.7,250.92 L508,251 L509.3,250.99 L510.6,250.85 L511.9,252.01 L513.2,251.53 L514.5,251.12 L515.8,251.23 L517.1,252.19 L518.4,251.41 L519.7,250.97 L521,251.89 L522.3,251.65 L523.6,252.19 L524.9,250.76 L526.2,251.36 L527.5,251.91 L528.8,251.94 L530.1,252.06 L531.4,250.66 L532.7,251.07 L534,250.79 L535.3,248.9 L536.6,250.16 L537.9,249.53 L539.2,250.09 L540.5,249.2 L541.8,249.99 L543.1,249.32 L544.4,249.02 L545.7,249.84 L547,250.11 L548.3,248.77 L549.6,249.55 L550.9,249.59 L552.2,248.95 L553.5,249.19 L554.8,248.83 L556.1,248.93 L557.4,249.01 L558.7,249.56 L560,249.64 L561.3,248.93 L562.6,248.62 L563.9,249.12 L565.2,249.69 L566.5,248.9 L567.8,249.1 L569.1,248.93 L570.4,249.87 L571.7,249.48 L573,248.7 L574.3,248.76 L575.6,249.23 L576.9,249.48 L578.2,249.62 L579.5,248.75 L580.8,248.86 L582.1,249.71 L583.4,249.26 L584.7,249.05 L586,249.09 L587.3,250.13 L588.6,249.1 L589.9,249.51 L591.2,249.17 L592.5,249.27 L593.8,249.98 L595.1,250.19 L596.4,249.18 L597.7,248.92 L599,249.76 L600.3,248.93 L601.6,248.61 L602.9,250.04 L604.2,249.28 L605.5,249.91 L606.8,249.25 L608.1,250.01 L609.4,249.34 L610.7,248.86 L612,248.62 L613.3,249.48 L614.6,249.63 L615.9,250.06 L617.2,248.74 L618.5,249.6 L619.8,249.19 L621.1,249.41 L622.4,248.83 L623.7,249.05 L625,249.43 L626.3,250.08 L627.6,248.77 L628.9,249.38 L630.2,249.89 L631.5,250.15 L632.8,248.92 L634.1,248.8 L635.4,250.11 L636.7,250.16 L638,249.37 L639.3,248.69 L640.6,250.08 L641.9,249.22 L643.2,250.05 L644.5,249.59 L645.8,249.92 L647.1,248.86 L648.4,249.86 L649.2,249.2 L649.2,269.3 L647.9,270.42 L646.6,269.23 L645.3,269.62 L644,270.79 L642.7,269.34 L641.4,271.72 L640.1,269.91 L638.8,268.97 L637.5,269.11 L636.2,269.89 L634.9,269.45 L633.6,269.95 L632.3,270.09 L631,270.89 L629.7,270.01 L628.4,269.32 L627.1,270.3 L625.8,269.22 L624.5,270.29 L623.2,270.88 L621.9,269.7 L620.6,268.97 L619.3,269.05 L618,270.3 L616.7,269 L615.4,269.58 L614.1,269.15 L612.8,270.69 L611.5,270.37 L610.2,270.67 L608.9,270.62 L607.6,269.2 L606.3,271.78 L605,269.53 L603.7,269.19 L602.4,269.39 L601.1,269.16 L599.8,270.56 L598.5,269.37 L597.2,270.67 L595.9,269.23 L594.6,270.59 L593.3,270.51 L592,271.51 L590.7,269.86 L589.4,269.55 L588.1,269.9 L586.8,271.69 L585.5,270.69 L584.2,269.61 L582.9,269.38 L581.6,269.94 L580.3,270.28 L579,269.22 L577.7,268.99 L576.4,269.36 L575.1,270.67 L573.8,270.09 L572.5,270.1 L571.2,269.17 L569.9,269.68 L568.6,271.71 L567.3,269.31 L566,270.14 L564.7,270.74 L563.4,269.54 L562.1,269.95 L560.8,269.27 L559.5,270.95 L558.2,270.59 L556.9,270.37 L555.6,270.05 L554.3,270.31 L553,270.58 L551.7,270.06 L550.4,269.53 L549.1,269.7 L547.8,270.22 L546.5,271.73 L545.2,269.86 L543.9,270.53 L542.6,271.5 L541.3,269.89 L540,269.16 L538.7,269.99 L537.4,270.05 L536.1,269.21 L534.8,270.64 L533.5,270.5 L532.2,271.39 L530.9,270.42 L529.6,269.74 L528.3,269.71 L527,269.09 L525.7,268.97 L524.4,270.25 L523.1,270.42 L521.8,269.38 L520.5,269.68 L519.2,269.84 L517.9,270.06 L516.6,269.29 L515.3,268.93 L514,269.32 L512.7,270.6 L511.4,269.49 L510.1,269.49 L508.8,270.53 L507.5,270.15 L506.2,270.66 L504.9,270.41 L503.6,270.44 L502.3,270.2 L501,269.45 L499.7,271.22 L498.4,271.74 L497.1,270.15 L495.8,270.57 L494.5,270.36 L493.2,268.97 L491.9,270.04 L490.6,271.43 L489.8,269.5 Z" fill="#4a7ccb" stroke="#2c3478" stroke-width="0.4" stroke-linejoin="round"/>
<path d="M649.2,251.6 L538,251.6 A6.2,6.2 0 0 0 538,264 L649.2,264 Z" fill="#84dbe8" stroke="#b8f0f4" stroke-width="0.6"/>
<path d="M649.2,252.55 L539.25,252.55 A5.25,5.25 0 0 0 539.25,263.05 L649.2,263.05 Z" fill="#7cc84a" stroke="#2c3478" stroke-width="0.4"/>
<rect x="602.25" y="253.45" width="0.95" height="0.8" fill="#9ccc3c"/>
<rect x="559.08" y="253" width="1.47" height="0.8" fill="#b8d838"/>
<rect x="550.88" y="261.61" width="1.27" height="0.8" fill="#b8d838"/>
<rect x="565.3" y="253.43" width="2.07" height="0.8" fill="#b8d838"/>
<rect x="622.31" y="261.13" width="1.9" height="0.8" fill="#4f9e34"/>
<rect x="539.51" y="260.08" width="1.55" height="0.8" fill="#4f9e34"/>
<rect x="560.3" y="260.05" width="1.41" height="0.8" fill="#4f9e34"/>
<rect x="594.74" y="253.32" width="1.29" height="0.8" fill="#4f9e34"/>
<rect x="546.74" y="262.11" width="2.14" height="0.8" fill="#b8d838"/>
<rect x="593.8" y="253.84" width="1.5" height="0.8" fill="#4f9e34"/>
<rect x="548.33" y="253.95" width="1.3" height="0.8" fill="#b8d838"/>
<rect x="581.02" y="253.51" width="2.04" height="0.8" fill="#9ccc3c"/>
<rect x="538.82" y="253.17" width="2.18" height="0.8" fill="#9ccc3c"/>
<rect x="606.77" y="254.5" width="1.61" height="0.8" fill="#b8d838"/>
<rect x="594.54" y="261.06" width="1.45" height="0.8" fill="#4f9e34"/>
<rect x="613.31" y="260.45" width="1.7" height="0.8" fill="#9ccc3c"/>
<rect x="614.15" y="253.71" width="2.16" height="0.8" fill="#4f9e34"/>
<rect x="617.14" y="253.89" width="2.14" height="0.8" fill="#b8d838"/>
<rect x="565.02" y="254.52" width="1.07" height="0.8" fill="#4f9e34"/>
<rect x="552.94" y="260.65" width="1.18" height="0.8" fill="#9ccc3c"/>
<rect x="548.26" y="260.59" width="0.85" height="0.8" fill="#9ccc3c"/>
<rect x="580.77" y="261.74" width="0.83" height="0.8" fill="#9ccc3c"/>
<rect x="564.86" y="254.13" width="1.78" height="0.8" fill="#9ccc3c"/>
<rect x="601.91" y="253.96" width="1.7" height="0.8" fill="#4f9e34"/>
<rect x="586.93" y="253.36" width="1.14" height="0.8" fill="#9ccc3c"/>
<rect x="580.89" y="260.24" width="1.44" height="0.8" fill="#9ccc3c"/>
<rect x="605.74" y="253.54" width="1.89" height="0.8" fill="#b8d838"/>
<rect x="579.61" y="253.68" width="1.56" height="0.8" fill="#b8d838"/>
<rect x="554.05" y="262.43" width="1.99" height="0.8" fill="#4f9e34"/>
<rect x="587.25" y="253.17" width="1.53" height="0.8" fill="#b8d838"/>
<rect x="582.04" y="254.51" width="1.52" height="0.8" fill="#9ccc3c"/>
<rect x="640.65" y="254.11" width="1.18" height="0.8" fill="#b8d838"/>
<rect x="580.84" y="260.97" width="1.61" height="0.8" fill="#b8d838"/>
<rect x="548.26" y="253.35" width="1.45" height="0.8" fill="#9ccc3c"/>
<rect x="554.46" y="254.47" width="1.7" height="0.8" fill="#9ccc3c"/>
<rect x="616.86" y="260.21" width="2.19" height="0.8" fill="#9ccc3c"/>
<rect x="621.26" y="261.98" width="1.9" height="0.8" fill="#b8d838"/>
<rect x="561.86" y="261.72" width="1.47" height="0.8" fill="#4f9e34"/>
<rect x="626.37" y="260.8" width="1.47" height="0.8" fill="#b8d838"/>
<rect x="584.08" y="261.65" width="2.1" height="0.8" fill="#4f9e34"/>
<rect x="631.87" y="262.12" width="1.54" height="0.8" fill="#4f9e34"/>
<rect x="574.73" y="253.85" width="1.72" height="0.8" fill="#4f9e34"/>
<rect x="564.05" y="252.98" width="1.89" height="0.8" fill="#4f9e34"/>
<rect x="574.87" y="253.07" width="1.74" height="0.8" fill="#4f9e34"/>
<rect x="636.3" y="254.22" width="1.77" height="0.8" fill="#9ccc3c"/>
<rect x="595.56" y="254.14" width="1.17" height="0.8" fill="#4f9e34"/>
<rect x="562.27" y="253.05" width="1.45" height="0.8" fill="#9ccc3c"/>
<rect x="552.2" y="253.68" width="1.98" height="0.8" fill="#4f9e34"/>
<rect x="588.51" y="261.66" width="1.4" height="0.8" fill="#b8d838"/>
<rect x="648.19" y="260.31" width="0.83" height="0.8" fill="#4f9e34"/>
<rect x="541.15" y="254.13" width="1.48" height="0.8" fill="#9ccc3c"/>
<rect x="636.71" y="252.86" width="0.93" height="0.8" fill="#b8d838"/>
<rect x="609.94" y="253.41" width="1.41" height="0.8" fill="#b8d838"/>
<rect x="583.39" y="262.11" width="1.96" height="0.8" fill="#b8d838"/>
<rect x="581.3" y="260.56" width="1.72" height="0.8" fill="#4f9e34"/>
<rect x="624.86" y="260.69" width="1.62" height="0.8" fill="#4f9e34"/>
<rect x="607.23" y="259.91" width="1.36" height="0.8" fill="#4f9e34"/>
<rect x="548.17" y="262.1" width="1.9" height="0.8" fill="#4f9e34"/>
<rect x="638.08" y="253.9" width="0.86" height="0.8" fill="#4f9e34"/>
<rect x="607.09" y="253.93" width="1.39" height="0.8" fill="#4f9e34"/>
<rect x="547.29" y="254.47" width="1.59" height="0.8" fill="#b8d838"/>
<rect x="564.95" y="260.98" width="1.4" height="0.8" fill="#4f9e34"/>
<rect x="608.01" y="254.48" width="1.88" height="0.8" fill="#4f9e34"/>
<rect x="583.24" y="254.05" width="1.75" height="0.8" fill="#4f9e34"/>
<rect x="602.63" y="254.59" width="1.88" height="0.8" fill="#9ccc3c"/>
<rect x="597.58" y="252.95" width="1.4" height="0.8" fill="#4f9e34"/>
<rect x="537.05" y="254" width="2.02" height="0.8" fill="#4f9e34"/>
<rect x="550.47" y="252.83" width="1.83" height="0.8" fill="#9ccc3c"/>
<rect x="557.03" y="252.89" width="1.21" height="0.8" fill="#4f9e34"/>
<rect x="598.55" y="261.67" width="1.8" height="0.8" fill="#4f9e34"/>
<rect x="537.28" y="252.83" width="1.24" height="0.8" fill="#9ccc3c"/>
<rect x="617.84" y="262.21" width="1.24" height="0.8" fill="#4f9e34"/>
<rect x="642.45" y="254.11" width="2.15" height="0.8" fill="#4f9e34"/>
<rect x="549.09" y="260.26" width="1.34" height="0.8" fill="#9ccc3c"/>
<rect x="624.22" y="262" width="1.19" height="0.8" fill="#b8d838"/>
<rect x="605.77" y="262.05" width="1.96" height="0.8" fill="#4f9e34"/>
<rect x="603.45" y="253.36" width="1.34" height="0.8" fill="#9ccc3c"/>
<rect x="578.21" y="260.46" width="1.76" height="0.8" fill="#b8d838"/>
<rect x="572.08" y="253.28" width="1.97" height="0.8" fill="#b8d838"/>
<rect x="627.08" y="261.4" width="1.29" height="0.8" fill="#9ccc3c"/>
<rect x="545.54" y="253.8" width="1.23" height="0.8" fill="#4f9e34"/>
<rect x="542.46" y="261.78" width="1.91" height="0.8" fill="#4f9e34"/>
<rect x="587.58" y="252.96" width="1.36" height="0.8" fill="#4f9e34"/>
<rect x="594.46" y="262.13" width="1.51" height="0.8" fill="#9ccc3c"/>
<rect x="558.65" y="260.06" width="1.61" height="0.8" fill="#b8d838"/>
<rect x="576.27" y="254.2" width="2.09" height="0.8" fill="#4f9e34"/>
<rect x="591.34" y="260.84" width="1.02" height="0.8" fill="#4f9e34"/>
<rect x="603.01" y="253.42" width="0.85" height="0.8" fill="#4f9e34"/>
<rect x="647.12" y="254.36" width="2.1" height="0.8" fill="#b8d838"/>
<rect x="567.4" y="252.97" width="1.98" height="0.8" fill="#b8d838"/>
<rect x="574.02" y="254.59" width="0.85" height="0.8" fill="#4f9e34"/>
<rect x="577.47" y="254.07" width="2.09" height="0.8" fill="#9ccc3c"/>
<rect x="615.26" y="252.96" width="2.14" height="0.8" fill="#4f9e34"/>
<rect x="611.14" y="253.51" width="2.15" height="0.8" fill="#b8d838"/>
<rect x="647.27" y="259.91" width="0.88" height="0.8" fill="#b8d838"/>
<rect x="598.03" y="262.37" width="0.88" height="0.8" fill="#9ccc3c"/>
<rect x="552.25" y="262.43" width="1.86" height="0.8" fill="#9ccc3c"/>
<rect x="547.83" y="253.38" width="1.47" height="0.8" fill="#b8d838"/>
<rect x="554.91" y="253.23" width="1.8" height="0.8" fill="#9ccc3c"/>
<rect x="557.89" y="252.86" width="2.11" height="0.8" fill="#4f9e34"/>
<rect x="633.25" y="260.19" width="2.1" height="0.8" fill="#4f9e34"/>
<rect x="579.21" y="260.01" width="1.95" height="0.8" fill="#b8d838"/>
<rect x="589.58" y="253.93" width="1.05" height="0.8" fill="#4f9e34"/>
<rect x="586.64" y="254.4" width="1.39" height="0.8" fill="#b8d838"/>
<rect x="563.69" y="261.4" width="1.93" height="0.8" fill="#b8d838"/>
<rect x="565.25" y="261.08" width="1.01" height="0.8" fill="#4f9e34"/>
<rect x="593.61" y="253.94" width="1.97" height="0.8" fill="#9ccc3c"/>
<rect x="549.37" y="262.52" width="2.2" height="0.8" fill="#b8d838"/>
<rect x="639.79" y="252.98" width="1.97" height="0.8" fill="#4f9e34"/>
<rect x="645.79" y="261.59" width="1.52" height="0.8" fill="#b8d838"/>
<rect x="585.71" y="262.44" width="1.3" height="0.8" fill="#4f9e34"/>
<rect x="540.55" y="253.54" width="1.98" height="0.8" fill="#4f9e34"/>
<rect x="594.53" y="253.21" width="2.05" height="0.8" fill="#4f9e34"/>
<rect x="618" y="254.17" width="1.62" height="0.8" fill="#4f9e34"/>
<rect x="558.7" y="261.85" width="1.53" height="0.8" fill="#4f9e34"/>
<rect x="575.01" y="261.59" width="0.82" height="0.8" fill="#4f9e34"/>
<rect x="638.13" y="262.24" width="1.06" height="0.8" fill="#4f9e34"/>
<rect x="629.31" y="260.26" width="1.3" height="0.8" fill="#4f9e34"/>
<rect x="640.58" y="260" width="1.94" height="0.8" fill="#4f9e34"/>
<rect x="633.11" y="261.79" width="1.21" height="0.8" fill="#4f9e34"/>
<rect x="548.08" y="254.12" width="0.83" height="0.8" fill="#4f9e34"/>
<rect x="644.55" y="253.2" width="1.15" height="0.8" fill="#b8d838"/>
<rect x="627.68" y="252.85" width="0.82" height="0.8" fill="#b8d838"/>
<rect x="603.25" y="261.26" width="1.29" height="0.8" fill="#4f9e34"/>
<rect x="546.54" y="260.56" width="1.62" height="0.8" fill="#9ccc3c"/>
<rect x="621.44" y="253" width="2.01" height="0.8" fill="#4f9e34"/>
<rect x="552.52" y="253.83" width="2.11" height="0.8" fill="#4f9e34"/>
<rect x="579.62" y="253.56" width="2.16" height="0.8" fill="#9ccc3c"/>
<rect x="541.83" y="260.92" width="1.98" height="0.8" fill="#9ccc3c"/>
<rect x="599.33" y="260.7" width="1.25" height="0.8" fill="#4f9e34"/>
<rect x="552.45" y="260.79" width="1.31" height="0.8" fill="#4f9e34"/>
<rect x="595.56" y="252.92" width="1" height="0.8" fill="#4f9e34"/>
<rect x="644.8" y="254.2" width="0.85" height="0.8" fill="#4f9e34"/>
<rect x="607.98" y="261.7" width="1.67" height="0.8" fill="#4f9e34"/>
<rect x="564.12" y="253.74" width="0.96" height="0.8" fill="#b8d838"/>
<rect x="575" y="259.97" width="1.45" height="0.8" fill="#4f9e34"/>
<rect x="595.9" y="253.07" width="2.08" height="0.8" fill="#b8d838"/>
<rect x="600.78" y="261.86" width="1.65" height="0.8" fill="#9ccc3c"/>
<rect x="599.97" y="260.36" width="2.05" height="0.8" fill="#9ccc3c"/>
<rect x="570.08" y="253.66" width="1.27" height="0.8" fill="#4f9e34"/>
<path d="M649.2,254.7 L540.7,254.7 A2.5,2.5 0 0 0 540.7,259.7 L649.2,259.7 Z" fill="#d8dc3a" stroke="#2c3478" stroke-width="0.2"/>
<path d="M649.2,255.2 L541.35,255.2 A1.95,1.95 0 0 0 541.35,259.1 L649.2,259.1 Z" fill="#f08a1e" stroke="#2c3478" stroke-width="0.2"/>
<rect x="543.38" y="257.55" width="2.36" height="0.9" fill="#c8321e" opacity="0.85"/>
<rect x="546.39" y="257.92" width="1.23" height="0.9" fill="#c8321e" opacity="0.85"/>
<rect x="550.1" y="257.32" width="1.46" height="0.9" fill="#c8321e" opacity="0.85"/>
<rect x="551.34" y="257.88" width="1.3" height="0.9" fill="#c8321e" opacity="0.85"/>
<rect x="553.51" y="257.02" width="1.77" height="0.9" fill="#c8321e" opacity="0.85"/>
<rect x="557.21" y="257.35" width="1.92" height="0.9" fill="#c8321e" opacity="0.85"/>
<rect x="559.63" y="257.83" width="1.5" height="0.9" fill="#c8321e" opacity="0.85"/>
<rect x="562.73" y="257.52" width="2.39" height="0.9" fill="#c8321e" opacity="0.85"/>
<rect x="565.16" y="257.93" width="1.58" height="0.9" fill="#c8321e" opacity="0.85"/>
<rect x="567.74" y="257.14" width="1.28" height="0.9" fill="#c8321e" opacity="0.85"/>
<rect x="570.22" y="257.28" width="2.17" height="0.9" fill="#c8321e" opacity="0.85"/>
<rect x="571.79" y="257.86" width="2.29" height="0.9" fill="#c8321e" opacity="0.85"/>
<rect x="576.19" y="257.27" width="1.88" height="0.9" fill="#c8321e" opacity="0.85"/>
<rect x="578.06" y="257.7" width="1.58" height="0.9" fill="#c8321e" opacity="0.85"/>
<rect x="579.61" y="257.41" width="1.77" height="0.9" fill="#c8321e" opacity="0.85"/>
<rect x="582.23" y="257.4" width="2.39" height="0.9" fill="#c8321e" opacity="0.85"/>
<rect x="584.9" y="257.85" width="1.39" height="0.9" fill="#c8321e" opacity="0.85"/>
<rect x="588.44" y="257.11" width="2.19" height="0.9" fill="#c8321e" opacity="0.85"/>
<rect x="591.19" y="257.29" width="1.49" height="0.9" fill="#c8321e" opacity="0.85"/>
<rect x="593.11" y="257.53" width="1.83" height="0.9" fill="#c8321e" opacity="0.85"/>
<rect x="596.3" y="257.01" width="2.04" height="0.9" fill="#c8321e" opacity="0.85"/>
<rect x="599.58" y="257.38" width="1.42" height="0.9" fill="#c8321e" opacity="0.85"/>
<rect x="601.27" y="257.8" width="1.61" height="0.9" fill="#c8321e" opacity="0.85"/>
<rect x="603.55" y="257.23" width="2.15" height="0.9" fill="#c8321e" opacity="0.85"/>
<rect x="606.06" y="257.97" width="1.85" height="0.9" fill="#c8321e" opacity="0.85"/>
<rect x="608.49" y="257.33" width="2.36" height="0.9" fill="#c8321e" opacity="0.85"/>
<rect x="612.38" y="257.96" width="1.04" height="0.9" fill="#c8321e" opacity="0.85"/>
<rect x="613.71" y="257.9" width="1.42" height="0.9" fill="#c8321e" opacity="0.85"/>
<rect x="616.87" y="257.31" width="1.87" height="0.9" fill="#c8321e" opacity="0.85"/>
<rect x="619.27" y="257.83" width="2.02" height="0.9" fill="#c8321e" opacity="0.85"/>
<rect x="621.86" y="257.46" width="1.06" height="0.9" fill="#c8321e" opacity="0.85"/>
<rect x="624.95" y="257.45" width="1.01" height="0.9" fill="#c8321e" opacity="0.85"/>
<rect x="626.34" y="257.23" width="1.57" height="0.9" fill="#c8321e" opacity="0.85"/>
<rect x="629.8" y="257.65" width="2.3" height="0.9" fill="#c8321e" opacity="0.85"/>
<rect x="631.71" y="257.19" width="1.59" height="0.9" fill="#c8321e" opacity="0.85"/>
<rect x="634.8" y="257.77" width="2.26" height="0.9" fill="#c8321e" opacity="0.85"/>
<rect x="637.77" y="257.69" width="2.05" height="0.9" fill="#c8321e" opacity="0.85"/>
<rect x="639.38" y="257.36" width="1.51" height="0.9" fill="#c8321e" opacity="0.85"/>
<rect x="641.95" y="257.31" width="1.25" height="0.9" fill="#c8321e" opacity="0.85"/>
<rect x="645.71" y="257.29" width="1.48" height="0.9" fill="#c8321e" opacity="0.85"/>
<rect x="489.8" y="280.4" width="159.4" height="8.2" fill="#4a7ccb"/>
<rect x="489.8" y="281.6" width="159.4" height="5.7" fill="#84dbe8"/>
<rect x="489.8" y="282.9" width="159.4" height="3.1" fill="#7cc84a"/>
<rect x="489.8" y="283.8" width="159.4" height="0.9" fill="#a8d840"/>
<rect x="489.8" y="290.5" width="159.4" height="7.9" fill="#4a7ccb"/>
<rect x="489.8" y="291.3" width="159.4" height="6.2" fill="#84dbe8"/>
<rect x="489.8" y="292.3" width="159.4" height="4.7" fill="#7cc84a"/>
<rect x="489.8" y="293.3" width="159.4" height="2.6" fill="#d8dc3a"/>
<rect x="489.8" y="293.6" width="159.4" height="0.9" fill="#a0441c"/>
<rect x="637.03" y="295.71" width="1.43" height="0.8" fill="#c8321e"/>
<rect x="618.26" y="285.28" width="1.02" height="0.8" fill="#4f9e34"/>
<rect x="588.98" y="293.73" width="1.63" height="0.8" fill="#222a40"/>
<rect x="491.49" y="284.73" width="0.8" height="0.8" fill="#2c5a8a"/>
<rect x="537.72" y="290.8" width="1.04" height="0.8" fill="#84dbe8"/>
<rect x="568.16" y="293.45" width="1.49" height="0.8" fill="#c8321e"/>
<rect x="554.51" y="283.07" width="0.93" height="0.8" fill="#2c5a8a"/>
<rect x="505.56" y="284.17" width="1.54" height="0.8" fill="#4f9e34"/>
<rect x="616.76" y="282.64" width="1.19" height="0.8" fill="#2c5a8a"/>
<rect x="602.41" y="283.11" width="1.55" height="0.8" fill="#4f9e34"/>
<rect x="625.06" y="281.7" width="1.34" height="0.8" fill="#84dbe8"/>
<rect x="550.5" y="285.27" width="1.72" height="0.8" fill="#2c5a8a"/>
<rect x="496.71" y="283.31" width="0.85" height="0.8" fill="#b0dc3c"/>
<rect x="636.31" y="286.08" width="1.16" height="0.8" fill="#2c3478"/>
<rect x="584.64" y="289.22" width="1.09" height="0.8" fill="#84dbe8"/>
<rect x="551.15" y="293.31" width="1.28" height="0.8" fill="#f08a1e"/>
<rect x="601.83" y="285.2" width="1.01" height="0.8" fill="#b0dc3c"/>
<rect x="546.21" y="285.51" width="1.28" height="0.8" fill="#4f9e34"/>
<rect x="546.93" y="285.21" width="1.28" height="0.8" fill="#4f9e34"/>
<rect x="500.1" y="285.08" width="1.46" height="0.8" fill="#4f9e34"/>
<rect x="550.77" y="293.7" width="0.84" height="0.8" fill="#4f9e34"/>
<rect x="594.36" y="283.07" width="0.96" height="0.8" fill="#2c5a8a"/>
<rect x="520.7" y="295.12" width="1.36" height="0.8" fill="#4f9e34"/>
<rect x="614.92" y="283.7" width="1.67" height="0.8" fill="#b0dc3c"/>
<rect x="549.12" y="284.22" width="1.41" height="0.8" fill="#2c3478"/>
<rect x="525.57" y="293.02" width="1.52" height="0.8" fill="#f08a1e"/>
<rect x="559.11" y="289.9" width="1.53" height="0.8" fill="#2c3478"/>
<rect x="523.25" y="282.74" width="1.45" height="0.8" fill="#84dbe8"/>
<rect x="532.36" y="293.83" width="1.17" height="0.8" fill="#c8321e"/>
<rect x="551.18" y="283.13" width="1.19" height="0.8" fill="#b0dc3c"/>
<rect x="594.12" y="284.29" width="1.77" height="0.8" fill="#4f9e34"/>
<rect x="609.18" y="284.76" width="1.07" height="0.8" fill="#b0dc3c"/>
<rect x="509.65" y="293.5" width="1.81" height="0.8" fill="#4f9e34"/>
<rect x="562.91" y="294.61" width="1.92" height="0.8" fill="#c8321e"/>
<rect x="517.56" y="285" width="1.22" height="0.8" fill="#2c5a8a"/>
<rect x="554.74" y="294.84" width="2" height="0.8" fill="#c8321e"/>
<rect x="552.84" y="282.3" width="0.94" height="0.8" fill="#2c3478"/>
<rect x="633.46" y="294.88" width="1.29" height="0.8" fill="#222a40"/>
<rect x="585.58" y="295.02" width="1.26" height="0.8" fill="#c8321e"/>
<rect x="495.98" y="284.51" width="1.48" height="0.8" fill="#b0dc3c"/>
<rect x="525.63" y="294.27" width="1.6" height="0.8" fill="#4f9e34"/>
<rect x="580.35" y="282.55" width="1.88" height="0.8" fill="#2c3478"/>
<rect x="627.54" y="294.83" width="1.62" height="0.8" fill="#c8321e"/>
<rect x="495.64" y="284.93" width="1.7" height="0.8" fill="#4f9e34"/>
<rect x="503.36" y="293.86" width="1.14" height="0.8" fill="#c8321e"/>
<rect x="503.96" y="287.98" width="1.63" height="0.8" fill="#2c3478"/>
<rect x="606.06" y="291.53" width="1.41" height="0.8" fill="#2c3478"/>
<rect x="596.29" y="284.62" width="1.39" height="0.8" fill="#b0dc3c"/>
<rect x="519.6" y="294.96" width="1.01" height="0.8" fill="#2c3478"/>
<rect x="515.57" y="293.36" width="1.1" height="0.8" fill="#f08a1e"/>
<rect x="499.15" y="283.83" width="1.56" height="0.8" fill="#b0dc3c"/>
<rect x="511.39" y="294.16" width="1.09" height="0.8" fill="#4f9e34"/>
<rect x="527.85" y="294.02" width="1.64" height="0.8" fill="#f08a1e"/>
<rect x="510.8" y="294.48" width="1.2" height="0.8" fill="#c8321e"/>
<rect x="618.14" y="295.03" width="1.61" height="0.8" fill="#c8321e"/>
<rect x="514.16" y="295.21" width="1.8" height="0.8" fill="#2c3478"/>
<rect x="507.82" y="283.68" width="0.85" height="0.8" fill="#b0dc3c"/>
<rect x="630.8" y="282.93" width="1.34" height="0.8" fill="#4f9e34"/>
<rect x="507.58" y="284.01" width="1.15" height="0.8" fill="#4f9e34"/>
<rect x="577.56" y="284.01" width="0.9" height="0.8" fill="#4f9e34"/>
<rect x="602.68" y="290.41" width="1.57" height="0.8" fill="#84dbe8"/>
<rect x="640.39" y="295.11" width="0.81" height="0.8" fill="#f08a1e"/>
<rect x="634.54" y="294.61" width="1.58" height="0.8" fill="#f08a1e"/>
<rect x="502.1" y="292.68" width="1.81" height="0.8" fill="#4f9e34"/>
<rect x="536.44" y="284.51" width="1" height="0.8" fill="#2c5a8a"/>
<rect x="613.3" y="293.52" width="1.26" height="0.8" fill="#2c3478"/>
<rect x="591.69" y="283.29" width="1.46" height="0.8" fill="#b0dc3c"/>
<rect x="547.92" y="284.77" width="0.93" height="0.8" fill="#84dbe8"/>
<rect x="616.16" y="298" width="1.89" height="0.8" fill="#2c3478"/>
<rect x="638.53" y="294.2" width="1.99" height="0.8" fill="#c8321e"/>
<rect x="584.65" y="293.05" width="1" height="0.8" fill="#c8321e"/>
<rect x="559.56" y="282.16" width="1.82" height="0.8" fill="#84dbe8"/>
<rect x="565.26" y="283.72" width="1.81" height="0.8" fill="#b0dc3c"/>
<rect x="624.43" y="293.96" width="0.89" height="0.8" fill="#f08a1e"/>
<rect x="498.5" y="295.45" width="1.33" height="0.8" fill="#222a40"/>
<rect x="594.64" y="296.33" width="1.25" height="0.8" fill="#84dbe8"/>
<rect x="490.46" y="292.35" width="1.36" height="0.8" fill="#84dbe8"/>
<rect x="575.22" y="293.97" width="1.97" height="0.8" fill="#c8321e"/>
<rect x="641.19" y="295.2" width="1.67" height="0.8" fill="#222a40"/>
<rect x="541.98" y="294.41" width="1.94" height="0.8" fill="#4f9e34"/>
<rect x="565.47" y="293.56" width="1.44" height="0.8" fill="#f08a1e"/>
<rect x="589.55" y="284.47" width="1.63" height="0.8" fill="#2c3478"/>
<rect x="512.92" y="294.38" width="1.23" height="0.8" fill="#4f9e34"/>
<rect x="527.61" y="293.44" width="1.02" height="0.8" fill="#c8321e"/>
<rect x="629.88" y="292.96" width="1.58" height="0.8" fill="#f08a1e"/>
<rect x="519.32" y="294.87" width="1.46" height="0.8" fill="#c8321e"/>
<rect x="525.46" y="292.96" width="1.82" height="0.8" fill="#222a40"/>
<rect x="596.75" y="282.94" width="1.55" height="0.8" fill="#84dbe8"/>
<rect x="640.96" y="294.07" width="1.45" height="0.8" fill="#4f9e34"/>
<rect x="642.16" y="284.03" width="0.96" height="0.8" fill="#b0dc3c"/>
<rect x="611.97" y="283.31" width="0.85" height="0.8" fill="#4f9e34"/>
<rect x="600.28" y="288.6" width="1.65" height="0.8" fill="#84dbe8"/>
<rect x="556.85" y="291.41" width="1.48" height="0.8" fill="#84dbe8"/>
<rect x="634.22" y="283.52" width="1.76" height="0.8" fill="#2c3478"/>
<rect x="605.66" y="283.37" width="1.25" height="0.8" fill="#b0dc3c"/>
<rect x="605.84" y="293.16" width="1.78" height="0.8" fill="#84dbe8"/>
<rect x="545.43" y="283.58" width="0.94" height="0.8" fill="#2c5a8a"/>
<rect x="635.45" y="293.41" width="1.63" height="0.8" fill="#c8321e"/>
<rect x="493.15" y="288.25" width="1.39" height="0.8" fill="#84dbe8"/>
<rect x="501.41" y="283.05" width="1.85" height="0.8" fill="#4f9e34"/>
<rect x="595.19" y="290.84" width="1.45" height="0.8" fill="#2c3478"/>
<rect x="598.33" y="297.11" width="0.83" height="0.8" fill="#84dbe8"/>
<rect x="646.33" y="294.15" width="1.76" height="0.8" fill="#222a40"/>
<rect x="495.38" y="285.05" width="1.52" height="0.8" fill="#2c5a8a"/>
<rect x="622.48" y="292.66" width="1.27" height="0.8" fill="#2c3478"/>
<rect x="627.21" y="292.84" width="1.43" height="0.8" fill="#f08a1e"/>
<rect x="538.79" y="284.47" width="1" height="0.8" fill="#b0dc3c"/>
<rect x="546.62" y="294.45" width="1.92" height="0.8" fill="#4f9e34"/>
<rect x="539.28" y="284.05" width="0.82" height="0.8" fill="#b0dc3c"/>
<rect x="562.11" y="281.39" width="1.67" height="0.8" fill="#84dbe8"/>
<path d="M489.8,190.9 L496.8,190.1 L505.6,190.9 L512.9,193.1 L520.3,197.5 L526.1,202.6 L529.8,207 L531.3,211.4 L529,214.3 L524.7,215.8 L517.3,214.3 L510,212.1 L502.7,209.2 L495.3,208.5 L489.8,208.5 Z" fill="#4a7ccb" stroke="#2c3478" stroke-width="0.4" stroke-linejoin="round"/>
<path d="M489.8,196 L493.9,195 L499.7,194.5 L507.1,195.3 L514.4,198.2 L520.3,201.9 L525.4,205.5 L528.3,208.5 L529,210.7 L526.9,211.4 L521.7,209.9 L517.3,208.5 L514.4,205.5 L510,204.3 L504.1,203.8 L496.8,204.3 L492.4,204.6 L489.8,204.4 Z" fill="#84dbe8" stroke="#2c3478" stroke-width="0.4" stroke-linejoin="round"/>
<ellipse cx="495.2" cy="199.6" rx="4.0" ry="2.0" fill="#7cc84a" stroke="#2c3478" stroke-width="0.3"/>
<ellipse cx="525.7" cy="208.8" rx="2.4" ry="1.7" fill="#7cc84a" stroke="#2c3478" stroke-width="0.3"/>
<path d="M518.3,225 L522,223 L526,221.3 L530.5,220.2 L535,220.8 L538.5,223.5 L539.3,226.4 L537.5,229.2 L533.6,230.4 L529,229.6 L524,227.8 Z" fill="#4a7ccb" stroke="#2c3478" stroke-width="0.4" stroke-linejoin="round"/>
<circle cx="533.2" cy="225.9" r="3.8" fill="#84dbe8" stroke="#2c3478" stroke-width="0.4"/>
<circle cx="533.2" cy="225.9" r="2.2" fill="#7cc84a" stroke="#2c3478" stroke-width="0.3"/>
<circle cx="533.2" cy="225.9" r="0.9" fill="#2a7a2a"/>
<text x="516.8" y="193.1" font-size="11.3" fill="#fff" stroke="#fff" stroke-width="0.12" text-anchor="start" style="" >C<tspan font-size="7.8" dy="3">6</tspan><tspan dy="-3">Li</tspan></text>
<text x="532.2" y="212.7" font-size="11.3" fill="#fff" stroke="#fff" stroke-width="0.12" text-anchor="start" style="" >C<tspan font-size="7.8" dy="3">12</tspan><tspan dy="-3">Li</tspan></text>
<text x="542.1" y="233.1" font-size="11.3" fill="#fff" stroke="#fff" stroke-width="0.12" text-anchor="start" style="" >C<tspan font-size="7.8" dy="3">18</tspan><tspan dy="-3">Li/C</tspan><tspan font-size="7.8" dy="3">24</tspan><tspan dy="-3">Li</tspan></text>
<text x="616.5" y="246" font-size="11.3" fill="#fff" stroke="#fff" stroke-width="0.12" text-anchor="start" style="" >C<tspan font-size="7.8" dy="3">6</tspan></text>
<text x="644" y="281" font-size="11.3" fill="#fff" stroke="#fff" stroke-width="0.12" text-anchor="end" style="" >Ta K&#945;1</text>
<text x="644" y="307" font-size="11.3" fill="#fff" stroke="#fff" stroke-width="0.12" text-anchor="end" style="" >Ta K&#945;2</text>
<line x1="489.8" y1="313.6" x2="649.2" y2="313.6" stroke="#111" stroke-width="0.7" />
<line x1="489.8" y1="313.3" x2="489.8" y2="316.5" stroke="#222" stroke-width="0.7" />
<line x1="492.33" y1="313.3" x2="492.33" y2="315.2" stroke="#222" stroke-width="0.7" />
<line x1="494.86" y1="313.3" x2="494.86" y2="315.2" stroke="#222" stroke-width="0.7" />
<line x1="497.39" y1="313.3" x2="497.39" y2="315.2" stroke="#222" stroke-width="0.7" />
<line x1="499.92" y1="313.3" x2="499.92" y2="315.2" stroke="#222" stroke-width="0.7" />
<line x1="502.45" y1="313.3" x2="502.45" y2="315.2" stroke="#222" stroke-width="0.7" />
<line x1="504.98" y1="313.3" x2="504.98" y2="315.2" stroke="#222" stroke-width="0.7" />
<line x1="507.51" y1="313.3" x2="507.51" y2="316.5" stroke="#222" stroke-width="0.7" />
<line x1="510.04" y1="313.3" x2="510.04" y2="315.2" stroke="#222" stroke-width="0.7" />
<line x1="512.57" y1="313.3" x2="512.57" y2="315.2" stroke="#222" stroke-width="0.7" />
<line x1="515.1" y1="313.3" x2="515.1" y2="315.2" stroke="#222" stroke-width="0.7" />
<line x1="517.63" y1="313.3" x2="517.63" y2="315.2" stroke="#222" stroke-width="0.7" />
<line x1="520.16" y1="313.3" x2="520.16" y2="315.2" stroke="#222" stroke-width="0.7" />
<line x1="522.69" y1="313.3" x2="522.69" y2="315.2" stroke="#222" stroke-width="0.7" />
<line x1="525.22" y1="313.3" x2="525.22" y2="316.5" stroke="#222" stroke-width="0.7" />
<line x1="527.75" y1="313.3" x2="527.75" y2="315.2" stroke="#222" stroke-width="0.7" />
<line x1="530.28" y1="313.3" x2="530.28" y2="315.2" stroke="#222" stroke-width="0.7" />
<line x1="532.81" y1="313.3" x2="532.81" y2="315.2" stroke="#222" stroke-width="0.7" />
<line x1="535.34" y1="313.3" x2="535.34" y2="315.2" stroke="#222" stroke-width="0.7" />
<line x1="537.87" y1="313.3" x2="537.87" y2="315.2" stroke="#222" stroke-width="0.7" />
<line x1="540.4" y1="313.3" x2="540.4" y2="315.2" stroke="#222" stroke-width="0.7" />
<line x1="542.93" y1="313.3" x2="542.93" y2="316.5" stroke="#222" stroke-width="0.7" />
<line x1="545.46" y1="313.3" x2="545.46" y2="315.2" stroke="#222" stroke-width="0.7" />
<line x1="547.99" y1="313.3" x2="547.99" y2="315.2" stroke="#222" stroke-width="0.7" />
<line x1="550.52" y1="313.3" x2="550.52" y2="315.2" stroke="#222" stroke-width="0.7" />
<line x1="553.05" y1="313.3" x2="553.05" y2="315.2" stroke="#222" stroke-width="0.7" />
<line x1="555.58" y1="313.3" x2="555.58" y2="315.2" stroke="#222" stroke-width="0.7" />
<line x1="558.11" y1="313.3" x2="558.11" y2="315.2" stroke="#222" stroke-width="0.7" />
<line x1="560.64" y1="313.3" x2="560.64" y2="316.5" stroke="#222" stroke-width="0.7" />
<line x1="563.17" y1="313.3" x2="563.17" y2="315.2" stroke="#222" stroke-width="0.7" />
<line x1="565.7" y1="313.3" x2="565.7" y2="315.2" stroke="#222" stroke-width="0.7" />
<line x1="568.23" y1="313.3" x2="568.23" y2="315.2" stroke="#222" stroke-width="0.7" />
<line x1="570.77" y1="313.3" x2="570.77" y2="315.2" stroke="#222" stroke-width="0.7" />
<line x1="573.3" y1="313.3" x2="573.3" y2="315.2" stroke="#222" stroke-width="0.7" />
<line x1="575.83" y1="313.3" x2="575.83" y2="315.2" stroke="#222" stroke-width="0.7" />
<line x1="578.36" y1="313.3" x2="578.36" y2="316.5" stroke="#222" stroke-width="0.7" />
<line x1="580.89" y1="313.3" x2="580.89" y2="315.2" stroke="#222" stroke-width="0.7" />
<line x1="583.42" y1="313.3" x2="583.42" y2="315.2" stroke="#222" stroke-width="0.7" />
<line x1="585.95" y1="313.3" x2="585.95" y2="315.2" stroke="#222" stroke-width="0.7" />
<line x1="588.48" y1="313.3" x2="588.48" y2="315.2" stroke="#222" stroke-width="0.7" />
<line x1="591.01" y1="313.3" x2="591.01" y2="315.2" stroke="#222" stroke-width="0.7" />
<line x1="593.54" y1="313.3" x2="593.54" y2="315.2" stroke="#222" stroke-width="0.7" />
<line x1="596.07" y1="313.3" x2="596.07" y2="316.5" stroke="#222" stroke-width="0.7" />
<line x1="598.6" y1="313.3" x2="598.6" y2="315.2" stroke="#222" stroke-width="0.7" />
<line x1="601.13" y1="313.3" x2="601.13" y2="315.2" stroke="#222" stroke-width="0.7" />
<line x1="603.66" y1="313.3" x2="603.66" y2="315.2" stroke="#222" stroke-width="0.7" />
<line x1="606.19" y1="313.3" x2="606.19" y2="315.2" stroke="#222" stroke-width="0.7" />
<line x1="608.72" y1="313.3" x2="608.72" y2="315.2" stroke="#222" stroke-width="0.7" />
<line x1="611.25" y1="313.3" x2="611.25" y2="315.2" stroke="#222" stroke-width="0.7" />
<line x1="613.78" y1="313.3" x2="613.78" y2="316.5" stroke="#222" stroke-width="0.7" />
<line x1="616.31" y1="313.3" x2="616.31" y2="315.2" stroke="#222" stroke-width="0.7" />
<line x1="618.84" y1="313.3" x2="618.84" y2="315.2" stroke="#222" stroke-width="0.7" />
<line x1="621.37" y1="313.3" x2="621.37" y2="315.2" stroke="#222" stroke-width="0.7" />
<line x1="623.9" y1="313.3" x2="623.9" y2="315.2" stroke="#222" stroke-width="0.7" />
<line x1="626.43" y1="313.3" x2="626.43" y2="315.2" stroke="#222" stroke-width="0.7" />
<line x1="628.96" y1="313.3" x2="628.96" y2="315.2" stroke="#222" stroke-width="0.7" />
<line x1="631.49" y1="313.3" x2="631.49" y2="316.5" stroke="#222" stroke-width="0.7" />
<line x1="634.02" y1="313.3" x2="634.02" y2="315.2" stroke="#222" stroke-width="0.7" />
<line x1="636.55" y1="313.3" x2="636.55" y2="315.2" stroke="#222" stroke-width="0.7" />
<line x1="639.08" y1="313.3" x2="639.08" y2="315.2" stroke="#222" stroke-width="0.7" />
<line x1="641.61" y1="313.3" x2="641.61" y2="315.2" stroke="#222" stroke-width="0.7" />
<line x1="644.14" y1="313.3" x2="644.14" y2="315.2" stroke="#222" stroke-width="0.7" />
<line x1="646.67" y1="313.3" x2="646.67" y2="315.2" stroke="#222" stroke-width="0.7" />
<line x1="649.2" y1="313.3" x2="649.2" y2="316.5" stroke="#222" stroke-width="0.7" />
<text x="489.8" y="325.9" font-size="9.2" fill="#000" stroke="#000" stroke-width="0.12" text-anchor="middle" style="" >15</text>
<text x="507.51" y="325.9" font-size="9.2" fill="#000" stroke="#000" stroke-width="0.12" text-anchor="middle" style="" >20</text>
<text x="525.22" y="325.9" font-size="9.2" fill="#000" stroke="#000" stroke-width="0.12" text-anchor="middle" style="" >25</text>
<text x="542.93" y="325.9" font-size="9.2" fill="#000" stroke="#000" stroke-width="0.12" text-anchor="middle" style="" >30</text>
<text x="560.64" y="325.9" font-size="9.2" fill="#000" stroke="#000" stroke-width="0.12" text-anchor="middle" style="" >35</text>
<text x="578.36" y="325.9" font-size="9.2" fill="#000" stroke="#000" stroke-width="0.12" text-anchor="middle" style="" >40</text>
<text x="596.07" y="325.9" font-size="9.2" fill="#000" stroke="#000" stroke-width="0.12" text-anchor="middle" style="" >45</text>
<text x="613.78" y="325.9" font-size="9.2" fill="#000" stroke="#000" stroke-width="0.12" text-anchor="middle" style="" >50</text>
<text x="631.49" y="325.9" font-size="9.2" fill="#000" stroke="#000" stroke-width="0.12" text-anchor="middle" style="" >55</text>
<text x="649.2" y="325.9" font-size="9.2" fill="#000" stroke="#000" stroke-width="0.12" text-anchor="middle" style="" >60</text>
<text x="569.4" y="337.4" font-size="10.7" fill="#000" stroke="#000" stroke-width="0.12" text-anchor="middle" style="" >Time / min</text>
<text transform="translate(479.8,239) rotate(-90)" font-size="10.9" fill="#000" stroke="#000" stroke-width="0.12" text-anchor="middle" style="" ><tspan style="font-style:italic">d</tspan>-spacing / &#197;</text>
</svg>
</body></html>
